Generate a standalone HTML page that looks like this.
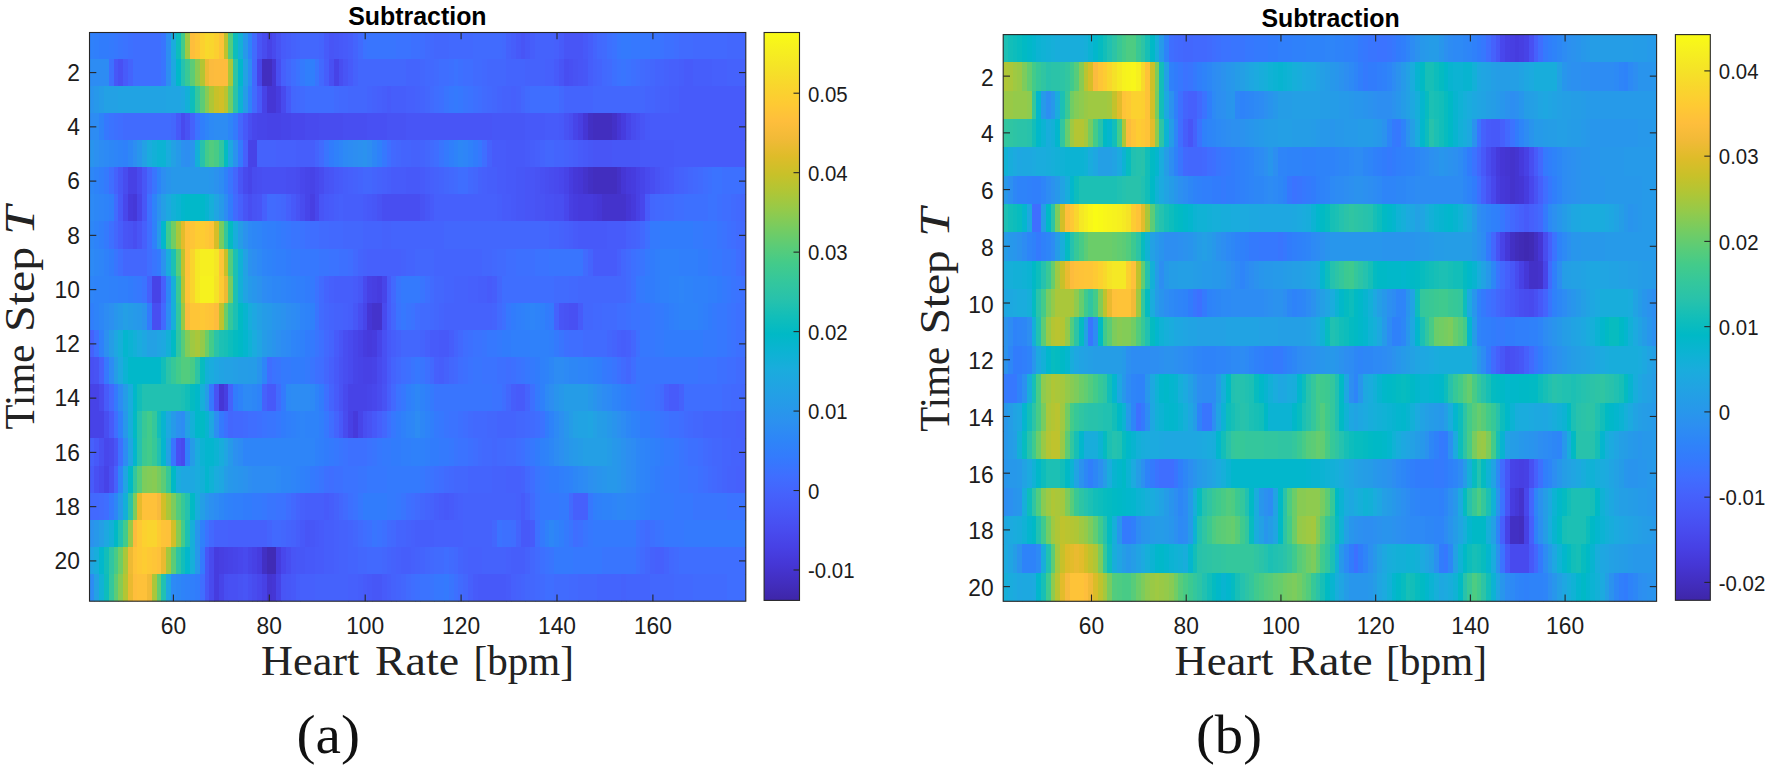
<!DOCTYPE html>
<html><head><meta charset="utf-8"><title>Subtraction</title>
<style>html,body{margin:0;padding:0;background:#fff}svg{display:block}</style></head>
<body>
<svg width="1772" height="772" viewBox="0 0 1772 772">
<rect width="1772" height="772" fill="#fff"/>
<clipPath id="lclip"><rect x="89.50" y="32.50" width="656.30" height="568.70"/></clipPath>
<g clip-path="url(#lclip)">
<g shape-rendering="crispEdges" stroke-width="27.93" fill="none">
<path d="M89.5 45.5H94.8" stroke="#2f81fa"/>
<path d="M94.3 45.5H99.6" stroke="#307ffb"/>
<path d="M99.1 45.5H109.2" stroke="#317cfc"/>
<path d="M108.7 45.5H114.0" stroke="#347afd"/>
<path d="M113.5 45.5H118.7" stroke="#3678fe"/>
<path d="M118.2 45.5H123.5" stroke="#3975fe"/>
<path d="M123.0 45.5H128.3" stroke="#3b73ff"/>
<path d="M127.8 45.5H133.1" stroke="#3d70ff"/>
<path d="M132.6 45.5H161.9" stroke="#3f6eff"/>
<path d="M161.4 45.5H166.6" stroke="#3975fe"/>
<path d="M166.1 45.5H171.4" stroke="#2d8ef1"/>
<path d="M170.9 45.5H176.2" stroke="#1aacdd"/>
<path d="M175.7 45.5H181.0" stroke="#0dbdbc"/>
<path d="M180.5 45.5H185.8" stroke="#43cb8a"/>
<path d="M185.3 45.5H190.6" stroke="#9fc942"/>
<path d="M190.1 45.5H195.4" stroke="#febe3c"/>
<path d="M194.9 45.5H200.2" stroke="#fec537"/>
<path d="M199.7 45.5H205.0" stroke="#fcd12f"/>
<path d="M204.5 45.5H209.8" stroke="#f8d92b"/>
<path d="M209.3 45.5H214.6" stroke="#f9d62d"/>
<path d="M214.1 45.5H219.3" stroke="#fccf30"/>
<path d="M218.8 45.5H224.1" stroke="#fec338"/>
<path d="M223.6 45.5H228.9" stroke="#bfc32d"/>
<path d="M228.4 45.5H233.7" stroke="#52cc7e"/>
<path d="M233.2 45.5H238.5" stroke="#0dbdbc"/>
<path d="M238.0 45.5H243.3" stroke="#13b0d7"/>
<path d="M242.8 45.5H248.1" stroke="#2798ea"/>
<path d="M247.6 45.5H252.9" stroke="#2e83f9"/>
<path d="M252.4 45.5H257.7" stroke="#416bfe"/>
<path d="M257.2 45.5H262.5" stroke="#4855f6"/>
<path d="M262.0 45.5H267.2" stroke="#484cef"/>
<path d="M266.7 45.5H272.0" stroke="#4743e7"/>
<path d="M271.5 45.5H276.8" stroke="#484aee"/>
<path d="M276.3 45.5H281.6" stroke="#4853f4"/>
<path d="M281.1 45.5H286.4" stroke="#475bfa"/>
<path d="M285.9 45.5H291.2" stroke="#465efb"/>
<path d="M290.7 45.5H296.0" stroke="#4562fc"/>
<path d="M295.5 45.5H300.8" stroke="#4464fd"/>
<path d="M300.3 45.5H319.9" stroke="#4367fd"/>
<path d="M319.4 45.5H324.7" stroke="#4464fd"/>
<path d="M324.2 45.5H329.5" stroke="#475bfa"/>
<path d="M329.0 45.5H334.3" stroke="#4855f6"/>
<path d="M333.8 45.5H339.1" stroke="#4757f7"/>
<path d="M338.6 45.5H343.9" stroke="#4759f9"/>
<path d="M343.4 45.5H348.7" stroke="#475bfa"/>
<path d="M348.2 45.5H353.5" stroke="#465efb"/>
<path d="M353.0 45.5H358.3" stroke="#4464fd"/>
<path d="M357.8 45.5H363.1" stroke="#416bfe"/>
<path d="M362.6 45.5H367.8" stroke="#3b73ff"/>
<path d="M367.3 45.5H396.6" stroke="#3975fe"/>
<path d="M396.1 45.5H411.0" stroke="#3b73ff"/>
<path d="M410.5 45.5H420.5" stroke="#3d70ff"/>
<path d="M420.0 45.5H425.3" stroke="#3f6eff"/>
<path d="M424.8 45.5H430.1" stroke="#416bfe"/>
<path d="M429.6 45.5H434.9" stroke="#4269fe"/>
<path d="M434.4 45.5H449.3" stroke="#4367fd"/>
<path d="M448.8 45.5H473.2" stroke="#4269fe"/>
<path d="M472.7 45.5H502.0" stroke="#416bfe"/>
<path d="M501.5 45.5H506.8" stroke="#4269fe"/>
<path d="M506.3 45.5H511.6" stroke="#4562fc"/>
<path d="M511.1 45.5H516.4" stroke="#465efb"/>
<path d="M515.9 45.5H521.1" stroke="#4759f9"/>
<path d="M520.6 45.5H525.9" stroke="#4855f6"/>
<path d="M525.4 45.5H530.7" stroke="#4759f9"/>
<path d="M530.2 45.5H535.5" stroke="#465efb"/>
<path d="M535.0 45.5H554.7" stroke="#4562fc"/>
<path d="M554.2 45.5H559.5" stroke="#4660fc"/>
<path d="M559.0 45.5H564.3" stroke="#475bfa"/>
<path d="M563.8 45.5H583.4" stroke="#4855f6"/>
<path d="M582.9 45.5H588.2" stroke="#4759f9"/>
<path d="M587.7 45.5H593.0" stroke="#465efb"/>
<path d="M592.5 45.5H597.8" stroke="#4464fd"/>
<path d="M597.3 45.5H602.6" stroke="#4269fe"/>
<path d="M602.1 45.5H607.4" stroke="#416bfe"/>
<path d="M606.9 45.5H612.2" stroke="#3d70ff"/>
<path d="M611.7 45.5H617.0" stroke="#3b73ff"/>
<path d="M616.5 45.5H621.7" stroke="#3678fe"/>
<path d="M621.2 45.5H631.3" stroke="#347afd"/>
<path d="M630.8 45.5H650.5" stroke="#3678fe"/>
<path d="M650.0 45.5H660.1" stroke="#3975fe"/>
<path d="M659.6 45.5H664.9" stroke="#3b73ff"/>
<path d="M664.4 45.5H674.4" stroke="#3d70ff"/>
<path d="M673.9 45.5H679.2" stroke="#3f6eff"/>
<path d="M678.7 45.5H693.6" stroke="#416bfe"/>
<path d="M693.1 45.5H727.1" stroke="#4269fe"/>
<path d="M726.6 45.5H746.3" stroke="#4367fd"/>
<path d="M89.5 72.6H109.2" stroke="#2d8cf3"/>
<path d="M108.7 72.6H114.0" stroke="#3d70ff"/>
<path d="M113.5 72.6H118.7" stroke="#4757f7"/>
<path d="M118.2 72.6H123.5" stroke="#4850f3"/>
<path d="M123.0 72.6H128.3" stroke="#475bfa"/>
<path d="M127.8 72.6H133.1" stroke="#4464fd"/>
<path d="M132.6 72.6H161.9" stroke="#3f6eff"/>
<path d="M161.4 72.6H166.6" stroke="#3975fe"/>
<path d="M166.1 72.6H171.4" stroke="#2d8ef1"/>
<path d="M170.9 72.6H176.2" stroke="#1da8e0"/>
<path d="M175.7 72.6H181.0" stroke="#01b8c9"/>
<path d="M180.5 72.6H185.8" stroke="#25c2ae"/>
<path d="M185.3 72.6H190.6" stroke="#39c895"/>
<path d="M190.1 72.6H195.4" stroke="#5ccc76"/>
<path d="M194.9 72.6H200.2" stroke="#88cb53"/>
<path d="M199.7 72.6H205.0" stroke="#b4c533"/>
<path d="M204.5 72.6H209.8" stroke="#eeba34"/>
<path d="M209.3 72.6H214.6" stroke="#fbbb3e"/>
<path d="M214.1 72.6H228.9" stroke="#fdbc3d"/>
<path d="M228.4 72.6H233.7" stroke="#aac73a"/>
<path d="M233.2 72.6H238.5" stroke="#2dc4a5"/>
<path d="M238.0 72.6H243.3" stroke="#02b7cc"/>
<path d="M242.8 72.6H248.1" stroke="#23a1e4"/>
<path d="M247.6 72.6H252.9" stroke="#2d8cf3"/>
<path d="M252.4 72.6H257.7" stroke="#4269fe"/>
<path d="M257.2 72.6H262.5" stroke="#4745e9"/>
<path d="M262.0 72.6H272.0" stroke="#422ebf"/>
<path d="M271.5 72.6H276.8" stroke="#4536d5"/>
<path d="M276.3 72.6H281.6" stroke="#484ef1"/>
<path d="M281.1 72.6H286.4" stroke="#4660fc"/>
<path d="M285.9 72.6H291.2" stroke="#4367fd"/>
<path d="M290.7 72.6H296.0" stroke="#3f6eff"/>
<path d="M295.5 72.6H300.8" stroke="#3b73ff"/>
<path d="M300.3 72.6H305.6" stroke="#347afd"/>
<path d="M305.1 72.6H315.2" stroke="#307ffb"/>
<path d="M314.7 72.6H319.9" stroke="#3975fe"/>
<path d="M319.4 72.6H324.7" stroke="#4269fe"/>
<path d="M324.2 72.6H329.5" stroke="#465efb"/>
<path d="M329.0 72.6H334.3" stroke="#4850f3"/>
<path d="M333.8 72.6H339.1" stroke="#4743e7"/>
<path d="M338.6 72.6H343.9" stroke="#484ef1"/>
<path d="M343.4 72.6H348.7" stroke="#4855f6"/>
<path d="M348.2 72.6H353.5" stroke="#475bfa"/>
<path d="M353.0 72.6H358.3" stroke="#4562fc"/>
<path d="M357.8 72.6H406.2" stroke="#4367fd"/>
<path d="M405.7 72.6H420.5" stroke="#4464fd"/>
<path d="M420.0 72.6H425.3" stroke="#4367fd"/>
<path d="M424.8 72.6H434.9" stroke="#4269fe"/>
<path d="M434.4 72.6H439.7" stroke="#416bfe"/>
<path d="M439.2 72.6H449.3" stroke="#3f6eff"/>
<path d="M448.8 72.6H454.1" stroke="#3d70ff"/>
<path d="M453.6 72.6H458.9" stroke="#3b73ff"/>
<path d="M458.4 72.6H463.7" stroke="#3d70ff"/>
<path d="M463.2 72.6H473.2" stroke="#3f6eff"/>
<path d="M472.7 72.6H482.8" stroke="#416bfe"/>
<path d="M482.3 72.6H487.6" stroke="#4269fe"/>
<path d="M487.1 72.6H506.8" stroke="#4367fd"/>
<path d="M506.3 72.6H525.9" stroke="#4464fd"/>
<path d="M525.4 72.6H545.1" stroke="#4562fc"/>
<path d="M544.6 72.6H554.7" stroke="#4660fc"/>
<path d="M554.2 72.6H559.5" stroke="#475bfa"/>
<path d="M559.0 72.6H564.3" stroke="#4855f6"/>
<path d="M563.8 72.6H569.1" stroke="#484ef1"/>
<path d="M568.6 72.6H573.8" stroke="#4850f3"/>
<path d="M573.3 72.6H578.6" stroke="#4853f4"/>
<path d="M578.1 72.6H583.4" stroke="#4855f6"/>
<path d="M582.9 72.6H588.2" stroke="#4757f7"/>
<path d="M587.7 72.6H593.0" stroke="#465efb"/>
<path d="M592.5 72.6H597.8" stroke="#4562fc"/>
<path d="M597.3 72.6H602.6" stroke="#4464fd"/>
<path d="M602.1 72.6H607.4" stroke="#4269fe"/>
<path d="M606.9 72.6H612.2" stroke="#416bfe"/>
<path d="M611.7 72.6H617.0" stroke="#3d70ff"/>
<path d="M616.5 72.6H621.7" stroke="#3b73ff"/>
<path d="M621.2 72.6H626.5" stroke="#3975fe"/>
<path d="M626.0 72.6H631.3" stroke="#3b73ff"/>
<path d="M630.8 72.6H636.1" stroke="#3d70ff"/>
<path d="M635.6 72.6H640.9" stroke="#3f6eff"/>
<path d="M640.4 72.6H645.7" stroke="#416bfe"/>
<path d="M645.2 72.6H650.5" stroke="#4269fe"/>
<path d="M650.0 72.6H655.3" stroke="#4367fd"/>
<path d="M654.8 72.6H664.9" stroke="#4464fd"/>
<path d="M664.4 72.6H669.7" stroke="#4562fc"/>
<path d="M669.2 72.6H679.2" stroke="#4660fc"/>
<path d="M678.7 72.6H684.0" stroke="#465efb"/>
<path d="M683.5 72.6H693.6" stroke="#475bfa"/>
<path d="M693.1 72.6H712.8" stroke="#465efb"/>
<path d="M712.3 72.6H727.1" stroke="#4660fc"/>
<path d="M726.6 72.6H746.3" stroke="#4562fc"/>
<path d="M89.5 99.7H94.8" stroke="#2994ed"/>
<path d="M94.3 99.7H99.6" stroke="#2798ea"/>
<path d="M99.1 99.7H104.4" stroke="#259ce7"/>
<path d="M103.9 99.7H118.7" stroke="#23a1e4"/>
<path d="M118.2 99.7H166.6" stroke="#21a3e3"/>
<path d="M166.1 99.7H181.0" stroke="#20a5e2"/>
<path d="M180.5 99.7H185.8" stroke="#1da8e0"/>
<path d="M185.3 99.7H190.6" stroke="#13b0d7"/>
<path d="M190.1 99.7H195.4" stroke="#0dbdbc"/>
<path d="M194.9 99.7H200.2" stroke="#34c79c"/>
<path d="M199.7 99.7H205.0" stroke="#5ccc76"/>
<path d="M204.5 99.7H209.8" stroke="#88cb53"/>
<path d="M209.3 99.7H214.6" stroke="#afc636"/>
<path d="M214.1 99.7H219.3" stroke="#c8c129"/>
<path d="M218.8 99.7H224.1" stroke="#d2bf27"/>
<path d="M223.6 99.7H228.9" stroke="#bac430"/>
<path d="M228.4 99.7H233.7" stroke="#71cd64"/>
<path d="M233.2 99.7H238.5" stroke="#2bc3a8"/>
<path d="M238.0 99.7H243.3" stroke="#0cb3d3"/>
<path d="M242.8 99.7H248.1" stroke="#259ce7"/>
<path d="M247.6 99.7H252.9" stroke="#2e83f9"/>
<path d="M252.4 99.7H257.7" stroke="#416bfe"/>
<path d="M257.2 99.7H262.5" stroke="#4759f9"/>
<path d="M262.0 99.7H267.2" stroke="#4743e7"/>
<path d="M266.7 99.7H276.8" stroke="#4536d5"/>
<path d="M276.3 99.7H281.6" stroke="#463cdf"/>
<path d="M281.1 99.7H286.4" stroke="#484aee"/>
<path d="M285.9 99.7H291.2" stroke="#4759f9"/>
<path d="M290.7 99.7H296.0" stroke="#4367fd"/>
<path d="M295.5 99.7H300.8" stroke="#4269fe"/>
<path d="M300.3 99.7H305.6" stroke="#416bfe"/>
<path d="M305.1 99.7H334.3" stroke="#3f6eff"/>
<path d="M333.8 99.7H339.1" stroke="#416bfe"/>
<path d="M338.6 99.7H348.7" stroke="#4269fe"/>
<path d="M348.2 99.7H367.8" stroke="#4367fd"/>
<path d="M367.3 99.7H372.6" stroke="#4464fd"/>
<path d="M372.1 99.7H377.4" stroke="#4562fc"/>
<path d="M376.9 99.7H382.2" stroke="#4660fc"/>
<path d="M381.7 99.7H387.0" stroke="#465efb"/>
<path d="M386.5 99.7H391.8" stroke="#475bfa"/>
<path d="M391.3 99.7H406.2" stroke="#465efb"/>
<path d="M405.7 99.7H415.8" stroke="#4660fc"/>
<path d="M415.3 99.7H420.5" stroke="#4562fc"/>
<path d="M420.0 99.7H425.3" stroke="#4464fd"/>
<path d="M424.8 99.7H430.1" stroke="#4367fd"/>
<path d="M429.6 99.7H434.9" stroke="#416bfe"/>
<path d="M434.4 99.7H439.7" stroke="#3f6eff"/>
<path d="M439.2 99.7H444.5" stroke="#3d70ff"/>
<path d="M444.0 99.7H449.3" stroke="#3975fe"/>
<path d="M448.8 99.7H454.1" stroke="#3678fe"/>
<path d="M453.6 99.7H458.9" stroke="#347afd"/>
<path d="M458.4 99.7H463.7" stroke="#3678fe"/>
<path d="M463.2 99.7H468.5" stroke="#3975fe"/>
<path d="M468.0 99.7H473.2" stroke="#3b73ff"/>
<path d="M472.7 99.7H478.0" stroke="#3d70ff"/>
<path d="M477.5 99.7H482.8" stroke="#3f6eff"/>
<path d="M482.3 99.7H487.6" stroke="#416bfe"/>
<path d="M487.1 99.7H492.4" stroke="#4269fe"/>
<path d="M491.9 99.7H497.2" stroke="#4367fd"/>
<path d="M496.7 99.7H502.0" stroke="#4464fd"/>
<path d="M501.5 99.7H511.6" stroke="#4562fc"/>
<path d="M511.1 99.7H516.4" stroke="#4660fc"/>
<path d="M515.9 99.7H521.1" stroke="#4562fc"/>
<path d="M520.6 99.7H525.9" stroke="#4367fd"/>
<path d="M525.4 99.7H530.7" stroke="#416bfe"/>
<path d="M530.2 99.7H559.5" stroke="#3f6eff"/>
<path d="M559.0 99.7H564.3" stroke="#4269fe"/>
<path d="M563.8 99.7H593.0" stroke="#4464fd"/>
<path d="M592.5 99.7H645.7" stroke="#4367fd"/>
<path d="M645.2 99.7H655.3" stroke="#4464fd"/>
<path d="M654.8 99.7H660.1" stroke="#4562fc"/>
<path d="M659.6 99.7H669.7" stroke="#4660fc"/>
<path d="M669.2 99.7H679.2" stroke="#465efb"/>
<path d="M678.7 99.7H746.3" stroke="#475bfa"/>
<path d="M89.5 126.8H99.6" stroke="#2d8cf3"/>
<path d="M99.1 126.8H104.4" stroke="#2e83f9"/>
<path d="M103.9 126.8H109.2" stroke="#3678fe"/>
<path d="M108.7 126.8H114.0" stroke="#3b73ff"/>
<path d="M113.5 126.8H118.7" stroke="#3d70ff"/>
<path d="M118.2 126.8H123.5" stroke="#3f6eff"/>
<path d="M123.0 126.8H171.4" stroke="#416bfe"/>
<path d="M170.9 126.8H176.2" stroke="#4367fd"/>
<path d="M175.7 126.8H181.0" stroke="#4759f9"/>
<path d="M180.5 126.8H185.8" stroke="#484aee"/>
<path d="M185.3 126.8H190.6" stroke="#4853f4"/>
<path d="M190.1 126.8H195.4" stroke="#4562fc"/>
<path d="M194.9 126.8H200.2" stroke="#3b73ff"/>
<path d="M199.7 126.8H205.0" stroke="#307ffb"/>
<path d="M204.5 126.8H209.8" stroke="#2e85f8"/>
<path d="M209.3 126.8H214.6" stroke="#2d8af5"/>
<path d="M214.1 126.8H228.9" stroke="#2d8cf3"/>
<path d="M228.4 126.8H233.7" stroke="#2e85f8"/>
<path d="M233.2 126.8H238.5" stroke="#347afd"/>
<path d="M238.0 126.8H243.3" stroke="#4367fd"/>
<path d="M242.8 126.8H248.1" stroke="#4759f9"/>
<path d="M247.6 126.8H252.9" stroke="#484ef1"/>
<path d="M252.4 126.8H257.7" stroke="#4847ec"/>
<path d="M257.2 126.8H267.2" stroke="#4745e9"/>
<path d="M266.7 126.8H281.6" stroke="#4743e7"/>
<path d="M281.1 126.8H291.2" stroke="#4745e9"/>
<path d="M290.7 126.8H305.6" stroke="#4847ec"/>
<path d="M305.1 126.8H319.9" stroke="#484aee"/>
<path d="M319.4 126.8H343.9" stroke="#484cef"/>
<path d="M343.4 126.8H367.8" stroke="#484ef1"/>
<path d="M367.3 126.8H387.0" stroke="#4850f3"/>
<path d="M386.5 126.8H406.2" stroke="#4853f4"/>
<path d="M405.7 126.8H492.4" stroke="#4855f6"/>
<path d="M491.9 126.8H525.9" stroke="#4757f7"/>
<path d="M525.4 126.8H545.1" stroke="#4759f9"/>
<path d="M544.6 126.8H559.5" stroke="#475bfa"/>
<path d="M559.0 126.8H564.3" stroke="#4759f9"/>
<path d="M563.8 126.8H569.1" stroke="#4853f4"/>
<path d="M568.6 126.8H573.8" stroke="#484ef1"/>
<path d="M573.3 126.8H578.6" stroke="#4745e9"/>
<path d="M578.1 126.8H583.4" stroke="#473fe2"/>
<path d="M582.9 126.8H588.2" stroke="#4536d5"/>
<path d="M587.7 126.8H593.0" stroke="#4230c4"/>
<path d="M592.5 126.8H612.2" stroke="#422ebf"/>
<path d="M611.7 126.8H617.0" stroke="#4331c8"/>
<path d="M616.5 126.8H621.7" stroke="#4536d5"/>
<path d="M621.2 126.8H626.5" stroke="#463cdf"/>
<path d="M626.0 126.8H631.3" stroke="#4745e9"/>
<path d="M630.8 126.8H636.1" stroke="#484cef"/>
<path d="M635.6 126.8H640.9" stroke="#4850f3"/>
<path d="M640.4 126.8H645.7" stroke="#4855f6"/>
<path d="M645.2 126.8H650.5" stroke="#4759f9"/>
<path d="M650.0 126.8H746.3" stroke="#475bfa"/>
<path d="M89.5 154.0H94.8" stroke="#2994ed"/>
<path d="M94.3 154.0H99.6" stroke="#2c90f0"/>
<path d="M99.1 154.0H104.4" stroke="#2d8cf3"/>
<path d="M103.9 154.0H109.2" stroke="#2d8af5"/>
<path d="M108.7 154.0H114.0" stroke="#2d87f6"/>
<path d="M113.5 154.0H118.7" stroke="#2e85f8"/>
<path d="M118.2 154.0H123.5" stroke="#2e83f9"/>
<path d="M123.0 154.0H128.3" stroke="#2f81fa"/>
<path d="M127.8 154.0H133.1" stroke="#2d87f6"/>
<path d="M132.6 154.0H137.9" stroke="#2d8ef1"/>
<path d="M137.4 154.0H142.7" stroke="#2896ec"/>
<path d="M142.2 154.0H147.5" stroke="#23a1e4"/>
<path d="M147.0 154.0H152.3" stroke="#1aacdd"/>
<path d="M151.8 154.0H157.1" stroke="#13b0d7"/>
<path d="M156.6 154.0H166.6" stroke="#0cb3d3"/>
<path d="M166.1 154.0H171.4" stroke="#1aacdd"/>
<path d="M170.9 154.0H176.2" stroke="#23a1e4"/>
<path d="M175.7 154.0H181.0" stroke="#269ae9"/>
<path d="M180.5 154.0H185.8" stroke="#2c90f0"/>
<path d="M185.3 154.0H190.6" stroke="#2d8ef1"/>
<path d="M190.1 154.0H195.4" stroke="#2994ed"/>
<path d="M194.9 154.0H200.2" stroke="#13b0d7"/>
<path d="M199.7 154.0H205.0" stroke="#28c2ab"/>
<path d="M204.5 154.0H209.8" stroke="#43cb8a"/>
<path d="M209.3 154.0H214.6" stroke="#52cc7e"/>
<path d="M214.1 154.0H219.3" stroke="#48cb86"/>
<path d="M218.8 154.0H224.1" stroke="#32c69f"/>
<path d="M223.6 154.0H228.9" stroke="#04bbc1"/>
<path d="M228.4 154.0H233.7" stroke="#1da8e0"/>
<path d="M233.2 154.0H238.5" stroke="#2b92ee"/>
<path d="M238.0 154.0H243.3" stroke="#347afd"/>
<path d="M242.8 154.0H248.1" stroke="#4660fc"/>
<path d="M247.6 154.0H257.7" stroke="#4743e7"/>
<path d="M257.2 154.0H276.8" stroke="#4562fc"/>
<path d="M276.3 154.0H296.0" stroke="#4660fc"/>
<path d="M295.5 154.0H315.2" stroke="#465efb"/>
<path d="M314.7 154.0H319.9" stroke="#4464fd"/>
<path d="M319.4 154.0H324.7" stroke="#416bfe"/>
<path d="M324.2 154.0H329.5" stroke="#3975fe"/>
<path d="M329.0 154.0H334.3" stroke="#317cfc"/>
<path d="M333.8 154.0H339.1" stroke="#2f81fa"/>
<path d="M338.6 154.0H343.9" stroke="#2e85f8"/>
<path d="M343.4 154.0H348.7" stroke="#2d8af5"/>
<path d="M348.2 154.0H353.5" stroke="#2d8cf3"/>
<path d="M353.0 154.0H358.3" stroke="#2d8ef1"/>
<path d="M357.8 154.0H363.1" stroke="#2c90f0"/>
<path d="M362.6 154.0H367.8" stroke="#2b92ee"/>
<path d="M367.3 154.0H372.6" stroke="#2d8ef1"/>
<path d="M372.1 154.0H377.4" stroke="#2d87f6"/>
<path d="M376.9 154.0H382.2" stroke="#2f81fa"/>
<path d="M381.7 154.0H387.0" stroke="#3678fe"/>
<path d="M386.5 154.0H391.8" stroke="#3d70ff"/>
<path d="M391.3 154.0H396.6" stroke="#4269fe"/>
<path d="M396.1 154.0H401.4" stroke="#4367fd"/>
<path d="M400.9 154.0H411.0" stroke="#4464fd"/>
<path d="M410.5 154.0H420.5" stroke="#4562fc"/>
<path d="M420.0 154.0H425.3" stroke="#4464fd"/>
<path d="M424.8 154.0H430.1" stroke="#4367fd"/>
<path d="M429.6 154.0H434.9" stroke="#416bfe"/>
<path d="M434.4 154.0H439.7" stroke="#3f6eff"/>
<path d="M439.2 154.0H444.5" stroke="#3975fe"/>
<path d="M444.0 154.0H449.3" stroke="#347afd"/>
<path d="M448.8 154.0H454.1" stroke="#307ffb"/>
<path d="M453.6 154.0H458.9" stroke="#2e83f9"/>
<path d="M458.4 154.0H463.7" stroke="#2d87f6"/>
<path d="M463.2 154.0H468.5" stroke="#2e85f8"/>
<path d="M468.0 154.0H473.2" stroke="#2f81fa"/>
<path d="M472.7 154.0H478.0" stroke="#317cfc"/>
<path d="M477.5 154.0H482.8" stroke="#3678fe"/>
<path d="M482.3 154.0H487.6" stroke="#3f6eff"/>
<path d="M487.1 154.0H492.4" stroke="#4562fc"/>
<path d="M491.9 154.0H506.8" stroke="#475bfa"/>
<path d="M506.3 154.0H525.9" stroke="#4759f9"/>
<path d="M525.4 154.0H530.7" stroke="#475bfa"/>
<path d="M530.2 154.0H535.5" stroke="#465efb"/>
<path d="M535.0 154.0H540.3" stroke="#4660fc"/>
<path d="M539.8 154.0H545.1" stroke="#4464fd"/>
<path d="M544.6 154.0H554.7" stroke="#4367fd"/>
<path d="M554.2 154.0H564.3" stroke="#4464fd"/>
<path d="M563.8 154.0H569.1" stroke="#4562fc"/>
<path d="M568.6 154.0H573.8" stroke="#4660fc"/>
<path d="M573.3 154.0H578.6" stroke="#465efb"/>
<path d="M578.1 154.0H583.4" stroke="#475bfa"/>
<path d="M582.9 154.0H588.2" stroke="#4759f9"/>
<path d="M587.7 154.0H593.0" stroke="#4757f7"/>
<path d="M592.5 154.0H612.2" stroke="#4855f6"/>
<path d="M611.7 154.0H640.9" stroke="#4757f7"/>
<path d="M640.4 154.0H674.4" stroke="#4759f9"/>
<path d="M673.9 154.0H746.3" stroke="#475bfa"/>
<path d="M89.5 181.1H94.8" stroke="#2d87f6"/>
<path d="M94.3 181.1H99.6" stroke="#2e83f9"/>
<path d="M99.1 181.1H104.4" stroke="#307ffb"/>
<path d="M103.9 181.1H109.2" stroke="#347afd"/>
<path d="M108.7 181.1H114.0" stroke="#3f6eff"/>
<path d="M113.5 181.1H118.7" stroke="#4562fc"/>
<path d="M118.2 181.1H123.5" stroke="#4757f7"/>
<path d="M123.0 181.1H128.3" stroke="#484cef"/>
<path d="M127.8 181.1H137.9" stroke="#4741e5"/>
<path d="M137.4 181.1H142.7" stroke="#484aee"/>
<path d="M142.2 181.1H147.5" stroke="#4757f7"/>
<path d="M147.0 181.1H152.3" stroke="#4367fd"/>
<path d="M151.8 181.1H157.1" stroke="#3975fe"/>
<path d="M156.6 181.1H161.9" stroke="#2e83f9"/>
<path d="M161.4 181.1H166.6" stroke="#2d8ef1"/>
<path d="M166.1 181.1H171.4" stroke="#2994ed"/>
<path d="M170.9 181.1H209.8" stroke="#2798ea"/>
<path d="M209.3 181.1H214.6" stroke="#2896ec"/>
<path d="M214.1 181.1H219.3" stroke="#2b92ee"/>
<path d="M218.8 181.1H224.1" stroke="#2d8cf3"/>
<path d="M223.6 181.1H228.9" stroke="#2f81fa"/>
<path d="M228.4 181.1H233.7" stroke="#3975fe"/>
<path d="M233.2 181.1H238.5" stroke="#4367fd"/>
<path d="M238.0 181.1H243.3" stroke="#4855f6"/>
<path d="M242.8 181.1H248.1" stroke="#484aee"/>
<path d="M247.6 181.1H252.9" stroke="#4745e9"/>
<path d="M252.4 181.1H257.7" stroke="#484cef"/>
<path d="M257.2 181.1H262.5" stroke="#484ef1"/>
<path d="M262.0 181.1H286.4" stroke="#4850f3"/>
<path d="M285.9 181.1H296.0" stroke="#484ef1"/>
<path d="M295.5 181.1H300.8" stroke="#484cef"/>
<path d="M300.3 181.1H305.6" stroke="#4847ec"/>
<path d="M305.1 181.1H310.4" stroke="#4745e9"/>
<path d="M309.9 181.1H315.2" stroke="#4743e7"/>
<path d="M314.7 181.1H319.9" stroke="#4847ec"/>
<path d="M319.4 181.1H324.7" stroke="#484cef"/>
<path d="M324.2 181.1H329.5" stroke="#4853f4"/>
<path d="M329.0 181.1H334.3" stroke="#4855f6"/>
<path d="M333.8 181.1H339.1" stroke="#4759f9"/>
<path d="M338.6 181.1H343.9" stroke="#475bfa"/>
<path d="M343.4 181.1H348.7" stroke="#465efb"/>
<path d="M348.2 181.1H353.5" stroke="#4660fc"/>
<path d="M353.0 181.1H358.3" stroke="#4562fc"/>
<path d="M357.8 181.1H363.1" stroke="#4464fd"/>
<path d="M362.6 181.1H372.6" stroke="#4367fd"/>
<path d="M372.1 181.1H377.4" stroke="#4464fd"/>
<path d="M376.9 181.1H382.2" stroke="#4562fc"/>
<path d="M381.7 181.1H387.0" stroke="#4660fc"/>
<path d="M386.5 181.1H391.8" stroke="#465efb"/>
<path d="M391.3 181.1H406.2" stroke="#475bfa"/>
<path d="M405.7 181.1H420.5" stroke="#4759f9"/>
<path d="M420.0 181.1H425.3" stroke="#475bfa"/>
<path d="M424.8 181.1H430.1" stroke="#465efb"/>
<path d="M429.6 181.1H434.9" stroke="#4660fc"/>
<path d="M434.4 181.1H439.7" stroke="#4562fc"/>
<path d="M439.2 181.1H444.5" stroke="#4464fd"/>
<path d="M444.0 181.1H449.3" stroke="#4367fd"/>
<path d="M448.8 181.1H454.1" stroke="#4269fe"/>
<path d="M453.6 181.1H458.9" stroke="#416bfe"/>
<path d="M458.4 181.1H468.5" stroke="#3f6eff"/>
<path d="M468.0 181.1H473.2" stroke="#4269fe"/>
<path d="M472.7 181.1H478.0" stroke="#4367fd"/>
<path d="M477.5 181.1H482.8" stroke="#4562fc"/>
<path d="M482.3 181.1H487.6" stroke="#4660fc"/>
<path d="M487.1 181.1H497.2" stroke="#465efb"/>
<path d="M496.7 181.1H506.8" stroke="#475bfa"/>
<path d="M506.3 181.1H516.4" stroke="#4759f9"/>
<path d="M515.9 181.1H525.9" stroke="#4757f7"/>
<path d="M525.4 181.1H535.5" stroke="#4855f6"/>
<path d="M535.0 181.1H540.3" stroke="#4853f4"/>
<path d="M539.8 181.1H545.1" stroke="#4850f3"/>
<path d="M544.6 181.1H549.9" stroke="#484ef1"/>
<path d="M549.4 181.1H554.7" stroke="#484cef"/>
<path d="M554.2 181.1H559.5" stroke="#484aee"/>
<path d="M559.0 181.1H564.3" stroke="#4847ec"/>
<path d="M563.8 181.1H569.1" stroke="#4743e7"/>
<path d="M568.6 181.1H573.8" stroke="#463cdf"/>
<path d="M573.3 181.1H578.6" stroke="#4538d8"/>
<path d="M578.1 181.1H583.4" stroke="#4536d5"/>
<path d="M582.9 181.1H588.2" stroke="#4433cc"/>
<path d="M587.7 181.1H593.0" stroke="#4230c4"/>
<path d="M592.5 181.1H617.0" stroke="#422ebf"/>
<path d="M616.5 181.1H621.7" stroke="#4331c8"/>
<path d="M621.2 181.1H626.5" stroke="#4536d5"/>
<path d="M626.0 181.1H631.3" stroke="#463adc"/>
<path d="M630.8 181.1H636.1" stroke="#463cdf"/>
<path d="M635.6 181.1H640.9" stroke="#4741e5"/>
<path d="M640.4 181.1H645.7" stroke="#4745e9"/>
<path d="M645.2 181.1H650.5" stroke="#484aee"/>
<path d="M650.0 181.1H655.3" stroke="#484ef1"/>
<path d="M654.8 181.1H660.1" stroke="#4853f4"/>
<path d="M659.6 181.1H664.9" stroke="#4757f7"/>
<path d="M664.4 181.1H669.7" stroke="#4759f9"/>
<path d="M669.2 181.1H674.4" stroke="#475bfa"/>
<path d="M673.9 181.1H679.2" stroke="#4660fc"/>
<path d="M678.7 181.1H684.0" stroke="#4562fc"/>
<path d="M683.5 181.1H688.8" stroke="#4464fd"/>
<path d="M688.3 181.1H693.6" stroke="#4367fd"/>
<path d="M693.1 181.1H698.4" stroke="#4269fe"/>
<path d="M697.9 181.1H703.2" stroke="#416bfe"/>
<path d="M702.7 181.1H708.0" stroke="#3f6eff"/>
<path d="M707.5 181.1H712.8" stroke="#3d70ff"/>
<path d="M712.3 181.1H722.3" stroke="#3b73ff"/>
<path d="M721.8 181.1H741.5" stroke="#3d70ff"/>
<path d="M741.0 181.1H746.3" stroke="#3f6eff"/>
<path d="M89.5 208.2H94.8" stroke="#2d8af5"/>
<path d="M94.3 208.2H99.6" stroke="#2d87f6"/>
<path d="M99.1 208.2H104.4" stroke="#2e85f8"/>
<path d="M103.9 208.2H109.2" stroke="#2e83f9"/>
<path d="M108.7 208.2H114.0" stroke="#307ffb"/>
<path d="M113.5 208.2H118.7" stroke="#416bfe"/>
<path d="M118.2 208.2H123.5" stroke="#4759f9"/>
<path d="M123.0 208.2H128.3" stroke="#4847ec"/>
<path d="M127.8 208.2H133.1" stroke="#463adc"/>
<path d="M132.6 208.2H137.9" stroke="#4538d8"/>
<path d="M137.4 208.2H142.7" stroke="#4745e9"/>
<path d="M142.2 208.2H147.5" stroke="#4757f7"/>
<path d="M147.0 208.2H152.3" stroke="#3d70ff"/>
<path d="M151.8 208.2H157.1" stroke="#2e83f9"/>
<path d="M156.6 208.2H161.9" stroke="#2b92ee"/>
<path d="M161.4 208.2H166.6" stroke="#249fe5"/>
<path d="M166.1 208.2H171.4" stroke="#1da8e0"/>
<path d="M170.9 208.2H176.2" stroke="#13b0d7"/>
<path d="M175.7 208.2H181.0" stroke="#0cb3d3"/>
<path d="M180.5 208.2H185.8" stroke="#02b7cc"/>
<path d="M185.3 208.2H205.0" stroke="#01b8c9"/>
<path d="M204.5 208.2H209.8" stroke="#08b4d0"/>
<path d="M209.3 208.2H214.6" stroke="#16afd9"/>
<path d="M214.1 208.2H219.3" stroke="#20a5e2"/>
<path d="M218.8 208.2H224.1" stroke="#269ae9"/>
<path d="M223.6 208.2H228.9" stroke="#2d8cf3"/>
<path d="M228.4 208.2H233.7" stroke="#317cfc"/>
<path d="M233.2 208.2H238.5" stroke="#416bfe"/>
<path d="M238.0 208.2H243.3" stroke="#4660fc"/>
<path d="M242.8 208.2H248.1" stroke="#4855f6"/>
<path d="M247.6 208.2H252.9" stroke="#484ef1"/>
<path d="M252.4 208.2H257.7" stroke="#4853f4"/>
<path d="M257.2 208.2H262.5" stroke="#4855f6"/>
<path d="M262.0 208.2H267.2" stroke="#4660fc"/>
<path d="M266.7 208.2H276.8" stroke="#416bfe"/>
<path d="M276.3 208.2H281.6" stroke="#4269fe"/>
<path d="M281.1 208.2H286.4" stroke="#4367fd"/>
<path d="M285.9 208.2H291.2" stroke="#4660fc"/>
<path d="M290.7 208.2H296.0" stroke="#4759f9"/>
<path d="M295.5 208.2H300.8" stroke="#4853f4"/>
<path d="M300.3 208.2H305.6" stroke="#484cef"/>
<path d="M305.1 208.2H310.4" stroke="#4745e9"/>
<path d="M309.9 208.2H315.2" stroke="#473fe2"/>
<path d="M314.7 208.2H319.9" stroke="#4847ec"/>
<path d="M319.4 208.2H324.7" stroke="#4855f6"/>
<path d="M324.2 208.2H329.5" stroke="#4759f9"/>
<path d="M329.0 208.2H334.3" stroke="#475bfa"/>
<path d="M333.8 208.2H339.1" stroke="#465efb"/>
<path d="M338.6 208.2H343.9" stroke="#4660fc"/>
<path d="M343.4 208.2H363.1" stroke="#465efb"/>
<path d="M362.6 208.2H367.8" stroke="#475bfa"/>
<path d="M367.3 208.2H372.6" stroke="#4759f9"/>
<path d="M372.1 208.2H377.4" stroke="#4757f7"/>
<path d="M376.9 208.2H382.2" stroke="#4853f4"/>
<path d="M381.7 208.2H420.5" stroke="#484ef1"/>
<path d="M420.0 208.2H425.3" stroke="#4853f4"/>
<path d="M424.8 208.2H430.1" stroke="#4757f7"/>
<path d="M429.6 208.2H434.9" stroke="#475bfa"/>
<path d="M434.4 208.2H497.2" stroke="#4660fc"/>
<path d="M496.7 208.2H502.0" stroke="#465efb"/>
<path d="M501.5 208.2H511.6" stroke="#475bfa"/>
<path d="M511.1 208.2H516.4" stroke="#4759f9"/>
<path d="M515.9 208.2H525.9" stroke="#4757f7"/>
<path d="M525.4 208.2H535.5" stroke="#4855f6"/>
<path d="M535.0 208.2H545.1" stroke="#4853f4"/>
<path d="M544.6 208.2H554.7" stroke="#4850f3"/>
<path d="M554.2 208.2H564.3" stroke="#484ef1"/>
<path d="M563.8 208.2H569.1" stroke="#4847ec"/>
<path d="M568.6 208.2H573.8" stroke="#473fe2"/>
<path d="M573.3 208.2H578.6" stroke="#463cdf"/>
<path d="M578.1 208.2H593.0" stroke="#463adc"/>
<path d="M592.5 208.2H597.8" stroke="#4538d8"/>
<path d="M597.3 208.2H602.6" stroke="#4536d5"/>
<path d="M602.1 208.2H626.5" stroke="#4433cc"/>
<path d="M626.0 208.2H631.3" stroke="#4536d5"/>
<path d="M630.8 208.2H636.1" stroke="#463adc"/>
<path d="M635.6 208.2H640.9" stroke="#4741e5"/>
<path d="M640.4 208.2H645.7" stroke="#4847ec"/>
<path d="M645.2 208.2H650.5" stroke="#475bfa"/>
<path d="M650.0 208.2H655.3" stroke="#4367fd"/>
<path d="M654.8 208.2H664.9" stroke="#4269fe"/>
<path d="M664.4 208.2H674.4" stroke="#416bfe"/>
<path d="M673.9 208.2H684.0" stroke="#3f6eff"/>
<path d="M683.5 208.2H708.0" stroke="#3d70ff"/>
<path d="M707.5 208.2H717.6" stroke="#3b73ff"/>
<path d="M717.1 208.2H722.3" stroke="#3d70ff"/>
<path d="M721.8 208.2H731.9" stroke="#3f6eff"/>
<path d="M731.4 208.2H736.7" stroke="#416bfe"/>
<path d="M736.2 208.2H741.5" stroke="#4269fe"/>
<path d="M741.0 208.2H746.3" stroke="#4367fd"/>
<path d="M89.5 235.4H94.8" stroke="#2d87f6"/>
<path d="M94.3 235.4H99.6" stroke="#2e83f9"/>
<path d="M99.1 235.4H104.4" stroke="#307ffb"/>
<path d="M103.9 235.4H109.2" stroke="#347afd"/>
<path d="M108.7 235.4H114.0" stroke="#3d70ff"/>
<path d="M113.5 235.4H118.7" stroke="#4367fd"/>
<path d="M118.2 235.4H123.5" stroke="#465efb"/>
<path d="M123.0 235.4H128.3" stroke="#4855f6"/>
<path d="M127.8 235.4H133.1" stroke="#4853f4"/>
<path d="M132.6 235.4H137.9" stroke="#484ef1"/>
<path d="M137.4 235.4H142.7" stroke="#4855f6"/>
<path d="M142.2 235.4H147.5" stroke="#4660fc"/>
<path d="M147.0 235.4H152.3" stroke="#3f6eff"/>
<path d="M151.8 235.4H157.1" stroke="#2f81fa"/>
<path d="M156.6 235.4H161.9" stroke="#269ae9"/>
<path d="M161.4 235.4H166.6" stroke="#02b7cc"/>
<path d="M166.1 235.4H171.4" stroke="#3fca8e"/>
<path d="M170.9 235.4H176.2" stroke="#71cd64"/>
<path d="M175.7 235.4H181.0" stroke="#aac73a"/>
<path d="M180.5 235.4H185.8" stroke="#e3bc2b"/>
<path d="M185.3 235.4H190.6" stroke="#fec13a"/>
<path d="M190.1 235.4H195.4" stroke="#fec537"/>
<path d="M194.9 235.4H205.0" stroke="#fdcc32"/>
<path d="M204.5 235.4H209.8" stroke="#fec835"/>
<path d="M209.3 235.4H214.6" stroke="#fec338"/>
<path d="M214.1 235.4H219.3" stroke="#d6be27"/>
<path d="M218.8 235.4H224.1" stroke="#77cc60"/>
<path d="M223.6 235.4H228.9" stroke="#34c79c"/>
<path d="M228.4 235.4H233.7" stroke="#04bbc1"/>
<path d="M233.2 235.4H238.5" stroke="#18addb"/>
<path d="M238.0 235.4H243.3" stroke="#259de6"/>
<path d="M242.8 235.4H248.1" stroke="#2b92ee"/>
<path d="M247.6 235.4H252.9" stroke="#2d8af5"/>
<path d="M252.4 235.4H257.7" stroke="#2d87f6"/>
<path d="M257.2 235.4H262.5" stroke="#2e85f8"/>
<path d="M262.0 235.4H267.2" stroke="#2f81fa"/>
<path d="M266.7 235.4H276.8" stroke="#307ffb"/>
<path d="M276.3 235.4H281.6" stroke="#317cfc"/>
<path d="M281.1 235.4H286.4" stroke="#347afd"/>
<path d="M285.9 235.4H291.2" stroke="#3678fe"/>
<path d="M290.7 235.4H300.8" stroke="#3975fe"/>
<path d="M300.3 235.4H305.6" stroke="#3b73ff"/>
<path d="M305.1 235.4H310.4" stroke="#3d70ff"/>
<path d="M309.9 235.4H319.9" stroke="#3f6eff"/>
<path d="M319.4 235.4H329.5" stroke="#416bfe"/>
<path d="M329.0 235.4H343.9" stroke="#4269fe"/>
<path d="M343.4 235.4H363.1" stroke="#4367fd"/>
<path d="M362.6 235.4H382.2" stroke="#4464fd"/>
<path d="M381.7 235.4H391.8" stroke="#4562fc"/>
<path d="M391.3 235.4H444.5" stroke="#4464fd"/>
<path d="M444.0 235.4H549.9" stroke="#4367fd"/>
<path d="M549.4 235.4H559.5" stroke="#4464fd"/>
<path d="M559.0 235.4H564.3" stroke="#4562fc"/>
<path d="M563.8 235.4H569.1" stroke="#4660fc"/>
<path d="M568.6 235.4H573.8" stroke="#465efb"/>
<path d="M573.3 235.4H578.6" stroke="#475bfa"/>
<path d="M578.1 235.4H607.4" stroke="#4759f9"/>
<path d="M606.9 235.4H626.5" stroke="#475bfa"/>
<path d="M626.0 235.4H631.3" stroke="#4660fc"/>
<path d="M630.8 235.4H636.1" stroke="#4562fc"/>
<path d="M635.6 235.4H640.9" stroke="#4464fd"/>
<path d="M640.4 235.4H645.7" stroke="#4269fe"/>
<path d="M645.2 235.4H650.5" stroke="#3d70ff"/>
<path d="M650.0 235.4H660.1" stroke="#347afd"/>
<path d="M659.6 235.4H693.6" stroke="#317cfc"/>
<path d="M693.1 235.4H703.2" stroke="#347afd"/>
<path d="M702.7 235.4H717.6" stroke="#3678fe"/>
<path d="M717.1 235.4H722.3" stroke="#3975fe"/>
<path d="M721.8 235.4H727.1" stroke="#3b73ff"/>
<path d="M726.6 235.4H731.9" stroke="#3d70ff"/>
<path d="M731.4 235.4H736.7" stroke="#3f6eff"/>
<path d="M736.2 235.4H741.5" stroke="#416bfe"/>
<path d="M741.0 235.4H746.3" stroke="#4269fe"/>
<path d="M89.5 262.5H94.8" stroke="#2d8af5"/>
<path d="M94.3 262.5H99.6" stroke="#2d87f6"/>
<path d="M99.1 262.5H104.4" stroke="#2e85f8"/>
<path d="M103.9 262.5H109.2" stroke="#2f81fa"/>
<path d="M108.7 262.5H114.0" stroke="#317cfc"/>
<path d="M113.5 262.5H118.7" stroke="#3975fe"/>
<path d="M118.2 262.5H123.5" stroke="#3f6eff"/>
<path d="M123.0 262.5H147.5" stroke="#4367fd"/>
<path d="M147.0 262.5H152.3" stroke="#3f6eff"/>
<path d="M151.8 262.5H157.1" stroke="#3975fe"/>
<path d="M156.6 262.5H161.9" stroke="#347afd"/>
<path d="M161.4 262.5H166.6" stroke="#2b92ee"/>
<path d="M166.1 262.5H171.4" stroke="#1aacdd"/>
<path d="M170.9 262.5H176.2" stroke="#1cc0b4"/>
<path d="M175.7 262.5H181.0" stroke="#57cc7a"/>
<path d="M180.5 262.5H185.8" stroke="#bfc32d"/>
<path d="M185.3 262.5H190.6" stroke="#fec13a"/>
<path d="M190.1 262.5H195.4" stroke="#fad42e"/>
<path d="M194.9 262.5H200.2" stroke="#f5e825"/>
<path d="M199.7 262.5H214.6" stroke="#f6ef20"/>
<path d="M214.1 262.5H219.3" stroke="#f5e626"/>
<path d="M218.8 262.5H224.1" stroke="#fec537"/>
<path d="M223.6 262.5H228.9" stroke="#c8c129"/>
<path d="M228.4 262.5H233.7" stroke="#52cc7e"/>
<path d="M233.2 262.5H238.5" stroke="#1cc0b4"/>
<path d="M238.0 262.5H243.3" stroke="#10b2d5"/>
<path d="M242.8 262.5H248.1" stroke="#23a1e4"/>
<path d="M247.6 262.5H252.9" stroke="#2b92ee"/>
<path d="M252.4 262.5H257.7" stroke="#2d8ef1"/>
<path d="M257.2 262.5H262.5" stroke="#2d8af5"/>
<path d="M262.0 262.5H267.2" stroke="#2e85f8"/>
<path d="M266.7 262.5H272.0" stroke="#2e83f9"/>
<path d="M271.5 262.5H276.8" stroke="#2f81fa"/>
<path d="M276.3 262.5H286.4" stroke="#307ffb"/>
<path d="M285.9 262.5H291.2" stroke="#317cfc"/>
<path d="M290.7 262.5H300.8" stroke="#347afd"/>
<path d="M300.3 262.5H319.9" stroke="#3678fe"/>
<path d="M319.4 262.5H329.5" stroke="#3975fe"/>
<path d="M329.0 262.5H339.1" stroke="#3b73ff"/>
<path d="M338.6 262.5H348.7" stroke="#3d70ff"/>
<path d="M348.2 262.5H353.5" stroke="#3f6eff"/>
<path d="M353.0 262.5H358.3" stroke="#4269fe"/>
<path d="M357.8 262.5H363.1" stroke="#4464fd"/>
<path d="M362.6 262.5H367.8" stroke="#4562fc"/>
<path d="M367.3 262.5H401.4" stroke="#4660fc"/>
<path d="M400.9 262.5H406.2" stroke="#4562fc"/>
<path d="M405.7 262.5H415.8" stroke="#4464fd"/>
<path d="M415.3 262.5H434.9" stroke="#4367fd"/>
<path d="M434.4 262.5H482.8" stroke="#4464fd"/>
<path d="M482.3 262.5H492.4" stroke="#4367fd"/>
<path d="M491.9 262.5H497.2" stroke="#4269fe"/>
<path d="M496.7 262.5H506.8" stroke="#416bfe"/>
<path d="M506.3 262.5H516.4" stroke="#3f6eff"/>
<path d="M515.9 262.5H535.5" stroke="#3d70ff"/>
<path d="M535.0 262.5H549.9" stroke="#3b73ff"/>
<path d="M549.4 262.5H583.4" stroke="#3975fe"/>
<path d="M582.9 262.5H588.2" stroke="#416bfe"/>
<path d="M587.7 262.5H593.0" stroke="#4464fd"/>
<path d="M592.5 262.5H617.0" stroke="#475bfa"/>
<path d="M616.5 262.5H621.7" stroke="#4660fc"/>
<path d="M621.2 262.5H626.5" stroke="#4367fd"/>
<path d="M626.0 262.5H631.3" stroke="#416bfe"/>
<path d="M630.8 262.5H636.1" stroke="#3d70ff"/>
<path d="M635.6 262.5H640.9" stroke="#3b73ff"/>
<path d="M640.4 262.5H645.7" stroke="#3975fe"/>
<path d="M645.2 262.5H650.5" stroke="#347afd"/>
<path d="M650.0 262.5H655.3" stroke="#317cfc"/>
<path d="M654.8 262.5H660.1" stroke="#307ffb"/>
<path d="M659.6 262.5H679.2" stroke="#2f81fa"/>
<path d="M678.7 262.5H698.4" stroke="#307ffb"/>
<path d="M697.9 262.5H708.0" stroke="#317cfc"/>
<path d="M707.5 262.5H712.8" stroke="#347afd"/>
<path d="M712.3 262.5H722.3" stroke="#3678fe"/>
<path d="M721.8 262.5H731.9" stroke="#3975fe"/>
<path d="M731.4 262.5H736.7" stroke="#3b73ff"/>
<path d="M736.2 262.5H741.5" stroke="#3f6eff"/>
<path d="M741.0 262.5H746.3" stroke="#4269fe"/>
<path d="M89.5 289.6H94.8" stroke="#2e85f8"/>
<path d="M94.3 289.6H109.2" stroke="#2e83f9"/>
<path d="M108.7 289.6H118.7" stroke="#2f81fa"/>
<path d="M118.2 289.6H128.3" stroke="#307ffb"/>
<path d="M127.8 289.6H133.1" stroke="#317cfc"/>
<path d="M132.6 289.6H137.9" stroke="#347afd"/>
<path d="M137.4 289.6H142.7" stroke="#3678fe"/>
<path d="M142.2 289.6H147.5" stroke="#3b73ff"/>
<path d="M147.0 289.6H152.3" stroke="#4660fc"/>
<path d="M151.8 289.6H161.9" stroke="#4743e7"/>
<path d="M161.4 289.6H166.6" stroke="#4660fc"/>
<path d="M166.1 289.6H171.4" stroke="#2d87f6"/>
<path d="M170.9 289.6H176.2" stroke="#16afd9"/>
<path d="M175.7 289.6H181.0" stroke="#39c895"/>
<path d="M180.5 289.6H185.8" stroke="#b4c533"/>
<path d="M185.3 289.6H190.6" stroke="#fec338"/>
<path d="M190.1 289.6H195.4" stroke="#fad42e"/>
<path d="M194.9 289.6H200.2" stroke="#f5e825"/>
<path d="M199.7 289.6H214.6" stroke="#f6f21e"/>
<path d="M214.1 289.6H219.3" stroke="#f5e327"/>
<path d="M218.8 289.6H224.1" stroke="#feca33"/>
<path d="M223.6 289.6H228.9" stroke="#eeba34"/>
<path d="M228.4 289.6H233.7" stroke="#77cc60"/>
<path d="M233.2 289.6H238.5" stroke="#1cc0b4"/>
<path d="M238.0 289.6H243.3" stroke="#13b0d7"/>
<path d="M242.8 289.6H248.1" stroke="#21a3e3"/>
<path d="M247.6 289.6H252.9" stroke="#269ae9"/>
<path d="M252.4 289.6H257.7" stroke="#2896ec"/>
<path d="M257.2 289.6H262.5" stroke="#2b92ee"/>
<path d="M262.0 289.6H267.2" stroke="#2d8cf3"/>
<path d="M266.7 289.6H272.0" stroke="#2d8af5"/>
<path d="M271.5 289.6H281.6" stroke="#2d87f6"/>
<path d="M281.1 289.6H286.4" stroke="#2e85f8"/>
<path d="M285.9 289.6H291.2" stroke="#2e83f9"/>
<path d="M290.7 289.6H296.0" stroke="#2f81fa"/>
<path d="M295.5 289.6H305.6" stroke="#307ffb"/>
<path d="M305.1 289.6H310.4" stroke="#317cfc"/>
<path d="M309.9 289.6H315.2" stroke="#347afd"/>
<path d="M314.7 289.6H319.9" stroke="#3b73ff"/>
<path d="M319.4 289.6H324.7" stroke="#416bfe"/>
<path d="M324.2 289.6H329.5" stroke="#4464fd"/>
<path d="M329.0 289.6H334.3" stroke="#4660fc"/>
<path d="M333.8 289.6H353.5" stroke="#465efb"/>
<path d="M353.0 289.6H358.3" stroke="#475bfa"/>
<path d="M357.8 289.6H363.1" stroke="#4757f7"/>
<path d="M362.6 289.6H367.8" stroke="#484aee"/>
<path d="M367.3 289.6H372.6" stroke="#4741e5"/>
<path d="M372.1 289.6H377.4" stroke="#473fe2"/>
<path d="M376.9 289.6H382.2" stroke="#463cdf"/>
<path d="M381.7 289.6H387.0" stroke="#4745e9"/>
<path d="M386.5 289.6H391.8" stroke="#475bfa"/>
<path d="M391.3 289.6H396.6" stroke="#4269fe"/>
<path d="M396.1 289.6H401.4" stroke="#3975fe"/>
<path d="M400.9 289.6H420.5" stroke="#347afd"/>
<path d="M420.0 289.6H425.3" stroke="#3975fe"/>
<path d="M424.8 289.6H430.1" stroke="#3d70ff"/>
<path d="M429.6 289.6H434.9" stroke="#416bfe"/>
<path d="M434.4 289.6H444.5" stroke="#4367fd"/>
<path d="M444.0 289.6H454.1" stroke="#4464fd"/>
<path d="M453.6 289.6H468.5" stroke="#4562fc"/>
<path d="M468.0 289.6H478.0" stroke="#4660fc"/>
<path d="M477.5 289.6H487.6" stroke="#465efb"/>
<path d="M487.1 289.6H492.4" stroke="#475bfa"/>
<path d="M491.9 289.6H497.2" stroke="#465efb"/>
<path d="M496.7 289.6H502.0" stroke="#4367fd"/>
<path d="M501.5 289.6H554.7" stroke="#3f6eff"/>
<path d="M554.2 289.6H569.1" stroke="#416bfe"/>
<path d="M568.6 289.6H578.6" stroke="#4269fe"/>
<path d="M578.1 289.6H626.5" stroke="#4367fd"/>
<path d="M626.0 289.6H631.3" stroke="#416bfe"/>
<path d="M630.8 289.6H636.1" stroke="#3d70ff"/>
<path d="M635.6 289.6H640.9" stroke="#3678fe"/>
<path d="M640.4 289.6H645.7" stroke="#347afd"/>
<path d="M645.2 289.6H655.3" stroke="#317cfc"/>
<path d="M654.8 289.6H660.1" stroke="#307ffb"/>
<path d="M659.6 289.6H669.7" stroke="#2f81fa"/>
<path d="M669.2 289.6H679.2" stroke="#2e83f9"/>
<path d="M678.7 289.6H684.0" stroke="#2e85f8"/>
<path d="M683.5 289.6H693.6" stroke="#2e83f9"/>
<path d="M693.1 289.6H708.0" stroke="#2f81fa"/>
<path d="M707.5 289.6H717.6" stroke="#307ffb"/>
<path d="M717.1 289.6H722.3" stroke="#317cfc"/>
<path d="M721.8 289.6H727.1" stroke="#347afd"/>
<path d="M726.6 289.6H731.9" stroke="#3678fe"/>
<path d="M731.4 289.6H736.7" stroke="#3975fe"/>
<path d="M736.2 289.6H741.5" stroke="#3b73ff"/>
<path d="M741.0 289.6H746.3" stroke="#3d70ff"/>
<path d="M89.5 316.8H94.8" stroke="#307ffb"/>
<path d="M94.3 316.8H99.6" stroke="#2e83f9"/>
<path d="M99.1 316.8H104.4" stroke="#2d87f6"/>
<path d="M103.9 316.8H109.2" stroke="#2d8cf3"/>
<path d="M108.7 316.8H114.0" stroke="#2c90f0"/>
<path d="M113.5 316.8H118.7" stroke="#2896ec"/>
<path d="M118.2 316.8H123.5" stroke="#269ae9"/>
<path d="M123.0 316.8H128.3" stroke="#249fe5"/>
<path d="M127.8 316.8H133.1" stroke="#259ce7"/>
<path d="M132.6 316.8H137.9" stroke="#269ae9"/>
<path d="M137.4 316.8H142.7" stroke="#2798ea"/>
<path d="M142.2 316.8H147.5" stroke="#2b92ee"/>
<path d="M147.0 316.8H152.3" stroke="#347afd"/>
<path d="M151.8 316.8H161.9" stroke="#484ef1"/>
<path d="M161.4 316.8H166.6" stroke="#4269fe"/>
<path d="M166.1 316.8H171.4" stroke="#2d8cf3"/>
<path d="M170.9 316.8H176.2" stroke="#16afd9"/>
<path d="M175.7 316.8H181.0" stroke="#32c69f"/>
<path d="M180.5 316.8H185.8" stroke="#99c946"/>
<path d="M185.3 316.8H190.6" stroke="#fbbb3e"/>
<path d="M190.1 316.8H200.2" stroke="#fec537"/>
<path d="M199.7 316.8H205.0" stroke="#fec835"/>
<path d="M204.5 316.8H209.8" stroke="#fec537"/>
<path d="M209.3 316.8H214.6" stroke="#fec338"/>
<path d="M214.1 316.8H219.3" stroke="#fdbc3d"/>
<path d="M218.8 316.8H224.1" stroke="#bfc32d"/>
<path d="M223.6 316.8H228.9" stroke="#6bcd69"/>
<path d="M228.4 316.8H233.7" stroke="#34c79c"/>
<path d="M233.2 316.8H238.5" stroke="#1cc0b4"/>
<path d="M238.0 316.8H243.3" stroke="#01bac4"/>
<path d="M242.8 316.8H248.1" stroke="#08b4d0"/>
<path d="M247.6 316.8H252.9" stroke="#18addb"/>
<path d="M252.4 316.8H257.7" stroke="#1ea7e1"/>
<path d="M257.2 316.8H262.5" stroke="#23a1e4"/>
<path d="M262.0 316.8H267.2" stroke="#259ce7"/>
<path d="M266.7 316.8H272.0" stroke="#269ae9"/>
<path d="M271.5 316.8H276.8" stroke="#2896ec"/>
<path d="M276.3 316.8H281.6" stroke="#2994ed"/>
<path d="M281.1 316.8H286.4" stroke="#2b92ee"/>
<path d="M285.9 316.8H291.2" stroke="#2d8ef1"/>
<path d="M290.7 316.8H296.0" stroke="#2d8cf3"/>
<path d="M295.5 316.8H300.8" stroke="#2d8af5"/>
<path d="M300.3 316.8H305.6" stroke="#2e85f8"/>
<path d="M305.1 316.8H310.4" stroke="#2e83f9"/>
<path d="M309.9 316.8H315.2" stroke="#2f81fa"/>
<path d="M314.7 316.8H319.9" stroke="#3975fe"/>
<path d="M319.4 316.8H324.7" stroke="#416bfe"/>
<path d="M324.2 316.8H329.5" stroke="#4367fd"/>
<path d="M329.0 316.8H334.3" stroke="#4464fd"/>
<path d="M333.8 316.8H343.9" stroke="#4562fc"/>
<path d="M343.4 316.8H348.7" stroke="#4660fc"/>
<path d="M348.2 316.8H353.5" stroke="#465efb"/>
<path d="M353.0 316.8H358.3" stroke="#4757f7"/>
<path d="M357.8 316.8H363.1" stroke="#484ef1"/>
<path d="M362.6 316.8H367.8" stroke="#4745e9"/>
<path d="M367.3 316.8H372.6" stroke="#4536d5"/>
<path d="M372.1 316.8H382.2" stroke="#4433cc"/>
<path d="M381.7 316.8H387.0" stroke="#484aee"/>
<path d="M386.5 316.8H391.8" stroke="#475bfa"/>
<path d="M391.3 316.8H396.6" stroke="#4367fd"/>
<path d="M396.1 316.8H401.4" stroke="#3b73ff"/>
<path d="M400.9 316.8H406.2" stroke="#3678fe"/>
<path d="M405.7 316.8H411.0" stroke="#3975fe"/>
<path d="M410.5 316.8H415.8" stroke="#3b73ff"/>
<path d="M415.3 316.8H420.5" stroke="#3f6eff"/>
<path d="M420.0 316.8H430.1" stroke="#416bfe"/>
<path d="M429.6 316.8H434.9" stroke="#4269fe"/>
<path d="M434.4 316.8H439.7" stroke="#4367fd"/>
<path d="M439.2 316.8H444.5" stroke="#4464fd"/>
<path d="M444.0 316.8H492.4" stroke="#4562fc"/>
<path d="M491.9 316.8H497.2" stroke="#4464fd"/>
<path d="M496.7 316.8H502.0" stroke="#416bfe"/>
<path d="M501.5 316.8H506.8" stroke="#3d70ff"/>
<path d="M506.3 316.8H511.6" stroke="#3678fe"/>
<path d="M511.1 316.8H516.4" stroke="#317cfc"/>
<path d="M515.9 316.8H521.1" stroke="#307ffb"/>
<path d="M520.6 316.8H525.9" stroke="#2f81fa"/>
<path d="M525.4 316.8H530.7" stroke="#2e83f9"/>
<path d="M530.2 316.8H535.5" stroke="#2e85f8"/>
<path d="M535.0 316.8H540.3" stroke="#2e83f9"/>
<path d="M539.8 316.8H545.1" stroke="#2f81fa"/>
<path d="M544.6 316.8H549.9" stroke="#317cfc"/>
<path d="M549.4 316.8H554.7" stroke="#347afd"/>
<path d="M554.2 316.8H559.5" stroke="#4562fc"/>
<path d="M559.0 316.8H564.3" stroke="#4855f6"/>
<path d="M563.8 316.8H569.1" stroke="#4853f4"/>
<path d="M568.6 316.8H578.6" stroke="#4850f3"/>
<path d="M578.1 316.8H583.4" stroke="#475bfa"/>
<path d="M582.9 316.8H593.0" stroke="#4367fd"/>
<path d="M592.5 316.8H602.6" stroke="#4269fe"/>
<path d="M602.1 316.8H617.0" stroke="#416bfe"/>
<path d="M616.5 316.8H626.5" stroke="#3f6eff"/>
<path d="M626.0 316.8H631.3" stroke="#3d70ff"/>
<path d="M630.8 316.8H640.9" stroke="#3b73ff"/>
<path d="M640.4 316.8H650.5" stroke="#3975fe"/>
<path d="M650.0 316.8H655.3" stroke="#3678fe"/>
<path d="M654.8 316.8H664.9" stroke="#347afd"/>
<path d="M664.4 316.8H669.7" stroke="#317cfc"/>
<path d="M669.2 316.8H674.4" stroke="#307ffb"/>
<path d="M673.9 316.8H679.2" stroke="#2f81fa"/>
<path d="M678.7 316.8H698.4" stroke="#2e83f9"/>
<path d="M697.9 316.8H703.2" stroke="#2f81fa"/>
<path d="M702.7 316.8H708.0" stroke="#307ffb"/>
<path d="M707.5 316.8H712.8" stroke="#317cfc"/>
<path d="M712.3 316.8H717.6" stroke="#347afd"/>
<path d="M717.1 316.8H727.1" stroke="#3678fe"/>
<path d="M726.6 316.8H731.9" stroke="#3975fe"/>
<path d="M731.4 316.8H736.7" stroke="#3b73ff"/>
<path d="M736.2 316.8H746.3" stroke="#3d70ff"/>
<path d="M89.5 343.9H94.8" stroke="#4562fc"/>
<path d="M94.3 343.9H99.6" stroke="#3d70ff"/>
<path d="M99.1 343.9H104.4" stroke="#2f81fa"/>
<path d="M103.9 343.9H109.2" stroke="#2c90f0"/>
<path d="M108.7 343.9H114.0" stroke="#259de6"/>
<path d="M113.5 343.9H118.7" stroke="#1ea7e1"/>
<path d="M118.2 343.9H123.5" stroke="#16afd9"/>
<path d="M123.0 343.9H128.3" stroke="#04b6ce"/>
<path d="M127.8 343.9H133.1" stroke="#0cb3d3"/>
<path d="M132.6 343.9H137.9" stroke="#13b0d7"/>
<path d="M137.4 343.9H142.7" stroke="#1aacdd"/>
<path d="M142.2 343.9H147.5" stroke="#1ea7e1"/>
<path d="M147.0 343.9H157.1" stroke="#23a1e4"/>
<path d="M156.6 343.9H161.9" stroke="#20a5e2"/>
<path d="M161.4 343.9H166.6" stroke="#1da8e0"/>
<path d="M166.1 343.9H171.4" stroke="#13b0d7"/>
<path d="M170.9 343.9H176.2" stroke="#01bac4"/>
<path d="M175.7 343.9H181.0" stroke="#30c5a2"/>
<path d="M180.5 343.9H185.8" stroke="#57cc7a"/>
<path d="M185.3 343.9H190.6" stroke="#83cc57"/>
<path d="M190.1 343.9H195.4" stroke="#9fc942"/>
<path d="M194.9 343.9H200.2" stroke="#aac73a"/>
<path d="M199.7 343.9H205.0" stroke="#94ca4a"/>
<path d="M204.5 343.9H209.8" stroke="#6bcd69"/>
<path d="M209.3 343.9H214.6" stroke="#43cb8a"/>
<path d="M214.1 343.9H219.3" stroke="#2bc3a8"/>
<path d="M218.8 343.9H224.1" stroke="#1cc0b4"/>
<path d="M223.6 343.9H228.9" stroke="#17bfb6"/>
<path d="M228.4 343.9H233.7" stroke="#0dbdbc"/>
<path d="M233.2 343.9H238.5" stroke="#04bbc1"/>
<path d="M238.0 343.9H243.3" stroke="#00b9c6"/>
<path d="M242.8 343.9H248.1" stroke="#04b6ce"/>
<path d="M247.6 343.9H252.9" stroke="#10b2d5"/>
<path d="M252.4 343.9H257.7" stroke="#1aacdd"/>
<path d="M257.2 343.9H262.5" stroke="#20a5e2"/>
<path d="M262.0 343.9H267.2" stroke="#259ce7"/>
<path d="M266.7 343.9H272.0" stroke="#2798ea"/>
<path d="M271.5 343.9H276.8" stroke="#2994ed"/>
<path d="M276.3 343.9H281.6" stroke="#2c90f0"/>
<path d="M281.1 343.9H286.4" stroke="#2d8cf3"/>
<path d="M285.9 343.9H291.2" stroke="#2d8af5"/>
<path d="M290.7 343.9H296.0" stroke="#2e85f8"/>
<path d="M295.5 343.9H300.8" stroke="#2e83f9"/>
<path d="M300.3 343.9H305.6" stroke="#2f81fa"/>
<path d="M305.1 343.9H310.4" stroke="#317cfc"/>
<path d="M309.9 343.9H315.2" stroke="#347afd"/>
<path d="M314.7 343.9H319.9" stroke="#3975fe"/>
<path d="M319.4 343.9H324.7" stroke="#3d70ff"/>
<path d="M324.2 343.9H329.5" stroke="#4269fe"/>
<path d="M329.0 343.9H334.3" stroke="#4464fd"/>
<path d="M333.8 343.9H339.1" stroke="#475bfa"/>
<path d="M338.6 343.9H343.9" stroke="#4855f6"/>
<path d="M343.4 343.9H348.7" stroke="#484ef1"/>
<path d="M348.2 343.9H353.5" stroke="#484aee"/>
<path d="M353.0 343.9H358.3" stroke="#4745e9"/>
<path d="M357.8 343.9H363.1" stroke="#4741e5"/>
<path d="M362.6 343.9H367.8" stroke="#463cdf"/>
<path d="M367.3 343.9H372.6" stroke="#463adc"/>
<path d="M372.1 343.9H377.4" stroke="#463cdf"/>
<path d="M376.9 343.9H382.2" stroke="#4745e9"/>
<path d="M381.7 343.9H387.0" stroke="#4850f3"/>
<path d="M386.5 343.9H391.8" stroke="#4759f9"/>
<path d="M391.3 343.9H396.6" stroke="#465efb"/>
<path d="M396.1 343.9H401.4" stroke="#4562fc"/>
<path d="M400.9 343.9H420.5" stroke="#4367fd"/>
<path d="M420.0 343.9H425.3" stroke="#4464fd"/>
<path d="M424.8 343.9H430.1" stroke="#4660fc"/>
<path d="M429.6 343.9H439.7" stroke="#475bfa"/>
<path d="M439.2 343.9H449.3" stroke="#4759f9"/>
<path d="M448.8 343.9H454.1" stroke="#465efb"/>
<path d="M453.6 343.9H458.9" stroke="#4464fd"/>
<path d="M458.4 343.9H463.7" stroke="#4269fe"/>
<path d="M463.2 343.9H468.5" stroke="#3f6eff"/>
<path d="M468.0 343.9H473.2" stroke="#3d70ff"/>
<path d="M472.7 343.9H482.8" stroke="#3b73ff"/>
<path d="M482.3 343.9H487.6" stroke="#3975fe"/>
<path d="M487.1 343.9H497.2" stroke="#3678fe"/>
<path d="M496.7 343.9H502.0" stroke="#347afd"/>
<path d="M501.5 343.9H511.6" stroke="#317cfc"/>
<path d="M511.1 343.9H530.7" stroke="#307ffb"/>
<path d="M530.2 343.9H549.9" stroke="#2f81fa"/>
<path d="M549.4 343.9H554.7" stroke="#307ffb"/>
<path d="M554.2 343.9H559.5" stroke="#347afd"/>
<path d="M559.0 343.9H564.3" stroke="#3975fe"/>
<path d="M563.8 343.9H569.1" stroke="#3d70ff"/>
<path d="M568.6 343.9H583.4" stroke="#3f6eff"/>
<path d="M582.9 343.9H607.4" stroke="#416bfe"/>
<path d="M606.9 343.9H612.2" stroke="#4367fd"/>
<path d="M611.7 343.9H617.0" stroke="#4464fd"/>
<path d="M616.5 343.9H621.7" stroke="#4660fc"/>
<path d="M621.2 343.9H626.5" stroke="#465efb"/>
<path d="M626.0 343.9H631.3" stroke="#4660fc"/>
<path d="M630.8 343.9H636.1" stroke="#4367fd"/>
<path d="M635.6 343.9H640.9" stroke="#3d70ff"/>
<path d="M640.4 343.9H655.3" stroke="#3678fe"/>
<path d="M654.8 343.9H664.9" stroke="#347afd"/>
<path d="M664.4 343.9H703.2" stroke="#317cfc"/>
<path d="M702.7 343.9H717.6" stroke="#347afd"/>
<path d="M717.1 343.9H727.1" stroke="#3678fe"/>
<path d="M726.6 343.9H731.9" stroke="#3975fe"/>
<path d="M731.4 343.9H736.7" stroke="#3b73ff"/>
<path d="M736.2 343.9H746.3" stroke="#3d70ff"/>
<path d="M89.5 371.0H94.8" stroke="#4850f3"/>
<path d="M94.3 371.0H99.6" stroke="#4853f4"/>
<path d="M99.1 371.0H104.4" stroke="#4660fc"/>
<path d="M103.9 371.0H109.2" stroke="#3678fe"/>
<path d="M108.7 371.0H114.0" stroke="#2d8cf3"/>
<path d="M113.5 371.0H118.7" stroke="#259de6"/>
<path d="M118.2 371.0H123.5" stroke="#1caadf"/>
<path d="M123.0 371.0H128.3" stroke="#0cb3d3"/>
<path d="M127.8 371.0H161.9" stroke="#01b8c9"/>
<path d="M161.4 371.0H166.6" stroke="#12beb9"/>
<path d="M166.1 371.0H171.4" stroke="#2bc3a8"/>
<path d="M170.9 371.0H176.2" stroke="#36c898"/>
<path d="M175.7 371.0H181.0" stroke="#43cb8a"/>
<path d="M180.5 371.0H190.6" stroke="#52cc7e"/>
<path d="M190.1 371.0H195.4" stroke="#48cb86"/>
<path d="M194.9 371.0H200.2" stroke="#2dc4a5"/>
<path d="M199.7 371.0H205.0" stroke="#07bcbf"/>
<path d="M204.5 371.0H209.8" stroke="#13b0d7"/>
<path d="M209.3 371.0H214.6" stroke="#1aacdd"/>
<path d="M214.1 371.0H219.3" stroke="#1ea7e1"/>
<path d="M218.8 371.0H224.1" stroke="#21a3e3"/>
<path d="M223.6 371.0H233.7" stroke="#23a1e4"/>
<path d="M233.2 371.0H238.5" stroke="#249fe5"/>
<path d="M238.0 371.0H248.1" stroke="#259de6"/>
<path d="M247.6 371.0H257.7" stroke="#259ce7"/>
<path d="M257.2 371.0H262.5" stroke="#2994ed"/>
<path d="M262.0 371.0H267.2" stroke="#2e85f8"/>
<path d="M266.7 371.0H272.0" stroke="#3f6eff"/>
<path d="M271.5 371.0H276.8" stroke="#3b73ff"/>
<path d="M276.3 371.0H281.6" stroke="#3975fe"/>
<path d="M281.1 371.0H291.2" stroke="#347afd"/>
<path d="M290.7 371.0H305.6" stroke="#317cfc"/>
<path d="M305.1 371.0H310.4" stroke="#347afd"/>
<path d="M309.9 371.0H315.2" stroke="#3975fe"/>
<path d="M314.7 371.0H319.9" stroke="#3d70ff"/>
<path d="M319.4 371.0H324.7" stroke="#3f6eff"/>
<path d="M324.2 371.0H329.5" stroke="#4367fd"/>
<path d="M329.0 371.0H334.3" stroke="#4660fc"/>
<path d="M333.8 371.0H339.1" stroke="#4759f9"/>
<path d="M338.6 371.0H343.9" stroke="#4853f4"/>
<path d="M343.4 371.0H348.7" stroke="#484ef1"/>
<path d="M348.2 371.0H353.5" stroke="#484aee"/>
<path d="M353.0 371.0H358.3" stroke="#4745e9"/>
<path d="M357.8 371.0H363.1" stroke="#4743e7"/>
<path d="M362.6 371.0H372.6" stroke="#4741e5"/>
<path d="M372.1 371.0H377.4" stroke="#4743e7"/>
<path d="M376.9 371.0H382.2" stroke="#484aee"/>
<path d="M381.7 371.0H387.0" stroke="#4850f3"/>
<path d="M386.5 371.0H391.8" stroke="#475bfa"/>
<path d="M391.3 371.0H396.6" stroke="#4464fd"/>
<path d="M396.1 371.0H401.4" stroke="#4269fe"/>
<path d="M400.9 371.0H406.2" stroke="#3f6eff"/>
<path d="M405.7 371.0H411.0" stroke="#3d70ff"/>
<path d="M410.5 371.0H415.8" stroke="#3975fe"/>
<path d="M415.3 371.0H420.5" stroke="#3678fe"/>
<path d="M420.0 371.0H425.3" stroke="#3975fe"/>
<path d="M424.8 371.0H430.1" stroke="#3d70ff"/>
<path d="M429.6 371.0H434.9" stroke="#4269fe"/>
<path d="M434.4 371.0H439.7" stroke="#4660fc"/>
<path d="M439.2 371.0H444.5" stroke="#465efb"/>
<path d="M444.0 371.0H449.3" stroke="#4562fc"/>
<path d="M448.8 371.0H454.1" stroke="#4367fd"/>
<path d="M453.6 371.0H458.9" stroke="#4269fe"/>
<path d="M458.4 371.0H463.7" stroke="#3f6eff"/>
<path d="M463.2 371.0H468.5" stroke="#3d70ff"/>
<path d="M468.0 371.0H473.2" stroke="#3b73ff"/>
<path d="M472.7 371.0H482.8" stroke="#3975fe"/>
<path d="M482.3 371.0H497.2" stroke="#3b73ff"/>
<path d="M496.7 371.0H506.8" stroke="#3d70ff"/>
<path d="M506.3 371.0H511.6" stroke="#3f6eff"/>
<path d="M511.1 371.0H516.4" stroke="#3d70ff"/>
<path d="M515.9 371.0H521.1" stroke="#3b73ff"/>
<path d="M520.6 371.0H525.9" stroke="#3975fe"/>
<path d="M525.4 371.0H530.7" stroke="#3678fe"/>
<path d="M530.2 371.0H535.5" stroke="#347afd"/>
<path d="M535.0 371.0H540.3" stroke="#317cfc"/>
<path d="M539.8 371.0H545.1" stroke="#2f81fa"/>
<path d="M544.6 371.0H549.9" stroke="#2e83f9"/>
<path d="M549.4 371.0H554.7" stroke="#2d87f6"/>
<path d="M554.2 371.0H564.3" stroke="#2d8cf3"/>
<path d="M563.8 371.0H569.1" stroke="#2d8af5"/>
<path d="M568.6 371.0H578.6" stroke="#2d87f6"/>
<path d="M578.1 371.0H588.2" stroke="#2e85f8"/>
<path d="M587.7 371.0H593.0" stroke="#2e83f9"/>
<path d="M592.5 371.0H597.8" stroke="#2f81fa"/>
<path d="M597.3 371.0H602.6" stroke="#307ffb"/>
<path d="M602.1 371.0H607.4" stroke="#347afd"/>
<path d="M606.9 371.0H612.2" stroke="#3678fe"/>
<path d="M611.7 371.0H617.0" stroke="#3975fe"/>
<path d="M616.5 371.0H621.7" stroke="#3d70ff"/>
<path d="M621.2 371.0H626.5" stroke="#416bfe"/>
<path d="M626.0 371.0H631.3" stroke="#4367fd"/>
<path d="M630.8 371.0H636.1" stroke="#3f6eff"/>
<path d="M635.6 371.0H698.4" stroke="#3975fe"/>
<path d="M697.9 371.0H717.6" stroke="#3b73ff"/>
<path d="M717.1 371.0H727.1" stroke="#3d70ff"/>
<path d="M726.6 371.0H736.7" stroke="#3f6eff"/>
<path d="M736.2 371.0H746.3" stroke="#416bfe"/>
<path d="M89.5 398.1H99.6" stroke="#4743e7"/>
<path d="M99.1 398.1H104.4" stroke="#484aee"/>
<path d="M103.9 398.1H109.2" stroke="#475bfa"/>
<path d="M108.7 398.1H114.0" stroke="#4269fe"/>
<path d="M113.5 398.1H118.7" stroke="#347afd"/>
<path d="M118.2 398.1H123.5" stroke="#2d8cf3"/>
<path d="M123.0 398.1H128.3" stroke="#259ce7"/>
<path d="M127.8 398.1H133.1" stroke="#1aacdd"/>
<path d="M132.6 398.1H137.9" stroke="#01b8c9"/>
<path d="M137.4 398.1H142.7" stroke="#12beb9"/>
<path d="M142.2 398.1H181.0" stroke="#21c1b1"/>
<path d="M180.5 398.1H185.8" stroke="#1cc0b4"/>
<path d="M185.3 398.1H190.6" stroke="#12beb9"/>
<path d="M190.1 398.1H195.4" stroke="#04bbc1"/>
<path d="M194.9 398.1H200.2" stroke="#01b8c9"/>
<path d="M199.7 398.1H205.0" stroke="#16afd9"/>
<path d="M204.5 398.1H209.8" stroke="#259de6"/>
<path d="M209.3 398.1H214.6" stroke="#3678fe"/>
<path d="M214.1 398.1H219.3" stroke="#4853f4"/>
<path d="M218.8 398.1H224.1" stroke="#4536d5"/>
<path d="M223.6 398.1H228.9" stroke="#473fe2"/>
<path d="M228.4 398.1H233.7" stroke="#4562fc"/>
<path d="M233.2 398.1H238.5" stroke="#317cfc"/>
<path d="M238.0 398.1H243.3" stroke="#2e83f9"/>
<path d="M242.8 398.1H252.9" stroke="#2d8af5"/>
<path d="M252.4 398.1H257.7" stroke="#2d87f6"/>
<path d="M257.2 398.1H262.5" stroke="#2e83f9"/>
<path d="M262.0 398.1H267.2" stroke="#4562fc"/>
<path d="M266.7 398.1H276.8" stroke="#4759f9"/>
<path d="M276.3 398.1H281.6" stroke="#416bfe"/>
<path d="M281.1 398.1H286.4" stroke="#347afd"/>
<path d="M285.9 398.1H291.2" stroke="#2d8af5"/>
<path d="M290.7 398.1H310.4" stroke="#2d8cf3"/>
<path d="M309.9 398.1H315.2" stroke="#2d8af5"/>
<path d="M314.7 398.1H319.9" stroke="#2e83f9"/>
<path d="M319.4 398.1H324.7" stroke="#317cfc"/>
<path d="M324.2 398.1H329.5" stroke="#3d70ff"/>
<path d="M329.0 398.1H334.3" stroke="#4464fd"/>
<path d="M333.8 398.1H339.1" stroke="#475bfa"/>
<path d="M338.6 398.1H343.9" stroke="#4853f4"/>
<path d="M343.4 398.1H348.7" stroke="#484aee"/>
<path d="M348.2 398.1H367.8" stroke="#4743e7"/>
<path d="M367.3 398.1H372.6" stroke="#4745e9"/>
<path d="M372.1 398.1H377.4" stroke="#4847ec"/>
<path d="M376.9 398.1H382.2" stroke="#484cef"/>
<path d="M381.7 398.1H387.0" stroke="#4853f4"/>
<path d="M386.5 398.1H391.8" stroke="#465efb"/>
<path d="M391.3 398.1H396.6" stroke="#4269fe"/>
<path d="M396.1 398.1H401.4" stroke="#3b73ff"/>
<path d="M400.9 398.1H406.2" stroke="#3678fe"/>
<path d="M405.7 398.1H411.0" stroke="#307ffb"/>
<path d="M410.5 398.1H415.8" stroke="#2e83f9"/>
<path d="M415.3 398.1H420.5" stroke="#2d87f6"/>
<path d="M420.0 398.1H425.3" stroke="#2e83f9"/>
<path d="M424.8 398.1H430.1" stroke="#307ffb"/>
<path d="M429.6 398.1H434.9" stroke="#347afd"/>
<path d="M434.4 398.1H492.4" stroke="#3975fe"/>
<path d="M491.9 398.1H502.0" stroke="#3b73ff"/>
<path d="M501.5 398.1H506.8" stroke="#3f6eff"/>
<path d="M506.3 398.1H511.6" stroke="#4367fd"/>
<path d="M511.1 398.1H516.4" stroke="#465efb"/>
<path d="M515.9 398.1H525.9" stroke="#475bfa"/>
<path d="M525.4 398.1H530.7" stroke="#4464fd"/>
<path d="M530.2 398.1H535.5" stroke="#3d70ff"/>
<path d="M535.0 398.1H540.3" stroke="#347afd"/>
<path d="M539.8 398.1H545.1" stroke="#2f81fa"/>
<path d="M544.6 398.1H549.9" stroke="#2d8af5"/>
<path d="M549.4 398.1H554.7" stroke="#2d8ef1"/>
<path d="M554.2 398.1H559.5" stroke="#2994ed"/>
<path d="M559.0 398.1H564.3" stroke="#2798ea"/>
<path d="M563.8 398.1H588.2" stroke="#259ce7"/>
<path d="M587.7 398.1H593.0" stroke="#2798ea"/>
<path d="M592.5 398.1H597.8" stroke="#2994ed"/>
<path d="M597.3 398.1H602.6" stroke="#2c90f0"/>
<path d="M602.1 398.1H607.4" stroke="#2d8cf3"/>
<path d="M606.9 398.1H612.2" stroke="#2d8af5"/>
<path d="M611.7 398.1H617.0" stroke="#2e85f8"/>
<path d="M616.5 398.1H621.7" stroke="#2e83f9"/>
<path d="M621.2 398.1H626.5" stroke="#307ffb"/>
<path d="M626.0 398.1H631.3" stroke="#317cfc"/>
<path d="M630.8 398.1H636.1" stroke="#347afd"/>
<path d="M635.6 398.1H640.9" stroke="#3678fe"/>
<path d="M640.4 398.1H645.7" stroke="#3975fe"/>
<path d="M645.2 398.1H655.3" stroke="#3b73ff"/>
<path d="M654.8 398.1H660.1" stroke="#3d70ff"/>
<path d="M659.6 398.1H664.9" stroke="#416bfe"/>
<path d="M664.4 398.1H669.7" stroke="#4660fc"/>
<path d="M669.2 398.1H679.2" stroke="#475bfa"/>
<path d="M678.7 398.1H684.0" stroke="#4562fc"/>
<path d="M683.5 398.1H722.3" stroke="#3f6eff"/>
<path d="M721.8 398.1H731.9" stroke="#416bfe"/>
<path d="M731.4 398.1H741.5" stroke="#4269fe"/>
<path d="M741.0 398.1H746.3" stroke="#4367fd"/>
<path d="M89.5 425.3H104.4" stroke="#4743e7"/>
<path d="M103.9 425.3H109.2" stroke="#484ef1"/>
<path d="M108.7 425.3H114.0" stroke="#475bfa"/>
<path d="M113.5 425.3H118.7" stroke="#3f6eff"/>
<path d="M118.2 425.3H123.5" stroke="#2f81fa"/>
<path d="M123.0 425.3H128.3" stroke="#2798ea"/>
<path d="M127.8 425.3H133.1" stroke="#18addb"/>
<path d="M132.6 425.3H137.9" stroke="#01bac4"/>
<path d="M137.4 425.3H142.7" stroke="#25c2ae"/>
<path d="M142.2 425.3H147.5" stroke="#39c895"/>
<path d="M147.0 425.3H152.3" stroke="#43cb8a"/>
<path d="M151.8 425.3H157.1" stroke="#34c79c"/>
<path d="M156.6 425.3H161.9" stroke="#12beb9"/>
<path d="M161.4 425.3H166.6" stroke="#08b4d0"/>
<path d="M166.1 425.3H171.4" stroke="#1da8e0"/>
<path d="M170.9 425.3H176.2" stroke="#269ae9"/>
<path d="M175.7 425.3H181.0" stroke="#2c90f0"/>
<path d="M180.5 425.3H185.8" stroke="#2d8cf3"/>
<path d="M185.3 425.3H190.6" stroke="#23a1e4"/>
<path d="M190.1 425.3H195.4" stroke="#13b0d7"/>
<path d="M194.9 425.3H200.2" stroke="#01b8c9"/>
<path d="M199.7 425.3H205.0" stroke="#01bac4"/>
<path d="M204.5 425.3H209.8" stroke="#08b4d0"/>
<path d="M209.3 425.3H214.6" stroke="#1ea7e1"/>
<path d="M214.1 425.3H219.3" stroke="#2d8ef1"/>
<path d="M218.8 425.3H224.1" stroke="#347afd"/>
<path d="M223.6 425.3H228.9" stroke="#3d70ff"/>
<path d="M228.4 425.3H233.7" stroke="#4367fd"/>
<path d="M233.2 425.3H243.3" stroke="#4269fe"/>
<path d="M242.8 425.3H248.1" stroke="#416bfe"/>
<path d="M247.6 425.3H257.7" stroke="#3f6eff"/>
<path d="M257.2 425.3H262.5" stroke="#3d70ff"/>
<path d="M262.0 425.3H267.2" stroke="#3b73ff"/>
<path d="M266.7 425.3H276.8" stroke="#3975fe"/>
<path d="M276.3 425.3H281.6" stroke="#3678fe"/>
<path d="M281.1 425.3H286.4" stroke="#317cfc"/>
<path d="M285.9 425.3H291.2" stroke="#307ffb"/>
<path d="M290.7 425.3H296.0" stroke="#2f81fa"/>
<path d="M295.5 425.3H300.8" stroke="#2e83f9"/>
<path d="M300.3 425.3H305.6" stroke="#2e85f8"/>
<path d="M305.1 425.3H319.9" stroke="#2e83f9"/>
<path d="M319.4 425.3H324.7" stroke="#307ffb"/>
<path d="M324.2 425.3H329.5" stroke="#3678fe"/>
<path d="M329.0 425.3H334.3" stroke="#3f6eff"/>
<path d="M333.8 425.3H339.1" stroke="#4464fd"/>
<path d="M338.6 425.3H343.9" stroke="#4759f9"/>
<path d="M343.4 425.3H348.7" stroke="#484cef"/>
<path d="M348.2 425.3H353.5" stroke="#4741e5"/>
<path d="M353.0 425.3H358.3" stroke="#463adc"/>
<path d="M357.8 425.3H363.1" stroke="#4745e9"/>
<path d="M362.6 425.3H367.8" stroke="#484ef1"/>
<path d="M367.3 425.3H372.6" stroke="#4853f4"/>
<path d="M372.1 425.3H377.4" stroke="#4759f9"/>
<path d="M376.9 425.3H382.2" stroke="#4660fc"/>
<path d="M381.7 425.3H387.0" stroke="#4367fd"/>
<path d="M386.5 425.3H391.8" stroke="#3d70ff"/>
<path d="M391.3 425.3H396.6" stroke="#3678fe"/>
<path d="M396.1 425.3H401.4" stroke="#317cfc"/>
<path d="M400.9 425.3H406.2" stroke="#2f81fa"/>
<path d="M405.7 425.3H411.0" stroke="#2e85f8"/>
<path d="M410.5 425.3H415.8" stroke="#2d87f6"/>
<path d="M415.3 425.3H420.5" stroke="#2d8cf3"/>
<path d="M420.0 425.3H425.3" stroke="#2d87f6"/>
<path d="M424.8 425.3H430.1" stroke="#2e83f9"/>
<path d="M429.6 425.3H434.9" stroke="#307ffb"/>
<path d="M434.4 425.3H439.7" stroke="#347afd"/>
<path d="M439.2 425.3H444.5" stroke="#3678fe"/>
<path d="M444.0 425.3H449.3" stroke="#3975fe"/>
<path d="M448.8 425.3H458.9" stroke="#3b73ff"/>
<path d="M458.4 425.3H463.7" stroke="#3d70ff"/>
<path d="M463.2 425.3H468.5" stroke="#3f6eff"/>
<path d="M468.0 425.3H473.2" stroke="#416bfe"/>
<path d="M472.7 425.3H487.6" stroke="#4269fe"/>
<path d="M487.1 425.3H497.2" stroke="#4367fd"/>
<path d="M496.7 425.3H516.4" stroke="#4464fd"/>
<path d="M515.9 425.3H525.9" stroke="#4367fd"/>
<path d="M525.4 425.3H530.7" stroke="#4269fe"/>
<path d="M530.2 425.3H535.5" stroke="#416bfe"/>
<path d="M535.0 425.3H540.3" stroke="#3f6eff"/>
<path d="M539.8 425.3H545.1" stroke="#3b73ff"/>
<path d="M544.6 425.3H549.9" stroke="#317cfc"/>
<path d="M549.4 425.3H554.7" stroke="#2e83f9"/>
<path d="M554.2 425.3H559.5" stroke="#2d8af5"/>
<path d="M559.0 425.3H564.3" stroke="#2c90f0"/>
<path d="M563.8 425.3H569.1" stroke="#2896ec"/>
<path d="M568.6 425.3H573.8" stroke="#259ce7"/>
<path d="M573.3 425.3H578.6" stroke="#23a1e4"/>
<path d="M578.1 425.3H588.2" stroke="#21a3e3"/>
<path d="M587.7 425.3H593.0" stroke="#20a5e2"/>
<path d="M592.5 425.3H597.8" stroke="#23a1e4"/>
<path d="M597.3 425.3H602.6" stroke="#259de6"/>
<path d="M602.1 425.3H607.4" stroke="#259ce7"/>
<path d="M606.9 425.3H612.2" stroke="#2798ea"/>
<path d="M611.7 425.3H617.0" stroke="#2994ed"/>
<path d="M616.5 425.3H621.7" stroke="#2c90f0"/>
<path d="M621.2 425.3H626.5" stroke="#2d8cf3"/>
<path d="M626.0 425.3H631.3" stroke="#2d87f6"/>
<path d="M630.8 425.3H636.1" stroke="#2e83f9"/>
<path d="M635.6 425.3H640.9" stroke="#2f81fa"/>
<path d="M640.4 425.3H650.5" stroke="#317cfc"/>
<path d="M650.0 425.3H655.3" stroke="#347afd"/>
<path d="M654.8 425.3H660.1" stroke="#3678fe"/>
<path d="M659.6 425.3H664.9" stroke="#3975fe"/>
<path d="M664.4 425.3H669.7" stroke="#3b73ff"/>
<path d="M669.2 425.3H679.2" stroke="#3d70ff"/>
<path d="M678.7 425.3H684.0" stroke="#3f6eff"/>
<path d="M683.5 425.3H688.8" stroke="#416bfe"/>
<path d="M688.3 425.3H693.6" stroke="#4269fe"/>
<path d="M693.1 425.3H703.2" stroke="#4367fd"/>
<path d="M702.7 425.3H722.3" stroke="#4464fd"/>
<path d="M721.8 425.3H736.7" stroke="#4562fc"/>
<path d="M736.2 425.3H746.3" stroke="#4660fc"/>
<path d="M89.5 452.4H94.8" stroke="#4660fc"/>
<path d="M94.3 452.4H99.6" stroke="#4759f9"/>
<path d="M99.1 452.4H104.4" stroke="#4850f3"/>
<path d="M103.9 452.4H109.2" stroke="#4847ec"/>
<path d="M108.7 452.4H114.0" stroke="#484aee"/>
<path d="M113.5 452.4H118.7" stroke="#4855f6"/>
<path d="M118.2 452.4H123.5" stroke="#3d70ff"/>
<path d="M123.0 452.4H128.3" stroke="#2d8cf3"/>
<path d="M127.8 452.4H133.1" stroke="#20a5e2"/>
<path d="M132.6 452.4H137.9" stroke="#02b7cc"/>
<path d="M137.4 452.4H142.7" stroke="#25c2ae"/>
<path d="M142.2 452.4H147.5" stroke="#3cc991"/>
<path d="M147.0 452.4H152.3" stroke="#43cb8a"/>
<path d="M151.8 452.4H157.1" stroke="#36c898"/>
<path d="M156.6 452.4H161.9" stroke="#21c1b1"/>
<path d="M161.4 452.4H166.6" stroke="#04b6ce"/>
<path d="M166.1 452.4H171.4" stroke="#23a1e4"/>
<path d="M170.9 452.4H176.2" stroke="#3975fe"/>
<path d="M175.7 452.4H181.0" stroke="#4850f3"/>
<path d="M180.5 452.4H185.8" stroke="#484aee"/>
<path d="M185.3 452.4H190.6" stroke="#2f81fa"/>
<path d="M190.1 452.4H195.4" stroke="#259ce7"/>
<path d="M194.9 452.4H200.2" stroke="#1aacdd"/>
<path d="M199.7 452.4H205.0" stroke="#0cb3d3"/>
<path d="M204.5 452.4H214.6" stroke="#04b6ce"/>
<path d="M214.1 452.4H219.3" stroke="#0cb3d3"/>
<path d="M218.8 452.4H224.1" stroke="#18addb"/>
<path d="M223.6 452.4H228.9" stroke="#20a5e2"/>
<path d="M228.4 452.4H233.7" stroke="#269ae9"/>
<path d="M233.2 452.4H238.5" stroke="#2c90f0"/>
<path d="M238.0 452.4H243.3" stroke="#2d8cf3"/>
<path d="M242.8 452.4H315.2" stroke="#2e85f8"/>
<path d="M314.7 452.4H319.9" stroke="#2f81fa"/>
<path d="M319.4 452.4H324.7" stroke="#307ffb"/>
<path d="M324.2 452.4H329.5" stroke="#317cfc"/>
<path d="M329.0 452.4H334.3" stroke="#347afd"/>
<path d="M333.8 452.4H339.1" stroke="#3678fe"/>
<path d="M338.6 452.4H343.9" stroke="#3975fe"/>
<path d="M343.4 452.4H348.7" stroke="#3b73ff"/>
<path d="M348.2 452.4H367.8" stroke="#3d70ff"/>
<path d="M367.3 452.4H372.6" stroke="#3b73ff"/>
<path d="M372.1 452.4H377.4" stroke="#3975fe"/>
<path d="M376.9 452.4H382.2" stroke="#3678fe"/>
<path d="M381.7 452.4H391.8" stroke="#347afd"/>
<path d="M391.3 452.4H401.4" stroke="#317cfc"/>
<path d="M400.9 452.4H411.0" stroke="#307ffb"/>
<path d="M410.5 452.4H425.3" stroke="#2f81fa"/>
<path d="M424.8 452.4H430.1" stroke="#307ffb"/>
<path d="M429.6 452.4H439.7" stroke="#317cfc"/>
<path d="M439.2 452.4H449.3" stroke="#347afd"/>
<path d="M448.8 452.4H454.1" stroke="#3678fe"/>
<path d="M453.6 452.4H458.9" stroke="#3975fe"/>
<path d="M458.4 452.4H468.5" stroke="#3b73ff"/>
<path d="M468.0 452.4H473.2" stroke="#3d70ff"/>
<path d="M472.7 452.4H478.0" stroke="#3f6eff"/>
<path d="M477.5 452.4H482.8" stroke="#416bfe"/>
<path d="M482.3 452.4H492.4" stroke="#4269fe"/>
<path d="M491.9 452.4H497.2" stroke="#4367fd"/>
<path d="M496.7 452.4H506.8" stroke="#4269fe"/>
<path d="M506.3 452.4H516.4" stroke="#416bfe"/>
<path d="M515.9 452.4H521.1" stroke="#3f6eff"/>
<path d="M520.6 452.4H525.9" stroke="#3d70ff"/>
<path d="M525.4 452.4H530.7" stroke="#3975fe"/>
<path d="M530.2 452.4H535.5" stroke="#3678fe"/>
<path d="M535.0 452.4H540.3" stroke="#317cfc"/>
<path d="M539.8 452.4H545.1" stroke="#2f81fa"/>
<path d="M544.6 452.4H549.9" stroke="#2e83f9"/>
<path d="M549.4 452.4H554.7" stroke="#2d87f6"/>
<path d="M554.2 452.4H559.5" stroke="#2d8cf3"/>
<path d="M559.0 452.4H564.3" stroke="#2c90f0"/>
<path d="M563.8 452.4H569.1" stroke="#2994ed"/>
<path d="M568.6 452.4H573.8" stroke="#2798ea"/>
<path d="M573.3 452.4H578.6" stroke="#269ae9"/>
<path d="M578.1 452.4H583.4" stroke="#259ce7"/>
<path d="M582.9 452.4H607.4" stroke="#249fe5"/>
<path d="M606.9 452.4H612.2" stroke="#259ce7"/>
<path d="M611.7 452.4H617.0" stroke="#2798ea"/>
<path d="M616.5 452.4H621.7" stroke="#2896ec"/>
<path d="M621.2 452.4H626.5" stroke="#2b92ee"/>
<path d="M626.0 452.4H631.3" stroke="#2d8ef1"/>
<path d="M630.8 452.4H636.1" stroke="#2d8cf3"/>
<path d="M635.6 452.4H640.9" stroke="#2d87f6"/>
<path d="M640.4 452.4H645.7" stroke="#2e85f8"/>
<path d="M645.2 452.4H650.5" stroke="#2e83f9"/>
<path d="M650.0 452.4H655.3" stroke="#2f81fa"/>
<path d="M654.8 452.4H660.1" stroke="#307ffb"/>
<path d="M659.6 452.4H664.9" stroke="#317cfc"/>
<path d="M664.4 452.4H674.4" stroke="#347afd"/>
<path d="M673.9 452.4H679.2" stroke="#3678fe"/>
<path d="M678.7 452.4H684.0" stroke="#3975fe"/>
<path d="M683.5 452.4H688.8" stroke="#3b73ff"/>
<path d="M688.3 452.4H698.4" stroke="#3d70ff"/>
<path d="M697.9 452.4H703.2" stroke="#3f6eff"/>
<path d="M702.7 452.4H708.0" stroke="#416bfe"/>
<path d="M707.5 452.4H712.8" stroke="#4269fe"/>
<path d="M712.3 452.4H722.3" stroke="#4367fd"/>
<path d="M721.8 452.4H731.9" stroke="#4464fd"/>
<path d="M731.4 452.4H741.5" stroke="#4562fc"/>
<path d="M741.0 452.4H746.3" stroke="#4660fc"/>
<path d="M89.5 479.5H94.8" stroke="#475bfa"/>
<path d="M94.3 479.5H99.6" stroke="#4850f3"/>
<path d="M99.1 479.5H104.4" stroke="#484aee"/>
<path d="M103.9 479.5H109.2" stroke="#4743e7"/>
<path d="M108.7 479.5H114.0" stroke="#484ef1"/>
<path d="M113.5 479.5H118.7" stroke="#4562fc"/>
<path d="M118.2 479.5H123.5" stroke="#2e85f8"/>
<path d="M123.0 479.5H128.3" stroke="#20a5e2"/>
<path d="M127.8 479.5H133.1" stroke="#00b9c6"/>
<path d="M132.6 479.5H137.9" stroke="#32c69f"/>
<path d="M137.4 479.5H142.7" stroke="#57cc7a"/>
<path d="M142.2 479.5H147.5" stroke="#7dcc5c"/>
<path d="M147.0 479.5H152.3" stroke="#83cc57"/>
<path d="M151.8 479.5H157.1" stroke="#88cb53"/>
<path d="M156.6 479.5H161.9" stroke="#77cc60"/>
<path d="M161.4 479.5H166.6" stroke="#5ccc76"/>
<path d="M166.1 479.5H171.4" stroke="#36c898"/>
<path d="M170.9 479.5H176.2" stroke="#00b9c6"/>
<path d="M175.7 479.5H181.0" stroke="#1aacdd"/>
<path d="M180.5 479.5H190.6" stroke="#1ea7e1"/>
<path d="M190.1 479.5H195.4" stroke="#1da8e0"/>
<path d="M194.9 479.5H200.2" stroke="#1aacdd"/>
<path d="M199.7 479.5H205.0" stroke="#13b0d7"/>
<path d="M204.5 479.5H209.8" stroke="#04b6ce"/>
<path d="M209.3 479.5H214.6" stroke="#10b2d5"/>
<path d="M214.1 479.5H219.3" stroke="#1aacdd"/>
<path d="M218.8 479.5H224.1" stroke="#1ea7e1"/>
<path d="M223.6 479.5H228.9" stroke="#259de6"/>
<path d="M228.4 479.5H233.7" stroke="#2798ea"/>
<path d="M233.2 479.5H238.5" stroke="#2896ec"/>
<path d="M238.0 479.5H243.3" stroke="#2994ed"/>
<path d="M242.8 479.5H248.1" stroke="#2b92ee"/>
<path d="M247.6 479.5H252.9" stroke="#2d8ef1"/>
<path d="M252.4 479.5H276.8" stroke="#2d8cf3"/>
<path d="M276.3 479.5H281.6" stroke="#2d8af5"/>
<path d="M281.1 479.5H291.2" stroke="#2d87f6"/>
<path d="M290.7 479.5H296.0" stroke="#2e85f8"/>
<path d="M295.5 479.5H300.8" stroke="#2e83f9"/>
<path d="M300.3 479.5H305.6" stroke="#2f81fa"/>
<path d="M305.1 479.5H310.4" stroke="#307ffb"/>
<path d="M309.9 479.5H315.2" stroke="#347afd"/>
<path d="M314.7 479.5H319.9" stroke="#3678fe"/>
<path d="M319.4 479.5H324.7" stroke="#3975fe"/>
<path d="M324.2 479.5H329.5" stroke="#3d70ff"/>
<path d="M329.0 479.5H334.3" stroke="#3f6eff"/>
<path d="M333.8 479.5H343.9" stroke="#3d70ff"/>
<path d="M343.4 479.5H358.3" stroke="#3b73ff"/>
<path d="M357.8 479.5H367.8" stroke="#3975fe"/>
<path d="M367.3 479.5H387.0" stroke="#3678fe"/>
<path d="M386.5 479.5H420.5" stroke="#347afd"/>
<path d="M420.0 479.5H425.3" stroke="#3678fe"/>
<path d="M424.8 479.5H430.1" stroke="#3975fe"/>
<path d="M429.6 479.5H434.9" stroke="#3b73ff"/>
<path d="M434.4 479.5H439.7" stroke="#3d70ff"/>
<path d="M439.2 479.5H444.5" stroke="#3f6eff"/>
<path d="M444.0 479.5H449.3" stroke="#416bfe"/>
<path d="M448.8 479.5H454.1" stroke="#4269fe"/>
<path d="M453.6 479.5H468.5" stroke="#4367fd"/>
<path d="M468.0 479.5H492.4" stroke="#4464fd"/>
<path d="M491.9 479.5H506.8" stroke="#4562fc"/>
<path d="M506.3 479.5H521.1" stroke="#4660fc"/>
<path d="M520.6 479.5H525.9" stroke="#4562fc"/>
<path d="M525.4 479.5H530.7" stroke="#4269fe"/>
<path d="M530.2 479.5H535.5" stroke="#3f6eff"/>
<path d="M535.0 479.5H540.3" stroke="#3975fe"/>
<path d="M539.8 479.5H545.1" stroke="#3678fe"/>
<path d="M544.6 479.5H549.9" stroke="#347afd"/>
<path d="M549.4 479.5H559.5" stroke="#317cfc"/>
<path d="M559.0 479.5H564.3" stroke="#307ffb"/>
<path d="M563.8 479.5H569.1" stroke="#2f81fa"/>
<path d="M568.6 479.5H573.8" stroke="#2e83f9"/>
<path d="M573.3 479.5H578.6" stroke="#2d87f6"/>
<path d="M578.1 479.5H583.4" stroke="#2d8af5"/>
<path d="M582.9 479.5H588.2" stroke="#2d8cf3"/>
<path d="M587.7 479.5H593.0" stroke="#2c90f0"/>
<path d="M592.5 479.5H597.8" stroke="#2b92ee"/>
<path d="M597.3 479.5H602.6" stroke="#2994ed"/>
<path d="M602.1 479.5H607.4" stroke="#2896ec"/>
<path d="M606.9 479.5H617.0" stroke="#2798ea"/>
<path d="M616.5 479.5H621.7" stroke="#2896ec"/>
<path d="M621.2 479.5H626.5" stroke="#2b92ee"/>
<path d="M626.0 479.5H631.3" stroke="#2d8ef1"/>
<path d="M630.8 479.5H636.1" stroke="#2d8cf3"/>
<path d="M635.6 479.5H640.9" stroke="#2d87f6"/>
<path d="M640.4 479.5H645.7" stroke="#2e85f8"/>
<path d="M645.2 479.5H650.5" stroke="#2e83f9"/>
<path d="M650.0 479.5H655.3" stroke="#307ffb"/>
<path d="M654.8 479.5H660.1" stroke="#317cfc"/>
<path d="M659.6 479.5H664.9" stroke="#347afd"/>
<path d="M664.4 479.5H679.2" stroke="#3678fe"/>
<path d="M678.7 479.5H688.8" stroke="#3975fe"/>
<path d="M688.3 479.5H698.4" stroke="#3b73ff"/>
<path d="M697.9 479.5H703.2" stroke="#3d70ff"/>
<path d="M702.7 479.5H708.0" stroke="#3f6eff"/>
<path d="M707.5 479.5H712.8" stroke="#416bfe"/>
<path d="M712.3 479.5H717.6" stroke="#4269fe"/>
<path d="M717.1 479.5H722.3" stroke="#4367fd"/>
<path d="M721.8 479.5H727.1" stroke="#4464fd"/>
<path d="M726.6 479.5H736.7" stroke="#4562fc"/>
<path d="M736.2 479.5H746.3" stroke="#4660fc"/>
<path d="M89.5 506.6H99.6" stroke="#4269fe"/>
<path d="M99.1 506.6H104.4" stroke="#416bfe"/>
<path d="M103.9 506.6H109.2" stroke="#3f6eff"/>
<path d="M108.7 506.6H114.0" stroke="#347afd"/>
<path d="M113.5 506.6H118.7" stroke="#2d87f6"/>
<path d="M118.2 506.6H123.5" stroke="#269ae9"/>
<path d="M123.0 506.6H128.3" stroke="#13b0d7"/>
<path d="M127.8 506.6H133.1" stroke="#2bc3a8"/>
<path d="M132.6 506.6H137.9" stroke="#7dcc5c"/>
<path d="M137.4 506.6H142.7" stroke="#e6bb2d"/>
<path d="M142.2 506.6H157.1" stroke="#fec13a"/>
<path d="M156.6 506.6H161.9" stroke="#f8ba3d"/>
<path d="M161.4 506.6H166.6" stroke="#d2bf27"/>
<path d="M166.1 506.6H171.4" stroke="#aac73a"/>
<path d="M170.9 506.6H176.2" stroke="#7dcc5c"/>
<path d="M175.7 506.6H181.0" stroke="#52cc7e"/>
<path d="M180.5 506.6H185.8" stroke="#36c898"/>
<path d="M185.3 506.6H190.6" stroke="#25c2ae"/>
<path d="M190.1 506.6H195.4" stroke="#01bac4"/>
<path d="M194.9 506.6H200.2" stroke="#18addb"/>
<path d="M199.7 506.6H205.0" stroke="#249fe5"/>
<path d="M204.5 506.6H209.8" stroke="#2896ec"/>
<path d="M209.3 506.6H214.6" stroke="#2c90f0"/>
<path d="M214.1 506.6H219.3" stroke="#2d8cf3"/>
<path d="M218.8 506.6H224.1" stroke="#2d87f6"/>
<path d="M223.6 506.6H228.9" stroke="#2e83f9"/>
<path d="M228.4 506.6H233.7" stroke="#2f81fa"/>
<path d="M233.2 506.6H243.3" stroke="#307ffb"/>
<path d="M242.8 506.6H252.9" stroke="#317cfc"/>
<path d="M252.4 506.6H262.5" stroke="#347afd"/>
<path d="M262.0 506.6H267.2" stroke="#3678fe"/>
<path d="M266.7 506.6H276.8" stroke="#3975fe"/>
<path d="M276.3 506.6H286.4" stroke="#3b73ff"/>
<path d="M285.9 506.6H291.2" stroke="#3f6eff"/>
<path d="M290.7 506.6H296.0" stroke="#4269fe"/>
<path d="M295.5 506.6H300.8" stroke="#4464fd"/>
<path d="M300.3 506.6H305.6" stroke="#4660fc"/>
<path d="M305.1 506.6H324.7" stroke="#465efb"/>
<path d="M324.2 506.6H329.5" stroke="#475bfa"/>
<path d="M329.0 506.6H334.3" stroke="#465efb"/>
<path d="M333.8 506.6H339.1" stroke="#4562fc"/>
<path d="M338.6 506.6H343.9" stroke="#4367fd"/>
<path d="M343.4 506.6H348.7" stroke="#416bfe"/>
<path d="M348.2 506.6H353.5" stroke="#3d70ff"/>
<path d="M353.0 506.6H358.3" stroke="#3b73ff"/>
<path d="M357.8 506.6H363.1" stroke="#3678fe"/>
<path d="M362.6 506.6H387.0" stroke="#317cfc"/>
<path d="M386.5 506.6H396.6" stroke="#347afd"/>
<path d="M396.1 506.6H401.4" stroke="#3678fe"/>
<path d="M400.9 506.6H406.2" stroke="#3975fe"/>
<path d="M405.7 506.6H411.0" stroke="#3d70ff"/>
<path d="M410.5 506.6H415.8" stroke="#3f6eff"/>
<path d="M415.3 506.6H420.5" stroke="#416bfe"/>
<path d="M420.0 506.6H425.3" stroke="#4367fd"/>
<path d="M424.8 506.6H430.1" stroke="#4464fd"/>
<path d="M429.6 506.6H434.9" stroke="#4562fc"/>
<path d="M434.4 506.6H439.7" stroke="#465efb"/>
<path d="M439.2 506.6H444.5" stroke="#475bfa"/>
<path d="M444.0 506.6H449.3" stroke="#4759f9"/>
<path d="M448.8 506.6H454.1" stroke="#475bfa"/>
<path d="M453.6 506.6H458.9" stroke="#465efb"/>
<path d="M458.4 506.6H463.7" stroke="#4660fc"/>
<path d="M463.2 506.6H516.4" stroke="#4562fc"/>
<path d="M515.9 506.6H521.1" stroke="#4660fc"/>
<path d="M520.6 506.6H525.9" stroke="#475bfa"/>
<path d="M525.4 506.6H530.7" stroke="#4562fc"/>
<path d="M530.2 506.6H535.5" stroke="#416bfe"/>
<path d="M535.0 506.6H540.3" stroke="#3b73ff"/>
<path d="M539.8 506.6H559.5" stroke="#3678fe"/>
<path d="M559.0 506.6H569.1" stroke="#347afd"/>
<path d="M568.6 506.6H573.8" stroke="#416bfe"/>
<path d="M573.3 506.6H588.2" stroke="#4660fc"/>
<path d="M587.7 506.6H593.0" stroke="#3678fe"/>
<path d="M592.5 506.6H597.8" stroke="#307ffb"/>
<path d="M597.3 506.6H602.6" stroke="#2f81fa"/>
<path d="M602.1 506.6H612.2" stroke="#2e83f9"/>
<path d="M611.7 506.6H617.0" stroke="#2e85f8"/>
<path d="M616.5 506.6H626.5" stroke="#2d87f6"/>
<path d="M626.0 506.6H636.1" stroke="#2e85f8"/>
<path d="M635.6 506.6H640.9" stroke="#2e83f9"/>
<path d="M640.4 506.6H645.7" stroke="#2f81fa"/>
<path d="M645.2 506.6H650.5" stroke="#307ffb"/>
<path d="M650.0 506.6H660.1" stroke="#317cfc"/>
<path d="M659.6 506.6H674.4" stroke="#347afd"/>
<path d="M673.9 506.6H693.6" stroke="#3678fe"/>
<path d="M693.1 506.6H727.1" stroke="#3975fe"/>
<path d="M726.6 506.6H746.3" stroke="#3b73ff"/>
<path d="M89.5 533.8H94.8" stroke="#2b92ee"/>
<path d="M94.3 533.8H99.6" stroke="#2798ea"/>
<path d="M99.1 533.8H104.4" stroke="#249fe5"/>
<path d="M103.9 533.8H109.2" stroke="#1da8e0"/>
<path d="M108.7 533.8H114.0" stroke="#13b0d7"/>
<path d="M113.5 533.8H118.7" stroke="#00b9c6"/>
<path d="M118.2 533.8H123.5" stroke="#21c1b1"/>
<path d="M123.0 533.8H128.3" stroke="#43cb8a"/>
<path d="M127.8 533.8H133.1" stroke="#99c946"/>
<path d="M132.6 533.8H137.9" stroke="#fbbb3e"/>
<path d="M137.4 533.8H142.7" stroke="#fec835"/>
<path d="M142.2 533.8H147.5" stroke="#fcd12f"/>
<path d="M147.0 533.8H157.1" stroke="#fad42e"/>
<path d="M156.6 533.8H161.9" stroke="#feca33"/>
<path d="M161.4 533.8H166.6" stroke="#fec338"/>
<path d="M166.1 533.8H171.4" stroke="#fec13a"/>
<path d="M170.9 533.8H176.2" stroke="#d2bf27"/>
<path d="M175.7 533.8H181.0" stroke="#88cb53"/>
<path d="M180.5 533.8H185.8" stroke="#43cb8a"/>
<path d="M185.3 533.8H190.6" stroke="#1cc0b4"/>
<path d="M190.1 533.8H195.4" stroke="#16afd9"/>
<path d="M194.9 533.8H200.2" stroke="#2896ec"/>
<path d="M199.7 533.8H205.0" stroke="#2f81fa"/>
<path d="M204.5 533.8H209.8" stroke="#3b73ff"/>
<path d="M209.3 533.8H214.6" stroke="#4269fe"/>
<path d="M214.1 533.8H228.9" stroke="#4562fc"/>
<path d="M228.4 533.8H267.2" stroke="#4660fc"/>
<path d="M266.7 533.8H272.0" stroke="#4464fd"/>
<path d="M271.5 533.8H281.6" stroke="#4269fe"/>
<path d="M281.1 533.8H286.4" stroke="#4367fd"/>
<path d="M285.9 533.8H291.2" stroke="#4464fd"/>
<path d="M290.7 533.8H296.0" stroke="#4562fc"/>
<path d="M295.5 533.8H300.8" stroke="#465efb"/>
<path d="M300.3 533.8H305.6" stroke="#4759f9"/>
<path d="M305.1 533.8H310.4" stroke="#4855f6"/>
<path d="M309.9 533.8H315.2" stroke="#4757f7"/>
<path d="M314.7 533.8H319.9" stroke="#4759f9"/>
<path d="M319.4 533.8H324.7" stroke="#475bfa"/>
<path d="M324.2 533.8H334.3" stroke="#465efb"/>
<path d="M333.8 533.8H339.1" stroke="#4660fc"/>
<path d="M338.6 533.8H348.7" stroke="#4562fc"/>
<path d="M348.2 533.8H353.5" stroke="#4464fd"/>
<path d="M353.0 533.8H358.3" stroke="#4367fd"/>
<path d="M357.8 533.8H363.1" stroke="#416bfe"/>
<path d="M362.6 533.8H367.8" stroke="#3f6eff"/>
<path d="M367.3 533.8H372.6" stroke="#3d70ff"/>
<path d="M372.1 533.8H377.4" stroke="#3975fe"/>
<path d="M376.9 533.8H382.2" stroke="#3b73ff"/>
<path d="M381.7 533.8H387.0" stroke="#3d70ff"/>
<path d="M386.5 533.8H391.8" stroke="#416bfe"/>
<path d="M391.3 533.8H396.6" stroke="#4269fe"/>
<path d="M396.1 533.8H406.2" stroke="#4464fd"/>
<path d="M405.7 533.8H411.0" stroke="#4562fc"/>
<path d="M410.5 533.8H415.8" stroke="#4660fc"/>
<path d="M415.3 533.8H434.9" stroke="#465efb"/>
<path d="M434.4 533.8H463.7" stroke="#4660fc"/>
<path d="M463.2 533.8H492.4" stroke="#4562fc"/>
<path d="M491.9 533.8H497.2" stroke="#4367fd"/>
<path d="M496.7 533.8H502.0" stroke="#3b73ff"/>
<path d="M501.5 533.8H511.6" stroke="#3d70ff"/>
<path d="M511.1 533.8H516.4" stroke="#3f6eff"/>
<path d="M515.9 533.8H521.1" stroke="#4464fd"/>
<path d="M520.6 533.8H530.7" stroke="#4759f9"/>
<path d="M530.2 533.8H535.5" stroke="#475bfa"/>
<path d="M535.0 533.8H540.3" stroke="#3d70ff"/>
<path d="M539.8 533.8H545.1" stroke="#347afd"/>
<path d="M544.6 533.8H549.9" stroke="#2f81fa"/>
<path d="M549.4 533.8H554.7" stroke="#2d87f6"/>
<path d="M554.2 533.8H559.5" stroke="#2e83f9"/>
<path d="M559.0 533.8H564.3" stroke="#307ffb"/>
<path d="M563.8 533.8H569.1" stroke="#347afd"/>
<path d="M568.6 533.8H573.8" stroke="#3975fe"/>
<path d="M573.3 533.8H578.6" stroke="#3f6eff"/>
<path d="M578.1 533.8H583.4" stroke="#3d70ff"/>
<path d="M582.9 533.8H588.2" stroke="#3975fe"/>
<path d="M587.7 533.8H593.0" stroke="#3678fe"/>
<path d="M592.5 533.8H636.1" stroke="#347afd"/>
<path d="M635.6 533.8H640.9" stroke="#3b73ff"/>
<path d="M640.4 533.8H645.7" stroke="#3f6eff"/>
<path d="M645.2 533.8H650.5" stroke="#416bfe"/>
<path d="M650.0 533.8H655.3" stroke="#3d70ff"/>
<path d="M654.8 533.8H660.1" stroke="#3b73ff"/>
<path d="M659.6 533.8H664.9" stroke="#3975fe"/>
<path d="M664.4 533.8H684.0" stroke="#3678fe"/>
<path d="M683.5 533.8H746.3" stroke="#347afd"/>
<path d="M89.5 560.9H94.8" stroke="#20a5e2"/>
<path d="M94.3 560.9H99.6" stroke="#18addb"/>
<path d="M99.1 560.9H104.4" stroke="#02b7cc"/>
<path d="M103.9 560.9H109.2" stroke="#12beb9"/>
<path d="M108.7 560.9H114.0" stroke="#30c5a2"/>
<path d="M113.5 560.9H118.7" stroke="#48cb86"/>
<path d="M118.2 560.9H123.5" stroke="#71cd64"/>
<path d="M123.0 560.9H128.3" stroke="#aac73a"/>
<path d="M127.8 560.9H133.1" stroke="#eeba34"/>
<path d="M132.6 560.9H137.9" stroke="#fec338"/>
<path d="M137.4 560.9H142.7" stroke="#fec835"/>
<path d="M142.2 560.9H147.5" stroke="#fdcc32"/>
<path d="M147.0 560.9H152.3" stroke="#fec835"/>
<path d="M151.8 560.9H157.1" stroke="#fec537"/>
<path d="M156.6 560.9H161.9" stroke="#fec13a"/>
<path d="M161.4 560.9H166.6" stroke="#eaba30"/>
<path d="M166.1 560.9H171.4" stroke="#a4c83e"/>
<path d="M170.9 560.9H176.2" stroke="#5ccc76"/>
<path d="M175.7 560.9H181.0" stroke="#2dc4a5"/>
<path d="M180.5 560.9H185.8" stroke="#12beb9"/>
<path d="M185.3 560.9H190.6" stroke="#02b7cc"/>
<path d="M190.1 560.9H195.4" stroke="#16afd9"/>
<path d="M194.9 560.9H200.2" stroke="#2798ea"/>
<path d="M199.7 560.9H205.0" stroke="#347afd"/>
<path d="M204.5 560.9H209.8" stroke="#4757f7"/>
<path d="M209.3 560.9H214.6" stroke="#484aee"/>
<path d="M214.1 560.9H219.3" stroke="#463cdf"/>
<path d="M218.8 560.9H224.1" stroke="#473fe2"/>
<path d="M223.6 560.9H228.9" stroke="#4741e5"/>
<path d="M228.4 560.9H233.7" stroke="#4743e7"/>
<path d="M233.2 560.9H238.5" stroke="#4745e9"/>
<path d="M238.0 560.9H243.3" stroke="#4847ec"/>
<path d="M242.8 560.9H248.1" stroke="#484aee"/>
<path d="M247.6 560.9H252.9" stroke="#4745e9"/>
<path d="M252.4 560.9H257.7" stroke="#4741e5"/>
<path d="M257.2 560.9H262.5" stroke="#463cdf"/>
<path d="M262.0 560.9H267.2" stroke="#4230c4"/>
<path d="M266.7 560.9H276.8" stroke="#402bb6"/>
<path d="M276.3 560.9H281.6" stroke="#463cdf"/>
<path d="M281.1 560.9H286.4" stroke="#4847ec"/>
<path d="M285.9 560.9H291.2" stroke="#484ef1"/>
<path d="M290.7 560.9H296.0" stroke="#4855f6"/>
<path d="M295.5 560.9H305.6" stroke="#4757f7"/>
<path d="M305.1 560.9H315.2" stroke="#4759f9"/>
<path d="M314.7 560.9H324.7" stroke="#475bfa"/>
<path d="M324.2 560.9H334.3" stroke="#465efb"/>
<path d="M333.8 560.9H339.1" stroke="#4660fc"/>
<path d="M338.6 560.9H348.7" stroke="#4562fc"/>
<path d="M348.2 560.9H358.3" stroke="#4464fd"/>
<path d="M357.8 560.9H367.8" stroke="#4367fd"/>
<path d="M367.3 560.9H382.2" stroke="#4269fe"/>
<path d="M381.7 560.9H387.0" stroke="#4367fd"/>
<path d="M386.5 560.9H391.8" stroke="#4464fd"/>
<path d="M391.3 560.9H396.6" stroke="#4562fc"/>
<path d="M396.1 560.9H401.4" stroke="#4660fc"/>
<path d="M400.9 560.9H411.0" stroke="#465efb"/>
<path d="M410.5 560.9H415.8" stroke="#4660fc"/>
<path d="M415.3 560.9H420.5" stroke="#4562fc"/>
<path d="M420.0 560.9H425.3" stroke="#4464fd"/>
<path d="M424.8 560.9H430.1" stroke="#4367fd"/>
<path d="M429.6 560.9H434.9" stroke="#4269fe"/>
<path d="M434.4 560.9H444.5" stroke="#416bfe"/>
<path d="M444.0 560.9H449.3" stroke="#3f6eff"/>
<path d="M448.8 560.9H454.1" stroke="#416bfe"/>
<path d="M453.6 560.9H458.9" stroke="#4269fe"/>
<path d="M458.4 560.9H463.7" stroke="#4464fd"/>
<path d="M463.2 560.9H468.5" stroke="#4562fc"/>
<path d="M468.0 560.9H482.8" stroke="#4660fc"/>
<path d="M482.3 560.9H506.8" stroke="#4562fc"/>
<path d="M506.3 560.9H511.6" stroke="#4660fc"/>
<path d="M511.1 560.9H525.9" stroke="#465efb"/>
<path d="M525.4 560.9H530.7" stroke="#4562fc"/>
<path d="M530.2 560.9H535.5" stroke="#4367fd"/>
<path d="M535.0 560.9H540.3" stroke="#416bfe"/>
<path d="M539.8 560.9H545.1" stroke="#3d70ff"/>
<path d="M544.6 560.9H549.9" stroke="#3b73ff"/>
<path d="M549.4 560.9H554.7" stroke="#3975fe"/>
<path d="M554.2 560.9H573.8" stroke="#347afd"/>
<path d="M573.3 560.9H602.6" stroke="#3678fe"/>
<path d="M602.1 560.9H636.1" stroke="#3975fe"/>
<path d="M635.6 560.9H640.9" stroke="#3d70ff"/>
<path d="M640.4 560.9H645.7" stroke="#416bfe"/>
<path d="M645.2 560.9H650.5" stroke="#4367fd"/>
<path d="M650.0 560.9H655.3" stroke="#4562fc"/>
<path d="M654.8 560.9H664.9" stroke="#4660fc"/>
<path d="M664.4 560.9H669.7" stroke="#4464fd"/>
<path d="M669.2 560.9H674.4" stroke="#4269fe"/>
<path d="M673.9 560.9H679.2" stroke="#416bfe"/>
<path d="M678.7 560.9H746.3" stroke="#3f6eff"/>
<path d="M89.5 588.0H94.8" stroke="#2d8cf3"/>
<path d="M94.3 588.0H99.6" stroke="#23a1e4"/>
<path d="M99.1 588.0H104.4" stroke="#10b2d5"/>
<path d="M103.9 588.0H109.2" stroke="#0dbdbc"/>
<path d="M108.7 588.0H114.0" stroke="#34c79c"/>
<path d="M113.5 588.0H118.7" stroke="#5ccc76"/>
<path d="M118.2 588.0H123.5" stroke="#88cb53"/>
<path d="M123.0 588.0H128.3" stroke="#b4c533"/>
<path d="M127.8 588.0H133.1" stroke="#eaba30"/>
<path d="M132.6 588.0H137.9" stroke="#febe3c"/>
<path d="M137.4 588.0H147.5" stroke="#fec13a"/>
<path d="M147.0 588.0H152.3" stroke="#f1ba37"/>
<path d="M151.8 588.0H157.1" stroke="#aac73a"/>
<path d="M156.6 588.0H161.9" stroke="#61cd72"/>
<path d="M161.4 588.0H166.6" stroke="#21c1b1"/>
<path d="M166.1 588.0H171.4" stroke="#1ea7e1"/>
<path d="M170.9 588.0H176.2" stroke="#2d8af5"/>
<path d="M175.7 588.0H181.0" stroke="#2d87f6"/>
<path d="M180.5 588.0H185.8" stroke="#2e83f9"/>
<path d="M185.3 588.0H190.6" stroke="#2f81fa"/>
<path d="M190.1 588.0H195.4" stroke="#307ffb"/>
<path d="M194.9 588.0H200.2" stroke="#317cfc"/>
<path d="M199.7 588.0H205.0" stroke="#3f6eff"/>
<path d="M204.5 588.0H209.8" stroke="#4757f7"/>
<path d="M209.3 588.0H214.6" stroke="#484aee"/>
<path d="M214.1 588.0H219.3" stroke="#463cdf"/>
<path d="M218.8 588.0H224.1" stroke="#4745e9"/>
<path d="M223.6 588.0H228.9" stroke="#484ef1"/>
<path d="M228.4 588.0H238.5" stroke="#4850f3"/>
<path d="M238.0 588.0H243.3" stroke="#4853f4"/>
<path d="M242.8 588.0H248.1" stroke="#4855f6"/>
<path d="M247.6 588.0H252.9" stroke="#4850f3"/>
<path d="M252.4 588.0H257.7" stroke="#484cef"/>
<path d="M257.2 588.0H262.5" stroke="#4847ec"/>
<path d="M262.0 588.0H267.2" stroke="#4741e5"/>
<path d="M266.7 588.0H272.0" stroke="#4435d1"/>
<path d="M271.5 588.0H276.8" stroke="#4536d5"/>
<path d="M276.3 588.0H281.6" stroke="#4743e7"/>
<path d="M281.1 588.0H286.4" stroke="#4855f6"/>
<path d="M285.9 588.0H291.2" stroke="#4757f7"/>
<path d="M290.7 588.0H296.0" stroke="#4759f9"/>
<path d="M295.5 588.0H300.8" stroke="#465efb"/>
<path d="M300.3 588.0H315.2" stroke="#4660fc"/>
<path d="M314.7 588.0H348.7" stroke="#4562fc"/>
<path d="M348.2 588.0H358.3" stroke="#4660fc"/>
<path d="M357.8 588.0H363.1" stroke="#465efb"/>
<path d="M362.6 588.0H367.8" stroke="#475bfa"/>
<path d="M367.3 588.0H372.6" stroke="#4759f9"/>
<path d="M372.1 588.0H382.2" stroke="#4757f7"/>
<path d="M381.7 588.0H387.0" stroke="#475bfa"/>
<path d="M386.5 588.0H391.8" stroke="#465efb"/>
<path d="M391.3 588.0H396.6" stroke="#4562fc"/>
<path d="M396.1 588.0H401.4" stroke="#4464fd"/>
<path d="M400.9 588.0H406.2" stroke="#4367fd"/>
<path d="M405.7 588.0H411.0" stroke="#416bfe"/>
<path d="M410.5 588.0H415.8" stroke="#3f6eff"/>
<path d="M415.3 588.0H420.5" stroke="#3d70ff"/>
<path d="M420.0 588.0H430.1" stroke="#3b73ff"/>
<path d="M429.6 588.0H434.9" stroke="#3975fe"/>
<path d="M434.4 588.0H444.5" stroke="#3678fe"/>
<path d="M444.0 588.0H449.3" stroke="#347afd"/>
<path d="M448.8 588.0H454.1" stroke="#3975fe"/>
<path d="M453.6 588.0H458.9" stroke="#3d70ff"/>
<path d="M458.4 588.0H463.7" stroke="#416bfe"/>
<path d="M463.2 588.0H468.5" stroke="#4367fd"/>
<path d="M468.0 588.0H473.2" stroke="#4660fc"/>
<path d="M472.7 588.0H478.0" stroke="#475bfa"/>
<path d="M477.5 588.0H506.8" stroke="#4759f9"/>
<path d="M506.3 588.0H511.6" stroke="#475bfa"/>
<path d="M511.1 588.0H516.4" stroke="#4660fc"/>
<path d="M515.9 588.0H521.1" stroke="#4562fc"/>
<path d="M520.6 588.0H525.9" stroke="#4464fd"/>
<path d="M525.4 588.0H535.5" stroke="#4367fd"/>
<path d="M535.0 588.0H540.3" stroke="#4269fe"/>
<path d="M539.8 588.0H545.1" stroke="#416bfe"/>
<path d="M544.6 588.0H554.7" stroke="#3f6eff"/>
<path d="M554.2 588.0H569.1" stroke="#416bfe"/>
<path d="M568.6 588.0H578.6" stroke="#4269fe"/>
<path d="M578.1 588.0H597.8" stroke="#4367fd"/>
<path d="M597.3 588.0H621.7" stroke="#4464fd"/>
<path d="M621.2 588.0H626.5" stroke="#4562fc"/>
<path d="M626.0 588.0H650.5" stroke="#4464fd"/>
<path d="M650.0 588.0H674.4" stroke="#4367fd"/>
<path d="M673.9 588.0H693.6" stroke="#4269fe"/>
<path d="M693.1 588.0H727.1" stroke="#416bfe"/>
<path d="M726.6 588.0H746.3" stroke="#3f6eff"/>
</g>
</g>
<rect x="89.50" y="32.50" width="656.30" height="568.70" fill="none" stroke="#262626" stroke-width="1.10"/>
<g stroke="#262626" stroke-width="1.10"><line x1="89.50" y1="72.59" x2="96.30" y2="72.59"/><line x1="745.80" y1="72.59" x2="739.00" y2="72.59"/><line x1="89.50" y1="126.85" x2="96.30" y2="126.85"/><line x1="745.80" y1="126.85" x2="739.00" y2="126.85"/><line x1="89.50" y1="181.11" x2="96.30" y2="181.11"/><line x1="745.80" y1="181.11" x2="739.00" y2="181.11"/><line x1="89.50" y1="235.36" x2="96.30" y2="235.36"/><line x1="745.80" y1="235.36" x2="739.00" y2="235.36"/><line x1="89.50" y1="289.62" x2="96.30" y2="289.62"/><line x1="745.80" y1="289.62" x2="739.00" y2="289.62"/><line x1="89.50" y1="343.88" x2="96.30" y2="343.88"/><line x1="745.80" y1="343.88" x2="739.00" y2="343.88"/><line x1="89.50" y1="398.14" x2="96.30" y2="398.14"/><line x1="745.80" y1="398.14" x2="739.00" y2="398.14"/><line x1="89.50" y1="452.39" x2="96.30" y2="452.39"/><line x1="745.80" y1="452.39" x2="739.00" y2="452.39"/><line x1="89.50" y1="506.65" x2="96.30" y2="506.65"/><line x1="745.80" y1="506.65" x2="739.00" y2="506.65"/><line x1="89.50" y1="560.91" x2="96.30" y2="560.91"/><line x1="745.80" y1="560.91" x2="739.00" y2="560.91"/><line x1="173.40" y1="32.50" x2="173.40" y2="39.30"/><line x1="173.40" y1="601.20" x2="173.40" y2="594.40"/><line x1="269.30" y1="32.50" x2="269.30" y2="39.30"/><line x1="269.30" y1="601.20" x2="269.30" y2="594.40"/><line x1="365.20" y1="32.50" x2="365.20" y2="39.30"/><line x1="365.20" y1="601.20" x2="365.20" y2="594.40"/><line x1="461.10" y1="32.50" x2="461.10" y2="39.30"/><line x1="461.10" y1="601.20" x2="461.10" y2="594.40"/><line x1="557.00" y1="32.50" x2="557.00" y2="39.30"/><line x1="557.00" y1="601.20" x2="557.00" y2="594.40"/><line x1="652.90" y1="32.50" x2="652.90" y2="39.30"/><line x1="652.90" y1="601.20" x2="652.90" y2="594.40"/></g>
<g font-family="Liberation Sans, Arial, sans-serif" font-size="22.80" fill="#1c1c1c"><text transform="translate(79.90 80.89) scale(1 1.04)" text-anchor="end">2</text><text transform="translate(79.90 135.15) scale(1 1.04)" text-anchor="end">4</text><text transform="translate(79.90 189.41) scale(1 1.04)" text-anchor="end">6</text><text transform="translate(79.90 243.66) scale(1 1.04)" text-anchor="end">8</text><text transform="translate(79.90 297.92) scale(1 1.04)" text-anchor="end">10</text><text transform="translate(79.90 352.18) scale(1 1.04)" text-anchor="end">12</text><text transform="translate(79.90 406.44) scale(1 1.04)" text-anchor="end">14</text><text transform="translate(79.90 460.69) scale(1 1.04)" text-anchor="end">16</text><text transform="translate(79.90 514.95) scale(1 1.04)" text-anchor="end">18</text><text transform="translate(79.90 569.21) scale(1 1.04)" text-anchor="end">20</text><text transform="translate(173.40 634.30) scale(1 1.04)" text-anchor="middle">60</text><text transform="translate(269.30 634.30) scale(1 1.04)" text-anchor="middle">80</text><text transform="translate(365.20 634.30) scale(1 1.04)" text-anchor="middle">100</text><text transform="translate(461.10 634.30) scale(1 1.04)" text-anchor="middle">120</text><text transform="translate(557.00 634.30) scale(1 1.04)" text-anchor="middle">140</text><text transform="translate(652.90 634.30) scale(1 1.04)" text-anchor="middle">160</text><text transform="translate(808.00 101.50) scale(1 1.04)" font-size="20.40">0.05</text><text transform="translate(808.00 180.97) scale(1 1.04)" font-size="20.40">0.04</text><text transform="translate(808.00 260.43) scale(1 1.04)" font-size="20.40">0.03</text><text transform="translate(808.00 339.90) scale(1 1.04)" font-size="20.40">0.02</text><text transform="translate(808.00 419.37) scale(1 1.04)" font-size="20.40">0.01</text><text transform="translate(808.00 498.83) scale(1 1.04)" font-size="20.40">0</text><text transform="translate(808.00 578.30) scale(1 1.04)" font-size="20.40">-0.01</text></g>
<defs><linearGradient id="lcb" x1="0" y1="0" x2="0" y2="1"><stop offset="0.0000" stop-color="#f9fb15"/><stop offset="0.0312" stop-color="#f6ef20"/><stop offset="0.0625" stop-color="#f5e327"/><stop offset="0.0938" stop-color="#f9d62d"/><stop offset="0.1250" stop-color="#feca33"/><stop offset="0.1562" stop-color="#febe3c"/><stop offset="0.1875" stop-color="#f1ba37"/><stop offset="0.2188" stop-color="#debc29"/><stop offset="0.2500" stop-color="#c8c129"/><stop offset="0.2812" stop-color="#afc636"/><stop offset="0.3125" stop-color="#94ca4a"/><stop offset="0.3438" stop-color="#77cc60"/><stop offset="0.3750" stop-color="#5ccc76"/><stop offset="0.4062" stop-color="#43cb8a"/><stop offset="0.4375" stop-color="#34c79c"/><stop offset="0.4688" stop-color="#28c2ab"/><stop offset="0.5000" stop-color="#12beb9"/><stop offset="0.5312" stop-color="#00b9c6"/><stop offset="0.5625" stop-color="#0cb3d3"/><stop offset="0.5938" stop-color="#1aacdd"/><stop offset="0.6250" stop-color="#21a3e3"/><stop offset="0.6562" stop-color="#269ae9"/><stop offset="0.6875" stop-color="#2c90f0"/><stop offset="0.7188" stop-color="#2e85f8"/><stop offset="0.7500" stop-color="#347afd"/><stop offset="0.7812" stop-color="#3f6eff"/><stop offset="0.8125" stop-color="#4562fc"/><stop offset="0.8438" stop-color="#4757f7"/><stop offset="0.8750" stop-color="#484cef"/><stop offset="0.9062" stop-color="#4741e5"/><stop offset="0.9375" stop-color="#4536d5"/><stop offset="0.9688" stop-color="#422ebf"/><stop offset="1.0000" stop-color="#3e26a8"/></linearGradient></defs><rect x="764.10" y="32.50" width="35.40" height="567.90" fill="url(#lcb)" stroke="#262626" stroke-width="1.10"/>
<g stroke="#262626" stroke-width="1.10"><line x1="799.50" y1="93.20" x2="793.50" y2="93.20"/><line x1="799.50" y1="172.67" x2="793.50" y2="172.67"/><line x1="799.50" y1="252.13" x2="793.50" y2="252.13"/><line x1="799.50" y1="331.60" x2="793.50" y2="331.60"/><line x1="799.50" y1="411.07" x2="793.50" y2="411.07"/><line x1="799.50" y1="490.53" x2="793.50" y2="490.53"/><line x1="799.50" y1="570.00" x2="793.50" y2="570.00"/></g>
<text x="417.40" y="24.70" text-anchor="middle" font-family="Liberation Sans, Arial, sans-serif" font-weight="bold" font-size="24.90" fill="#000">Subtraction</text>
<text y="675.10" font-family="Liberation Serif, Times New Roman, serif" font-size="42.00" fill="#222"><tspan x="261.10" textLength="98.30" lengthAdjust="spacingAndGlyphs">Heart</tspan> <tspan x="375.00" textLength="84.00" lengthAdjust="spacingAndGlyphs">Rate</tspan> <tspan x="473.60" textLength="100.30" lengthAdjust="spacingAndGlyphs">[bpm]</tspan> </text>
<text transform="translate(33.70 0) rotate(-90)" font-family="Liberation Serif, Times New Roman, serif" font-size="42.00" fill="#222"><tspan x="-429.50" y="0" textLength="85.00" lengthAdjust="spacingAndGlyphs">Time</tspan> <tspan x="-332.00" y="0" textLength="85.20" lengthAdjust="spacingAndGlyphs">Step</tspan> <tspan x="-235.00" y="0" textLength="29.00" lengthAdjust="spacingAndGlyphs" font-style="italic">T</tspan> </text>
<text x="296.50" y="752.80" textLength="63.50" lengthAdjust="spacingAndGlyphs" font-family="Liberation Serif, Times New Roman, serif" font-size="54.00" fill="#111">(a)</text>
<clipPath id="rclip"><rect x="1003.20" y="34.60" width="653.40" height="566.70"/></clipPath>
<g clip-path="url(#rclip)">
<g shape-rendering="crispEdges" stroke-width="29.16" fill="none">
<path d="M1003.2 48.4H1008.4" stroke="#1cc0b4"/>
<path d="M1007.9 48.4H1013.2" stroke="#12beb9"/>
<path d="M1012.7 48.4H1017.9" stroke="#0dbdbc"/>
<path d="M1017.4 48.4H1022.6" stroke="#07bcbf"/>
<path d="M1022.1 48.4H1027.4" stroke="#01bac4"/>
<path d="M1026.9 48.4H1032.1" stroke="#01b8c9"/>
<path d="M1031.6 48.4H1036.8" stroke="#04b6ce"/>
<path d="M1036.3 48.4H1041.6" stroke="#0cb3d3"/>
<path d="M1041.1 48.4H1046.3" stroke="#10b2d5"/>
<path d="M1045.8 48.4H1051.0" stroke="#13b0d7"/>
<path d="M1050.5 48.4H1055.8" stroke="#16afd9"/>
<path d="M1055.3 48.4H1084.2" stroke="#18addb"/>
<path d="M1083.7 48.4H1088.9" stroke="#16afd9"/>
<path d="M1088.4 48.4H1093.7" stroke="#0cb3d3"/>
<path d="M1093.2 48.4H1098.4" stroke="#02b7cc"/>
<path d="M1097.9 48.4H1103.1" stroke="#04bbc1"/>
<path d="M1102.6 48.4H1107.9" stroke="#12beb9"/>
<path d="M1107.4 48.4H1112.6" stroke="#21c1b1"/>
<path d="M1112.1 48.4H1117.3" stroke="#2dc4a5"/>
<path d="M1116.8 48.4H1122.1" stroke="#39c895"/>
<path d="M1121.6 48.4H1126.8" stroke="#43cb8a"/>
<path d="M1126.3 48.4H1136.3" stroke="#4dcc82"/>
<path d="M1135.8 48.4H1141.0" stroke="#39c895"/>
<path d="M1140.5 48.4H1145.7" stroke="#2dc4a5"/>
<path d="M1145.2 48.4H1150.5" stroke="#17bfb6"/>
<path d="M1150.0 48.4H1155.2" stroke="#00b9c6"/>
<path d="M1154.7 48.4H1159.9" stroke="#16afd9"/>
<path d="M1159.4 48.4H1164.7" stroke="#269ae9"/>
<path d="M1164.2 48.4H1169.4" stroke="#2e83f9"/>
<path d="M1168.9 48.4H1174.2" stroke="#3f6eff"/>
<path d="M1173.7 48.4H1178.9" stroke="#416bfe"/>
<path d="M1178.4 48.4H1183.6" stroke="#4269fe"/>
<path d="M1183.1 48.4H1193.1" stroke="#4367fd"/>
<path d="M1192.6 48.4H1207.3" stroke="#4269fe"/>
<path d="M1206.8 48.4H1212.0" stroke="#416bfe"/>
<path d="M1211.5 48.4H1216.8" stroke="#3f6eff"/>
<path d="M1216.3 48.4H1221.5" stroke="#3d70ff"/>
<path d="M1221.0 48.4H1231.0" stroke="#3b73ff"/>
<path d="M1230.5 48.4H1245.2" stroke="#3975fe"/>
<path d="M1244.7 48.4H1254.6" stroke="#3678fe"/>
<path d="M1254.1 48.4H1268.8" stroke="#347afd"/>
<path d="M1268.3 48.4H1278.3" stroke="#317cfc"/>
<path d="M1277.8 48.4H1292.5" stroke="#307ffb"/>
<path d="M1292.0 48.4H1306.7" stroke="#2f81fa"/>
<path d="M1306.2 48.4H1325.7" stroke="#2e83f9"/>
<path d="M1325.2 48.4H1335.1" stroke="#2e85f8"/>
<path d="M1334.6 48.4H1344.6" stroke="#2e83f9"/>
<path d="M1344.1 48.4H1354.1" stroke="#2f81fa"/>
<path d="M1353.6 48.4H1358.8" stroke="#307ffb"/>
<path d="M1358.3 48.4H1363.5" stroke="#347afd"/>
<path d="M1363.0 48.4H1368.3" stroke="#3678fe"/>
<path d="M1367.8 48.4H1377.7" stroke="#3975fe"/>
<path d="M1377.2 48.4H1387.2" stroke="#3b73ff"/>
<path d="M1386.7 48.4H1392.0" stroke="#3975fe"/>
<path d="M1391.5 48.4H1396.7" stroke="#3678fe"/>
<path d="M1396.2 48.4H1401.4" stroke="#317cfc"/>
<path d="M1400.9 48.4H1406.2" stroke="#307ffb"/>
<path d="M1405.7 48.4H1410.9" stroke="#2e85f8"/>
<path d="M1410.4 48.4H1415.6" stroke="#2d8cf3"/>
<path d="M1415.1 48.4H1420.4" stroke="#2b92ee"/>
<path d="M1419.9 48.4H1425.1" stroke="#2798ea"/>
<path d="M1424.6 48.4H1429.8" stroke="#269ae9"/>
<path d="M1429.3 48.4H1439.3" stroke="#259ce7"/>
<path d="M1438.8 48.4H1444.0" stroke="#2896ec"/>
<path d="M1443.5 48.4H1448.8" stroke="#2c90f0"/>
<path d="M1448.3 48.4H1453.5" stroke="#2d8cf3"/>
<path d="M1453.0 48.4H1463.0" stroke="#2d8af5"/>
<path d="M1462.5 48.4H1467.7" stroke="#2d87f6"/>
<path d="M1467.2 48.4H1472.4" stroke="#2e85f8"/>
<path d="M1471.9 48.4H1477.2" stroke="#2f81fa"/>
<path d="M1476.7 48.4H1481.9" stroke="#317cfc"/>
<path d="M1481.4 48.4H1486.6" stroke="#3678fe"/>
<path d="M1486.1 48.4H1491.4" stroke="#3f6eff"/>
<path d="M1490.9 48.4H1496.1" stroke="#4562fc"/>
<path d="M1495.6 48.4H1500.9" stroke="#4757f7"/>
<path d="M1500.4 48.4H1505.6" stroke="#4847ec"/>
<path d="M1505.1 48.4H1510.3" stroke="#4741e5"/>
<path d="M1509.8 48.4H1515.1" stroke="#473fe2"/>
<path d="M1514.6 48.4H1519.8" stroke="#463cdf"/>
<path d="M1519.3 48.4H1524.5" stroke="#473fe2"/>
<path d="M1524.0 48.4H1529.3" stroke="#4743e7"/>
<path d="M1528.8 48.4H1534.0" stroke="#4850f3"/>
<path d="M1533.5 48.4H1538.7" stroke="#4660fc"/>
<path d="M1538.2 48.4H1543.5" stroke="#3f6eff"/>
<path d="M1543.0 48.4H1548.2" stroke="#347afd"/>
<path d="M1547.7 48.4H1552.9" stroke="#307ffb"/>
<path d="M1552.4 48.4H1557.7" stroke="#2e83f9"/>
<path d="M1557.2 48.4H1562.4" stroke="#2d87f6"/>
<path d="M1561.9 48.4H1567.1" stroke="#2d8cf3"/>
<path d="M1566.6 48.4H1571.9" stroke="#2c90f0"/>
<path d="M1571.4 48.4H1576.6" stroke="#2b92ee"/>
<path d="M1576.1 48.4H1581.3" stroke="#2994ed"/>
<path d="M1580.8 48.4H1586.1" stroke="#2798ea"/>
<path d="M1585.6 48.4H1590.8" stroke="#269ae9"/>
<path d="M1590.3 48.4H1633.4" stroke="#259de6"/>
<path d="M1632.9 48.4H1647.6" stroke="#259ce7"/>
<path d="M1647.1 48.4H1657.1" stroke="#269ae9"/>
<path d="M1003.2 76.7H1008.4" stroke="#afc636"/>
<path d="M1007.9 76.7H1013.2" stroke="#aac73a"/>
<path d="M1012.7 76.7H1017.9" stroke="#9fc942"/>
<path d="M1017.4 76.7H1022.6" stroke="#99c946"/>
<path d="M1022.1 76.7H1027.4" stroke="#7dcc5c"/>
<path d="M1026.9 76.7H1032.1" stroke="#61cd72"/>
<path d="M1031.6 76.7H1036.8" stroke="#43cb8a"/>
<path d="M1036.3 76.7H1041.6" stroke="#36c898"/>
<path d="M1041.1 76.7H1046.3" stroke="#30c5a2"/>
<path d="M1045.8 76.7H1051.0" stroke="#28c2ab"/>
<path d="M1050.5 76.7H1060.5" stroke="#2bc3a8"/>
<path d="M1060.0 76.7H1065.3" stroke="#2dc4a5"/>
<path d="M1064.8 76.7H1070.0" stroke="#32c69f"/>
<path d="M1069.5 76.7H1074.7" stroke="#3fca8e"/>
<path d="M1074.2 76.7H1079.5" stroke="#57cc7a"/>
<path d="M1079.0 76.7H1084.2" stroke="#88cb53"/>
<path d="M1083.7 76.7H1088.9" stroke="#bac430"/>
<path d="M1088.4 76.7H1093.7" stroke="#d6be27"/>
<path d="M1093.2 76.7H1098.4" stroke="#fbbb3e"/>
<path d="M1097.9 76.7H1103.1" stroke="#fec537"/>
<path d="M1102.6 76.7H1107.9" stroke="#fdcc32"/>
<path d="M1107.4 76.7H1112.6" stroke="#f9d62d"/>
<path d="M1112.1 76.7H1117.3" stroke="#f5e128"/>
<path d="M1116.8 76.7H1122.1" stroke="#f5ea23"/>
<path d="M1121.6 76.7H1126.8" stroke="#f6f21e"/>
<path d="M1126.3 76.7H1131.5" stroke="#f7f41c"/>
<path d="M1131.0 76.7H1136.3" stroke="#f8f61a"/>
<path d="M1135.8 76.7H1141.0" stroke="#f6ef20"/>
<path d="M1140.5 76.7H1145.7" stroke="#f8d92b"/>
<path d="M1145.2 76.7H1150.5" stroke="#fec338"/>
<path d="M1150.0 76.7H1155.2" stroke="#cdc028"/>
<path d="M1154.7 76.7H1159.9" stroke="#7dcc5c"/>
<path d="M1159.4 76.7H1164.7" stroke="#12beb9"/>
<path d="M1164.2 76.7H1169.4" stroke="#23a1e4"/>
<path d="M1168.9 76.7H1174.2" stroke="#2f81fa"/>
<path d="M1173.7 76.7H1178.9" stroke="#317cfc"/>
<path d="M1178.4 76.7H1183.6" stroke="#3678fe"/>
<path d="M1183.1 76.7H1188.4" stroke="#3b73ff"/>
<path d="M1187.9 76.7H1193.1" stroke="#3975fe"/>
<path d="M1192.6 76.7H1197.8" stroke="#347afd"/>
<path d="M1197.3 76.7H1202.6" stroke="#307ffb"/>
<path d="M1202.1 76.7H1207.3" stroke="#2e83f9"/>
<path d="M1206.8 76.7H1212.0" stroke="#2d87f6"/>
<path d="M1211.5 76.7H1216.8" stroke="#2d8cf3"/>
<path d="M1216.3 76.7H1221.5" stroke="#2d8ef1"/>
<path d="M1221.0 76.7H1226.2" stroke="#2b92ee"/>
<path d="M1225.7 76.7H1231.0" stroke="#2896ec"/>
<path d="M1230.5 76.7H1235.7" stroke="#2798ea"/>
<path d="M1235.2 76.7H1240.4" stroke="#259ce7"/>
<path d="M1239.9 76.7H1245.2" stroke="#249fe5"/>
<path d="M1244.7 76.7H1249.9" stroke="#21a3e3"/>
<path d="M1249.4 76.7H1254.6" stroke="#1ea7e1"/>
<path d="M1254.1 76.7H1259.4" stroke="#1caadf"/>
<path d="M1258.9 76.7H1264.1" stroke="#18addb"/>
<path d="M1263.6 76.7H1268.8" stroke="#16afd9"/>
<path d="M1268.3 76.7H1273.6" stroke="#10b2d5"/>
<path d="M1273.1 76.7H1278.3" stroke="#0cb3d3"/>
<path d="M1277.8 76.7H1283.1" stroke="#08b4d0"/>
<path d="M1282.6 76.7H1287.8" stroke="#0cb3d3"/>
<path d="M1287.3 76.7H1292.5" stroke="#10b2d5"/>
<path d="M1292.0 76.7H1297.3" stroke="#16afd9"/>
<path d="M1296.8 76.7H1302.0" stroke="#18addb"/>
<path d="M1301.5 76.7H1306.7" stroke="#1caadf"/>
<path d="M1306.2 76.7H1311.5" stroke="#1da8e0"/>
<path d="M1311.0 76.7H1316.2" stroke="#1ea7e1"/>
<path d="M1315.7 76.7H1320.9" stroke="#21a3e3"/>
<path d="M1320.4 76.7H1325.7" stroke="#249fe5"/>
<path d="M1325.2 76.7H1330.4" stroke="#259ce7"/>
<path d="M1329.9 76.7H1335.1" stroke="#2798ea"/>
<path d="M1334.6 76.7H1339.9" stroke="#2896ec"/>
<path d="M1339.4 76.7H1344.6" stroke="#2b92ee"/>
<path d="M1344.1 76.7H1349.3" stroke="#2d8ef1"/>
<path d="M1348.8 76.7H1354.1" stroke="#2d8af5"/>
<path d="M1353.6 76.7H1358.8" stroke="#2e85f8"/>
<path d="M1358.3 76.7H1363.5" stroke="#307ffb"/>
<path d="M1363.0 76.7H1368.3" stroke="#347afd"/>
<path d="M1367.8 76.7H1377.7" stroke="#317cfc"/>
<path d="M1377.2 76.7H1382.5" stroke="#307ffb"/>
<path d="M1382.0 76.7H1387.2" stroke="#2f81fa"/>
<path d="M1386.7 76.7H1392.0" stroke="#2e85f8"/>
<path d="M1391.5 76.7H1396.7" stroke="#2d8cf3"/>
<path d="M1396.2 76.7H1401.4" stroke="#2b92ee"/>
<path d="M1400.9 76.7H1406.2" stroke="#269ae9"/>
<path d="M1405.7 76.7H1410.9" stroke="#23a1e4"/>
<path d="M1410.4 76.7H1415.6" stroke="#1aacdd"/>
<path d="M1415.1 76.7H1420.4" stroke="#08b4d0"/>
<path d="M1419.9 76.7H1425.1" stroke="#01bac4"/>
<path d="M1424.6 76.7H1434.6" stroke="#17bfb6"/>
<path d="M1434.1 76.7H1439.3" stroke="#0dbdbc"/>
<path d="M1438.8 76.7H1444.0" stroke="#04bbc1"/>
<path d="M1443.5 76.7H1448.8" stroke="#01b8c9"/>
<path d="M1448.3 76.7H1453.5" stroke="#08b4d0"/>
<path d="M1453.0 76.7H1463.0" stroke="#0cb3d3"/>
<path d="M1462.5 76.7H1472.4" stroke="#08b4d0"/>
<path d="M1471.9 76.7H1477.2" stroke="#13b0d7"/>
<path d="M1476.7 76.7H1481.9" stroke="#1da8e0"/>
<path d="M1481.4 76.7H1486.6" stroke="#20a5e2"/>
<path d="M1486.1 76.7H1491.4" stroke="#21a3e3"/>
<path d="M1490.9 76.7H1496.1" stroke="#249fe5"/>
<path d="M1495.6 76.7H1510.3" stroke="#259de6"/>
<path d="M1509.8 76.7H1519.8" stroke="#249fe5"/>
<path d="M1519.3 76.7H1524.5" stroke="#21a3e3"/>
<path d="M1524.0 76.7H1529.3" stroke="#1ea7e1"/>
<path d="M1528.8 76.7H1534.0" stroke="#1caadf"/>
<path d="M1533.5 76.7H1557.7" stroke="#18addb"/>
<path d="M1557.2 76.7H1562.4" stroke="#23a1e4"/>
<path d="M1561.9 76.7H1567.1" stroke="#2896ec"/>
<path d="M1566.6 76.7H1571.9" stroke="#2b92ee"/>
<path d="M1571.4 76.7H1581.3" stroke="#2c90f0"/>
<path d="M1580.8 76.7H1590.8" stroke="#2d8ef1"/>
<path d="M1590.3 76.7H1614.5" stroke="#2d8cf3"/>
<path d="M1614.0 76.7H1619.2" stroke="#2d8af5"/>
<path d="M1618.7 76.7H1624.0" stroke="#2e85f8"/>
<path d="M1623.5 76.7H1628.7" stroke="#2e83f9"/>
<path d="M1628.2 76.7H1633.4" stroke="#2d8af5"/>
<path d="M1632.9 76.7H1638.2" stroke="#2d8ef1"/>
<path d="M1637.7 76.7H1652.4" stroke="#2994ed"/>
<path d="M1651.9 76.7H1657.1" stroke="#2896ec"/>
<path d="M1003.2 105.1H1013.2" stroke="#99c946"/>
<path d="M1012.7 105.1H1027.4" stroke="#94ca4a"/>
<path d="M1026.9 105.1H1032.1" stroke="#8ecb4f"/>
<path d="M1031.6 105.1H1036.8" stroke="#34c79c"/>
<path d="M1036.3 105.1H1041.6" stroke="#02b7cc"/>
<path d="M1041.1 105.1H1046.3" stroke="#269ae9"/>
<path d="M1045.8 105.1H1051.0" stroke="#2d8ef1"/>
<path d="M1050.5 105.1H1055.8" stroke="#2798ea"/>
<path d="M1055.3 105.1H1060.5" stroke="#1aacdd"/>
<path d="M1060.0 105.1H1065.3" stroke="#1cc0b4"/>
<path d="M1064.8 105.1H1070.0" stroke="#39c895"/>
<path d="M1069.5 105.1H1074.7" stroke="#71cd64"/>
<path d="M1074.2 105.1H1079.5" stroke="#83cc57"/>
<path d="M1079.0 105.1H1084.2" stroke="#8ecb4f"/>
<path d="M1083.7 105.1H1088.9" stroke="#99c946"/>
<path d="M1088.4 105.1H1107.9" stroke="#9fc942"/>
<path d="M1107.4 105.1H1112.6" stroke="#a4c83e"/>
<path d="M1112.1 105.1H1117.3" stroke="#c4c22b"/>
<path d="M1116.8 105.1H1122.1" stroke="#e3bc2b"/>
<path d="M1121.6 105.1H1126.8" stroke="#fec338"/>
<path d="M1126.3 105.1H1131.5" stroke="#fec835"/>
<path d="M1131.0 105.1H1141.0" stroke="#fcd12f"/>
<path d="M1140.5 105.1H1145.7" stroke="#fccf30"/>
<path d="M1145.2 105.1H1150.5" stroke="#fec338"/>
<path d="M1150.0 105.1H1155.2" stroke="#d2bf27"/>
<path d="M1154.7 105.1H1159.9" stroke="#77cc60"/>
<path d="M1159.4 105.1H1164.7" stroke="#12beb9"/>
<path d="M1164.2 105.1H1169.4" stroke="#1da8e0"/>
<path d="M1168.9 105.1H1174.2" stroke="#2b92ee"/>
<path d="M1173.7 105.1H1178.9" stroke="#307ffb"/>
<path d="M1178.4 105.1H1183.6" stroke="#3d70ff"/>
<path d="M1183.1 105.1H1188.4" stroke="#4464fd"/>
<path d="M1187.9 105.1H1197.8" stroke="#4660fc"/>
<path d="M1197.3 105.1H1202.6" stroke="#4269fe"/>
<path d="M1202.1 105.1H1207.3" stroke="#3b73ff"/>
<path d="M1206.8 105.1H1212.0" stroke="#307ffb"/>
<path d="M1211.5 105.1H1216.8" stroke="#2d8af5"/>
<path d="M1216.3 105.1H1221.5" stroke="#2d8ef1"/>
<path d="M1221.0 105.1H1226.2" stroke="#2c90f0"/>
<path d="M1225.7 105.1H1231.0" stroke="#2994ed"/>
<path d="M1230.5 105.1H1235.7" stroke="#2896ec"/>
<path d="M1235.2 105.1H1240.4" stroke="#2d87f6"/>
<path d="M1239.9 105.1H1245.2" stroke="#2e83f9"/>
<path d="M1244.7 105.1H1249.9" stroke="#2e85f8"/>
<path d="M1249.4 105.1H1254.6" stroke="#2d87f6"/>
<path d="M1254.1 105.1H1259.4" stroke="#2d8af5"/>
<path d="M1258.9 105.1H1264.1" stroke="#2d8cf3"/>
<path d="M1263.6 105.1H1268.8" stroke="#2c90f0"/>
<path d="M1268.3 105.1H1273.6" stroke="#2994ed"/>
<path d="M1273.1 105.1H1278.3" stroke="#2798ea"/>
<path d="M1277.8 105.1H1292.5" stroke="#259de6"/>
<path d="M1292.0 105.1H1320.9" stroke="#249fe5"/>
<path d="M1320.4 105.1H1330.4" stroke="#259de6"/>
<path d="M1329.9 105.1H1339.9" stroke="#259ce7"/>
<path d="M1339.4 105.1H1349.3" stroke="#269ae9"/>
<path d="M1348.8 105.1H1354.1" stroke="#2798ea"/>
<path d="M1353.6 105.1H1363.5" stroke="#2896ec"/>
<path d="M1363.0 105.1H1368.3" stroke="#2994ed"/>
<path d="M1367.8 105.1H1373.0" stroke="#2b92ee"/>
<path d="M1372.5 105.1H1377.7" stroke="#2c90f0"/>
<path d="M1377.2 105.1H1392.0" stroke="#2d8ef1"/>
<path d="M1391.5 105.1H1396.7" stroke="#2b92ee"/>
<path d="M1396.2 105.1H1401.4" stroke="#2896ec"/>
<path d="M1400.9 105.1H1406.2" stroke="#259ce7"/>
<path d="M1405.7 105.1H1410.9" stroke="#23a1e4"/>
<path d="M1410.4 105.1H1415.6" stroke="#1da8e0"/>
<path d="M1415.1 105.1H1420.4" stroke="#16afd9"/>
<path d="M1419.9 105.1H1425.1" stroke="#04b6ce"/>
<path d="M1424.6 105.1H1429.8" stroke="#07bcbf"/>
<path d="M1429.3 105.1H1434.6" stroke="#1cc0b4"/>
<path d="M1434.1 105.1H1439.3" stroke="#17bfb6"/>
<path d="M1438.8 105.1H1444.0" stroke="#12beb9"/>
<path d="M1443.5 105.1H1448.8" stroke="#07bcbf"/>
<path d="M1448.3 105.1H1453.5" stroke="#00b9c6"/>
<path d="M1453.0 105.1H1458.2" stroke="#08b4d0"/>
<path d="M1457.7 105.1H1463.0" stroke="#10b2d5"/>
<path d="M1462.5 105.1H1467.7" stroke="#16afd9"/>
<path d="M1467.2 105.1H1472.4" stroke="#1aacdd"/>
<path d="M1471.9 105.1H1477.2" stroke="#1da8e0"/>
<path d="M1476.7 105.1H1481.9" stroke="#20a5e2"/>
<path d="M1481.4 105.1H1486.6" stroke="#21a3e3"/>
<path d="M1486.1 105.1H1491.4" stroke="#249fe5"/>
<path d="M1490.9 105.1H1496.1" stroke="#259de6"/>
<path d="M1495.6 105.1H1500.9" stroke="#269ae9"/>
<path d="M1500.4 105.1H1505.6" stroke="#2896ec"/>
<path d="M1505.1 105.1H1510.3" stroke="#2b92ee"/>
<path d="M1509.8 105.1H1515.1" stroke="#2d8ef1"/>
<path d="M1514.6 105.1H1519.8" stroke="#2c90f0"/>
<path d="M1519.3 105.1H1524.5" stroke="#2896ec"/>
<path d="M1524.0 105.1H1529.3" stroke="#259de6"/>
<path d="M1528.8 105.1H1534.0" stroke="#249fe5"/>
<path d="M1533.5 105.1H1538.7" stroke="#23a1e4"/>
<path d="M1538.2 105.1H1543.5" stroke="#20a5e2"/>
<path d="M1543.0 105.1H1548.2" stroke="#1ea7e1"/>
<path d="M1547.7 105.1H1552.9" stroke="#20a5e2"/>
<path d="M1552.4 105.1H1557.7" stroke="#21a3e3"/>
<path d="M1557.2 105.1H1562.4" stroke="#23a1e4"/>
<path d="M1561.9 105.1H1571.9" stroke="#249fe5"/>
<path d="M1571.4 105.1H1581.3" stroke="#259de6"/>
<path d="M1580.8 105.1H1586.1" stroke="#259ce7"/>
<path d="M1585.6 105.1H1657.1" stroke="#269ae9"/>
<path d="M1003.2 133.5H1008.4" stroke="#32c69f"/>
<path d="M1007.9 133.5H1013.2" stroke="#30c5a2"/>
<path d="M1012.7 133.5H1017.9" stroke="#2dc4a5"/>
<path d="M1017.4 133.5H1027.4" stroke="#2bc3a8"/>
<path d="M1026.9 133.5H1032.1" stroke="#28c2ab"/>
<path d="M1031.6 133.5H1036.8" stroke="#12beb9"/>
<path d="M1036.3 133.5H1041.6" stroke="#01b8c9"/>
<path d="M1041.1 133.5H1046.3" stroke="#0cb3d3"/>
<path d="M1045.8 133.5H1051.0" stroke="#18addb"/>
<path d="M1050.5 133.5H1055.8" stroke="#13b0d7"/>
<path d="M1055.3 133.5H1060.5" stroke="#02b7cc"/>
<path d="M1060.0 133.5H1065.3" stroke="#32c69f"/>
<path d="M1064.8 133.5H1070.0" stroke="#66cd6d"/>
<path d="M1069.5 133.5H1074.7" stroke="#9fc942"/>
<path d="M1074.2 133.5H1084.2" stroke="#b4c533"/>
<path d="M1083.7 133.5H1088.9" stroke="#a4c83e"/>
<path d="M1088.4 133.5H1093.7" stroke="#77cc60"/>
<path d="M1093.2 133.5H1098.4" stroke="#43cb8a"/>
<path d="M1097.9 133.5H1103.1" stroke="#28c2ab"/>
<path d="M1102.6 133.5H1107.9" stroke="#00b9c6"/>
<path d="M1107.4 133.5H1112.6" stroke="#04b6ce"/>
<path d="M1112.1 133.5H1117.3" stroke="#12beb9"/>
<path d="M1116.8 133.5H1122.1" stroke="#43cb8a"/>
<path d="M1121.6 133.5H1126.8" stroke="#afc636"/>
<path d="M1126.3 133.5H1131.5" stroke="#fbbb3e"/>
<path d="M1131.0 133.5H1136.3" stroke="#fec537"/>
<path d="M1135.8 133.5H1141.0" stroke="#fdcc32"/>
<path d="M1140.5 133.5H1145.7" stroke="#fec835"/>
<path d="M1145.2 133.5H1150.5" stroke="#fec338"/>
<path d="M1150.0 133.5H1155.2" stroke="#e3bc2b"/>
<path d="M1154.7 133.5H1159.9" stroke="#8ecb4f"/>
<path d="M1159.4 133.5H1164.7" stroke="#2dc4a5"/>
<path d="M1164.2 133.5H1169.4" stroke="#0cb3d3"/>
<path d="M1168.9 133.5H1174.2" stroke="#259ce7"/>
<path d="M1173.7 133.5H1178.9" stroke="#2e85f8"/>
<path d="M1178.4 133.5H1183.6" stroke="#3f6eff"/>
<path d="M1183.1 133.5H1188.4" stroke="#465efb"/>
<path d="M1187.9 133.5H1193.1" stroke="#4855f6"/>
<path d="M1192.6 133.5H1197.8" stroke="#4562fc"/>
<path d="M1197.3 133.5H1202.6" stroke="#3b73ff"/>
<path d="M1202.1 133.5H1207.3" stroke="#2f81fa"/>
<path d="M1206.8 133.5H1212.0" stroke="#2e85f8"/>
<path d="M1211.5 133.5H1216.8" stroke="#2d87f6"/>
<path d="M1216.3 133.5H1221.5" stroke="#2d8af5"/>
<path d="M1221.0 133.5H1226.2" stroke="#2d8cf3"/>
<path d="M1225.7 133.5H1231.0" stroke="#2d8ef1"/>
<path d="M1230.5 133.5H1240.4" stroke="#2c90f0"/>
<path d="M1239.9 133.5H1245.2" stroke="#2b92ee"/>
<path d="M1244.7 133.5H1249.9" stroke="#2994ed"/>
<path d="M1249.4 133.5H1254.6" stroke="#2896ec"/>
<path d="M1254.1 133.5H1259.4" stroke="#2798ea"/>
<path d="M1258.9 133.5H1264.1" stroke="#269ae9"/>
<path d="M1263.6 133.5H1268.8" stroke="#259ce7"/>
<path d="M1268.3 133.5H1278.3" stroke="#259de6"/>
<path d="M1277.8 133.5H1292.5" stroke="#249fe5"/>
<path d="M1292.0 133.5H1311.5" stroke="#259de6"/>
<path d="M1311.0 133.5H1316.2" stroke="#259ce7"/>
<path d="M1315.7 133.5H1320.9" stroke="#269ae9"/>
<path d="M1320.4 133.5H1330.4" stroke="#2798ea"/>
<path d="M1329.9 133.5H1335.1" stroke="#2896ec"/>
<path d="M1334.6 133.5H1344.6" stroke="#2798ea"/>
<path d="M1344.1 133.5H1358.8" stroke="#269ae9"/>
<path d="M1358.3 133.5H1373.0" stroke="#259ce7"/>
<path d="M1372.5 133.5H1377.7" stroke="#269ae9"/>
<path d="M1377.2 133.5H1382.5" stroke="#2798ea"/>
<path d="M1382.0 133.5H1387.2" stroke="#2b92ee"/>
<path d="M1386.7 133.5H1392.0" stroke="#2e85f8"/>
<path d="M1391.5 133.5H1396.7" stroke="#347afd"/>
<path d="M1396.2 133.5H1401.4" stroke="#3678fe"/>
<path d="M1400.9 133.5H1406.2" stroke="#2e83f9"/>
<path d="M1405.7 133.5H1410.9" stroke="#2b92ee"/>
<path d="M1410.4 133.5H1415.6" stroke="#249fe5"/>
<path d="M1415.1 133.5H1420.4" stroke="#1aacdd"/>
<path d="M1419.9 133.5H1425.1" stroke="#02b7cc"/>
<path d="M1424.6 133.5H1429.8" stroke="#0dbdbc"/>
<path d="M1429.3 133.5H1434.6" stroke="#28c2ab"/>
<path d="M1434.1 133.5H1439.3" stroke="#1cc0b4"/>
<path d="M1438.8 133.5H1444.0" stroke="#12beb9"/>
<path d="M1443.5 133.5H1448.8" stroke="#07bcbf"/>
<path d="M1448.3 133.5H1453.5" stroke="#00b9c6"/>
<path d="M1453.0 133.5H1458.2" stroke="#08b4d0"/>
<path d="M1457.7 133.5H1463.0" stroke="#13b0d7"/>
<path d="M1462.5 133.5H1467.7" stroke="#18addb"/>
<path d="M1467.2 133.5H1472.4" stroke="#1da8e0"/>
<path d="M1471.9 133.5H1477.2" stroke="#2b92ee"/>
<path d="M1476.7 133.5H1481.9" stroke="#3975fe"/>
<path d="M1481.4 133.5H1486.6" stroke="#4562fc"/>
<path d="M1486.1 133.5H1491.4" stroke="#475bfa"/>
<path d="M1490.9 133.5H1500.9" stroke="#4759f9"/>
<path d="M1500.4 133.5H1505.6" stroke="#4660fc"/>
<path d="M1505.1 133.5H1510.3" stroke="#4269fe"/>
<path d="M1509.8 133.5H1515.1" stroke="#3b73ff"/>
<path d="M1514.6 133.5H1519.8" stroke="#317cfc"/>
<path d="M1519.3 133.5H1524.5" stroke="#2e85f8"/>
<path d="M1524.0 133.5H1529.3" stroke="#2d8cf3"/>
<path d="M1528.8 133.5H1534.0" stroke="#2994ed"/>
<path d="M1533.5 133.5H1543.5" stroke="#269ae9"/>
<path d="M1543.0 133.5H1548.2" stroke="#259ce7"/>
<path d="M1547.7 133.5H1557.7" stroke="#259de6"/>
<path d="M1557.2 133.5H1567.1" stroke="#249fe5"/>
<path d="M1566.6 133.5H1571.9" stroke="#259de6"/>
<path d="M1571.4 133.5H1581.3" stroke="#259ce7"/>
<path d="M1580.8 133.5H1586.1" stroke="#269ae9"/>
<path d="M1585.6 133.5H1590.8" stroke="#2798ea"/>
<path d="M1590.3 133.5H1638.2" stroke="#2896ec"/>
<path d="M1637.7 133.5H1652.4" stroke="#2798ea"/>
<path d="M1651.9 133.5H1657.1" stroke="#269ae9"/>
<path d="M1003.2 161.8H1008.4" stroke="#10b2d5"/>
<path d="M1007.9 161.8H1013.2" stroke="#18addb"/>
<path d="M1012.7 161.8H1017.9" stroke="#1caadf"/>
<path d="M1017.4 161.8H1022.6" stroke="#1ea7e1"/>
<path d="M1022.1 161.8H1032.1" stroke="#1da8e0"/>
<path d="M1031.6 161.8H1036.8" stroke="#1caadf"/>
<path d="M1036.3 161.8H1046.3" stroke="#1aacdd"/>
<path d="M1045.8 161.8H1051.0" stroke="#18addb"/>
<path d="M1050.5 161.8H1055.8" stroke="#16afd9"/>
<path d="M1055.3 161.8H1060.5" stroke="#13b0d7"/>
<path d="M1060.0 161.8H1065.3" stroke="#10b2d5"/>
<path d="M1064.8 161.8H1084.2" stroke="#0cb3d3"/>
<path d="M1083.7 161.8H1088.9" stroke="#10b2d5"/>
<path d="M1088.4 161.8H1093.7" stroke="#1aacdd"/>
<path d="M1093.2 161.8H1098.4" stroke="#1ea7e1"/>
<path d="M1097.9 161.8H1112.6" stroke="#249fe5"/>
<path d="M1112.1 161.8H1117.3" stroke="#21a3e3"/>
<path d="M1116.8 161.8H1122.1" stroke="#1caadf"/>
<path d="M1121.6 161.8H1126.8" stroke="#0cb3d3"/>
<path d="M1126.3 161.8H1131.5" stroke="#07bcbf"/>
<path d="M1131.0 161.8H1136.3" stroke="#21c1b1"/>
<path d="M1135.8 161.8H1141.0" stroke="#25c2ae"/>
<path d="M1140.5 161.8H1145.7" stroke="#28c2ab"/>
<path d="M1145.2 161.8H1150.5" stroke="#12beb9"/>
<path d="M1150.0 161.8H1155.2" stroke="#01bac4"/>
<path d="M1154.7 161.8H1159.9" stroke="#04b6ce"/>
<path d="M1159.4 161.8H1164.7" stroke="#1aacdd"/>
<path d="M1164.2 161.8H1169.4" stroke="#259de6"/>
<path d="M1168.9 161.8H1174.2" stroke="#2d8ef1"/>
<path d="M1173.7 161.8H1178.9" stroke="#2f81fa"/>
<path d="M1178.4 161.8H1183.6" stroke="#3975fe"/>
<path d="M1183.1 161.8H1188.4" stroke="#4269fe"/>
<path d="M1187.9 161.8H1202.6" stroke="#4367fd"/>
<path d="M1202.1 161.8H1207.3" stroke="#4269fe"/>
<path d="M1206.8 161.8H1212.0" stroke="#3f6eff"/>
<path d="M1211.5 161.8H1216.8" stroke="#3d70ff"/>
<path d="M1216.3 161.8H1221.5" stroke="#3975fe"/>
<path d="M1221.0 161.8H1226.2" stroke="#3678fe"/>
<path d="M1225.7 161.8H1231.0" stroke="#347afd"/>
<path d="M1230.5 161.8H1235.7" stroke="#317cfc"/>
<path d="M1235.2 161.8H1240.4" stroke="#307ffb"/>
<path d="M1239.9 161.8H1245.2" stroke="#2f81fa"/>
<path d="M1244.7 161.8H1249.9" stroke="#2e83f9"/>
<path d="M1249.4 161.8H1254.6" stroke="#2e85f8"/>
<path d="M1254.1 161.8H1259.4" stroke="#2d8af5"/>
<path d="M1258.9 161.8H1264.1" stroke="#2d8cf3"/>
<path d="M1263.6 161.8H1268.8" stroke="#2c90f0"/>
<path d="M1268.3 161.8H1273.6" stroke="#2896ec"/>
<path d="M1273.1 161.8H1278.3" stroke="#2d8ef1"/>
<path d="M1277.8 161.8H1287.8" stroke="#2e85f8"/>
<path d="M1287.3 161.8H1302.0" stroke="#2e83f9"/>
<path d="M1301.5 161.8H1316.2" stroke="#2f81fa"/>
<path d="M1315.7 161.8H1335.1" stroke="#2e83f9"/>
<path d="M1334.6 161.8H1339.9" stroke="#2e85f8"/>
<path d="M1339.4 161.8H1349.3" stroke="#2d87f6"/>
<path d="M1348.8 161.8H1354.1" stroke="#2d8af5"/>
<path d="M1353.6 161.8H1363.5" stroke="#2d8cf3"/>
<path d="M1363.0 161.8H1368.3" stroke="#2d87f6"/>
<path d="M1367.8 161.8H1373.0" stroke="#2e85f8"/>
<path d="M1372.5 161.8H1377.7" stroke="#2f81fa"/>
<path d="M1377.2 161.8H1382.5" stroke="#307ffb"/>
<path d="M1382.0 161.8H1387.2" stroke="#317cfc"/>
<path d="M1386.7 161.8H1392.0" stroke="#347afd"/>
<path d="M1391.5 161.8H1396.7" stroke="#317cfc"/>
<path d="M1396.2 161.8H1401.4" stroke="#307ffb"/>
<path d="M1400.9 161.8H1406.2" stroke="#2f81fa"/>
<path d="M1405.7 161.8H1415.6" stroke="#2e83f9"/>
<path d="M1415.1 161.8H1420.4" stroke="#2d87f6"/>
<path d="M1419.9 161.8H1425.1" stroke="#2d8af5"/>
<path d="M1424.6 161.8H1429.8" stroke="#2d8cf3"/>
<path d="M1429.3 161.8H1434.6" stroke="#2c90f0"/>
<path d="M1434.1 161.8H1439.3" stroke="#2b92ee"/>
<path d="M1438.8 161.8H1444.0" stroke="#2896ec"/>
<path d="M1443.5 161.8H1448.8" stroke="#2994ed"/>
<path d="M1448.3 161.8H1453.5" stroke="#2b92ee"/>
<path d="M1453.0 161.8H1458.2" stroke="#2c90f0"/>
<path d="M1457.7 161.8H1463.0" stroke="#2d8cf3"/>
<path d="M1462.5 161.8H1467.7" stroke="#2e85f8"/>
<path d="M1467.2 161.8H1472.4" stroke="#317cfc"/>
<path d="M1471.9 161.8H1477.2" stroke="#3b73ff"/>
<path d="M1476.7 161.8H1481.9" stroke="#4367fd"/>
<path d="M1481.4 161.8H1486.6" stroke="#4759f9"/>
<path d="M1486.1 161.8H1491.4" stroke="#484cef"/>
<path d="M1490.9 161.8H1496.1" stroke="#4743e7"/>
<path d="M1495.6 161.8H1500.9" stroke="#463adc"/>
<path d="M1500.4 161.8H1505.6" stroke="#4536d5"/>
<path d="M1505.1 161.8H1510.3" stroke="#4435d1"/>
<path d="M1509.8 161.8H1515.1" stroke="#4433cc"/>
<path d="M1514.6 161.8H1519.8" stroke="#4435d1"/>
<path d="M1519.3 161.8H1524.5" stroke="#463adc"/>
<path d="M1524.0 161.8H1529.3" stroke="#4741e5"/>
<path d="M1528.8 161.8H1534.0" stroke="#484ef1"/>
<path d="M1533.5 161.8H1538.7" stroke="#475bfa"/>
<path d="M1538.2 161.8H1543.5" stroke="#4269fe"/>
<path d="M1543.0 161.8H1548.2" stroke="#347afd"/>
<path d="M1547.7 161.8H1552.9" stroke="#307ffb"/>
<path d="M1552.4 161.8H1557.7" stroke="#2e83f9"/>
<path d="M1557.2 161.8H1562.4" stroke="#2d87f6"/>
<path d="M1561.9 161.8H1567.1" stroke="#2d8cf3"/>
<path d="M1566.6 161.8H1571.9" stroke="#2d8ef1"/>
<path d="M1571.4 161.8H1576.6" stroke="#2c90f0"/>
<path d="M1576.1 161.8H1581.3" stroke="#2b92ee"/>
<path d="M1580.8 161.8H1590.8" stroke="#2994ed"/>
<path d="M1590.3 161.8H1600.3" stroke="#2896ec"/>
<path d="M1599.8 161.8H1624.0" stroke="#2798ea"/>
<path d="M1623.5 161.8H1657.1" stroke="#269ae9"/>
<path d="M1003.2 190.2H1008.4" stroke="#2798ea"/>
<path d="M1007.9 190.2H1013.2" stroke="#2c90f0"/>
<path d="M1012.7 190.2H1017.9" stroke="#2d87f6"/>
<path d="M1017.4 190.2H1027.4" stroke="#2e83f9"/>
<path d="M1026.9 190.2H1032.1" stroke="#2f81fa"/>
<path d="M1031.6 190.2H1041.6" stroke="#307ffb"/>
<path d="M1041.1 190.2H1046.3" stroke="#2e85f8"/>
<path d="M1045.8 190.2H1051.0" stroke="#2d8cf3"/>
<path d="M1050.5 190.2H1055.8" stroke="#2b92ee"/>
<path d="M1055.3 190.2H1060.5" stroke="#2798ea"/>
<path d="M1060.0 190.2H1065.3" stroke="#21a3e3"/>
<path d="M1064.8 190.2H1070.0" stroke="#18addb"/>
<path d="M1069.5 190.2H1074.7" stroke="#02b7cc"/>
<path d="M1074.2 190.2H1079.5" stroke="#0dbdbc"/>
<path d="M1079.0 190.2H1117.3" stroke="#1cc0b4"/>
<path d="M1116.8 190.2H1122.1" stroke="#21c1b1"/>
<path d="M1121.6 190.2H1126.8" stroke="#25c2ae"/>
<path d="M1126.3 190.2H1141.0" stroke="#28c2ab"/>
<path d="M1140.5 190.2H1145.7" stroke="#21c1b1"/>
<path d="M1145.2 190.2H1150.5" stroke="#12beb9"/>
<path d="M1150.0 190.2H1155.2" stroke="#00b9c6"/>
<path d="M1154.7 190.2H1159.9" stroke="#10b2d5"/>
<path d="M1159.4 190.2H1164.7" stroke="#1caadf"/>
<path d="M1164.2 190.2H1169.4" stroke="#21a3e3"/>
<path d="M1168.9 190.2H1174.2" stroke="#259ce7"/>
<path d="M1173.7 190.2H1178.9" stroke="#2896ec"/>
<path d="M1178.4 190.2H1183.6" stroke="#2c90f0"/>
<path d="M1183.1 190.2H1188.4" stroke="#2d8cf3"/>
<path d="M1187.9 190.2H1193.1" stroke="#2d87f6"/>
<path d="M1192.6 190.2H1197.8" stroke="#2e83f9"/>
<path d="M1197.3 190.2H1202.6" stroke="#2f81fa"/>
<path d="M1202.1 190.2H1212.0" stroke="#307ffb"/>
<path d="M1211.5 190.2H1221.5" stroke="#317cfc"/>
<path d="M1221.0 190.2H1226.2" stroke="#347afd"/>
<path d="M1225.7 190.2H1235.7" stroke="#317cfc"/>
<path d="M1235.2 190.2H1240.4" stroke="#307ffb"/>
<path d="M1239.9 190.2H1245.2" stroke="#2f81fa"/>
<path d="M1244.7 190.2H1249.9" stroke="#2e83f9"/>
<path d="M1249.4 190.2H1254.6" stroke="#2e85f8"/>
<path d="M1254.1 190.2H1264.1" stroke="#2d87f6"/>
<path d="M1263.6 190.2H1268.8" stroke="#2d8af5"/>
<path d="M1268.3 190.2H1273.6" stroke="#2d8cf3"/>
<path d="M1273.1 190.2H1278.3" stroke="#2d8af5"/>
<path d="M1277.8 190.2H1283.1" stroke="#2d87f6"/>
<path d="M1282.6 190.2H1287.8" stroke="#2e83f9"/>
<path d="M1287.3 190.2H1292.5" stroke="#3678fe"/>
<path d="M1292.0 190.2H1297.3" stroke="#3b73ff"/>
<path d="M1296.8 190.2H1302.0" stroke="#3975fe"/>
<path d="M1301.5 190.2H1306.7" stroke="#3678fe"/>
<path d="M1306.2 190.2H1311.5" stroke="#347afd"/>
<path d="M1311.0 190.2H1316.2" stroke="#317cfc"/>
<path d="M1315.7 190.2H1320.9" stroke="#2f81fa"/>
<path d="M1320.4 190.2H1325.7" stroke="#2e83f9"/>
<path d="M1325.2 190.2H1330.4" stroke="#2e85f8"/>
<path d="M1329.9 190.2H1335.1" stroke="#2d8af5"/>
<path d="M1334.6 190.2H1344.6" stroke="#2d8cf3"/>
<path d="M1344.1 190.2H1349.3" stroke="#2d8ef1"/>
<path d="M1348.8 190.2H1354.1" stroke="#2c90f0"/>
<path d="M1353.6 190.2H1363.5" stroke="#2b92ee"/>
<path d="M1363.0 190.2H1368.3" stroke="#2c90f0"/>
<path d="M1367.8 190.2H1373.0" stroke="#2d8ef1"/>
<path d="M1372.5 190.2H1377.7" stroke="#2d8cf3"/>
<path d="M1377.2 190.2H1382.5" stroke="#2d8af5"/>
<path d="M1382.0 190.2H1396.7" stroke="#2e85f8"/>
<path d="M1396.2 190.2H1406.2" stroke="#2d87f6"/>
<path d="M1405.7 190.2H1415.6" stroke="#2d8af5"/>
<path d="M1415.1 190.2H1463.0" stroke="#2d8cf3"/>
<path d="M1462.5 190.2H1467.7" stroke="#2d87f6"/>
<path d="M1467.2 190.2H1472.4" stroke="#2e83f9"/>
<path d="M1471.9 190.2H1477.2" stroke="#317cfc"/>
<path d="M1476.7 190.2H1481.9" stroke="#3d70ff"/>
<path d="M1481.4 190.2H1486.6" stroke="#4660fc"/>
<path d="M1486.1 190.2H1491.4" stroke="#4853f4"/>
<path d="M1490.9 190.2H1496.1" stroke="#4847ec"/>
<path d="M1495.6 190.2H1500.9" stroke="#463cdf"/>
<path d="M1500.4 190.2H1505.6" stroke="#4538d8"/>
<path d="M1505.1 190.2H1510.3" stroke="#4536d5"/>
<path d="M1509.8 190.2H1515.1" stroke="#4433cc"/>
<path d="M1514.6 190.2H1519.8" stroke="#4435d1"/>
<path d="M1519.3 190.2H1524.5" stroke="#4536d5"/>
<path d="M1524.0 190.2H1529.3" stroke="#463cdf"/>
<path d="M1528.8 190.2H1534.0" stroke="#4847ec"/>
<path d="M1533.5 190.2H1538.7" stroke="#4853f4"/>
<path d="M1538.2 190.2H1543.5" stroke="#4660fc"/>
<path d="M1543.0 190.2H1548.2" stroke="#3f6eff"/>
<path d="M1547.7 190.2H1552.9" stroke="#3678fe"/>
<path d="M1552.4 190.2H1557.7" stroke="#307ffb"/>
<path d="M1557.2 190.2H1562.4" stroke="#2e85f8"/>
<path d="M1561.9 190.2H1567.1" stroke="#2d8cf3"/>
<path d="M1566.6 190.2H1571.9" stroke="#2d8ef1"/>
<path d="M1571.4 190.2H1576.6" stroke="#2c90f0"/>
<path d="M1576.1 190.2H1581.3" stroke="#2b92ee"/>
<path d="M1580.8 190.2H1590.8" stroke="#2994ed"/>
<path d="M1590.3 190.2H1605.0" stroke="#2896ec"/>
<path d="M1604.5 190.2H1642.9" stroke="#2798ea"/>
<path d="M1642.4 190.2H1657.1" stroke="#269ae9"/>
<path d="M1003.2 218.5H1008.4" stroke="#1cc0b4"/>
<path d="M1007.9 218.5H1013.2" stroke="#12beb9"/>
<path d="M1012.7 218.5H1017.9" stroke="#0dbdbc"/>
<path d="M1017.4 218.5H1022.6" stroke="#07bcbf"/>
<path d="M1022.1 218.5H1027.4" stroke="#04b6ce"/>
<path d="M1026.9 218.5H1032.1" stroke="#1da8e0"/>
<path d="M1031.6 218.5H1041.6" stroke="#3f6eff"/>
<path d="M1041.1 218.5H1046.3" stroke="#249fe5"/>
<path d="M1045.8 218.5H1051.0" stroke="#00b9c6"/>
<path d="M1050.5 218.5H1055.8" stroke="#2dc4a5"/>
<path d="M1055.3 218.5H1060.5" stroke="#7dcc5c"/>
<path d="M1060.0 218.5H1065.3" stroke="#d2bf27"/>
<path d="M1064.8 218.5H1070.0" stroke="#febe3c"/>
<path d="M1069.5 218.5H1074.7" stroke="#fec835"/>
<path d="M1074.2 218.5H1079.5" stroke="#f9d62d"/>
<path d="M1079.0 218.5H1084.2" stroke="#f5e825"/>
<path d="M1083.7 218.5H1088.9" stroke="#f6ef20"/>
<path d="M1088.4 218.5H1093.7" stroke="#f8f61a"/>
<path d="M1093.2 218.5H1098.4" stroke="#f9fb15"/>
<path d="M1097.9 218.5H1103.1" stroke="#f8f917"/>
<path d="M1102.6 218.5H1107.9" stroke="#f8f61a"/>
<path d="M1107.4 218.5H1112.6" stroke="#f7f41c"/>
<path d="M1112.1 218.5H1117.3" stroke="#f6f21e"/>
<path d="M1116.8 218.5H1122.1" stroke="#f6ef20"/>
<path d="M1121.6 218.5H1126.8" stroke="#f5ea23"/>
<path d="M1126.3 218.5H1131.5" stroke="#f5e327"/>
<path d="M1131.0 218.5H1136.3" stroke="#fdcc32"/>
<path d="M1135.8 218.5H1141.0" stroke="#fec338"/>
<path d="M1140.5 218.5H1145.7" stroke="#e3bc2b"/>
<path d="M1145.2 218.5H1150.5" stroke="#aac73a"/>
<path d="M1150.0 218.5H1155.2" stroke="#5ccc76"/>
<path d="M1154.7 218.5H1159.9" stroke="#30c5a2"/>
<path d="M1159.4 218.5H1164.7" stroke="#25c2ae"/>
<path d="M1164.2 218.5H1169.4" stroke="#17bfb6"/>
<path d="M1168.9 218.5H1174.2" stroke="#0dbdbc"/>
<path d="M1173.7 218.5H1178.9" stroke="#04bbc1"/>
<path d="M1178.4 218.5H1183.6" stroke="#01bac4"/>
<path d="M1183.1 218.5H1188.4" stroke="#01b8c9"/>
<path d="M1187.9 218.5H1193.1" stroke="#04b6ce"/>
<path d="M1192.6 218.5H1197.8" stroke="#0cb3d3"/>
<path d="M1197.3 218.5H1207.3" stroke="#10b2d5"/>
<path d="M1206.8 218.5H1212.0" stroke="#13b0d7"/>
<path d="M1211.5 218.5H1221.5" stroke="#16afd9"/>
<path d="M1221.0 218.5H1231.0" stroke="#18addb"/>
<path d="M1230.5 218.5H1240.4" stroke="#1aacdd"/>
<path d="M1239.9 218.5H1249.9" stroke="#1caadf"/>
<path d="M1249.4 218.5H1259.4" stroke="#1da8e0"/>
<path d="M1258.9 218.5H1292.5" stroke="#1ea7e1"/>
<path d="M1292.0 218.5H1297.3" stroke="#1da8e0"/>
<path d="M1296.8 218.5H1302.0" stroke="#1caadf"/>
<path d="M1301.5 218.5H1306.7" stroke="#1aacdd"/>
<path d="M1306.2 218.5H1311.5" stroke="#18addb"/>
<path d="M1311.0 218.5H1316.2" stroke="#0cb3d3"/>
<path d="M1315.7 218.5H1320.9" stroke="#02b7cc"/>
<path d="M1320.4 218.5H1325.7" stroke="#01bac4"/>
<path d="M1325.2 218.5H1330.4" stroke="#07bcbf"/>
<path d="M1329.9 218.5H1335.1" stroke="#17bfb6"/>
<path d="M1334.6 218.5H1339.9" stroke="#1cc0b4"/>
<path d="M1339.4 218.5H1344.6" stroke="#25c2ae"/>
<path d="M1344.1 218.5H1349.3" stroke="#2bc3a8"/>
<path d="M1348.8 218.5H1354.1" stroke="#30c5a2"/>
<path d="M1353.6 218.5H1358.8" stroke="#2dc4a5"/>
<path d="M1358.3 218.5H1363.5" stroke="#2bc3a8"/>
<path d="M1363.0 218.5H1368.3" stroke="#28c2ab"/>
<path d="M1367.8 218.5H1373.0" stroke="#25c2ae"/>
<path d="M1372.5 218.5H1377.7" stroke="#17bfb6"/>
<path d="M1377.2 218.5H1382.5" stroke="#0dbdbc"/>
<path d="M1382.0 218.5H1387.2" stroke="#01bac4"/>
<path d="M1386.7 218.5H1392.0" stroke="#01b8c9"/>
<path d="M1391.5 218.5H1396.7" stroke="#04b6ce"/>
<path d="M1396.2 218.5H1401.4" stroke="#10b2d5"/>
<path d="M1400.9 218.5H1406.2" stroke="#16afd9"/>
<path d="M1405.7 218.5H1410.9" stroke="#1caadf"/>
<path d="M1410.4 218.5H1415.6" stroke="#1ea7e1"/>
<path d="M1415.1 218.5H1420.4" stroke="#23a1e4"/>
<path d="M1419.9 218.5H1425.1" stroke="#20a5e2"/>
<path d="M1424.6 218.5H1429.8" stroke="#1aacdd"/>
<path d="M1429.3 218.5H1434.6" stroke="#13b0d7"/>
<path d="M1434.1 218.5H1439.3" stroke="#0cb3d3"/>
<path d="M1438.8 218.5H1444.0" stroke="#08b4d0"/>
<path d="M1443.5 218.5H1448.8" stroke="#04b6ce"/>
<path d="M1448.3 218.5H1453.5" stroke="#02b7cc"/>
<path d="M1453.0 218.5H1458.2" stroke="#08b4d0"/>
<path d="M1457.7 218.5H1463.0" stroke="#10b2d5"/>
<path d="M1462.5 218.5H1467.7" stroke="#18addb"/>
<path d="M1467.2 218.5H1472.4" stroke="#1da8e0"/>
<path d="M1471.9 218.5H1477.2" stroke="#259ce7"/>
<path d="M1476.7 218.5H1481.9" stroke="#2d8ef1"/>
<path d="M1481.4 218.5H1486.6" stroke="#2d8af5"/>
<path d="M1486.1 218.5H1491.4" stroke="#2e85f8"/>
<path d="M1490.9 218.5H1496.1" stroke="#2f81fa"/>
<path d="M1495.6 218.5H1500.9" stroke="#307ffb"/>
<path d="M1500.4 218.5H1505.6" stroke="#3678fe"/>
<path d="M1505.1 218.5H1510.3" stroke="#3d70ff"/>
<path d="M1509.8 218.5H1515.1" stroke="#4269fe"/>
<path d="M1514.6 218.5H1519.8" stroke="#4464fd"/>
<path d="M1519.3 218.5H1524.5" stroke="#4660fc"/>
<path d="M1524.0 218.5H1529.3" stroke="#475bfa"/>
<path d="M1528.8 218.5H1534.0" stroke="#4660fc"/>
<path d="M1533.5 218.5H1538.7" stroke="#4464fd"/>
<path d="M1538.2 218.5H1543.5" stroke="#4269fe"/>
<path d="M1543.0 218.5H1548.2" stroke="#347afd"/>
<path d="M1547.7 218.5H1552.9" stroke="#2d8af5"/>
<path d="M1552.4 218.5H1557.7" stroke="#2c90f0"/>
<path d="M1557.2 218.5H1562.4" stroke="#2896ec"/>
<path d="M1561.9 218.5H1567.1" stroke="#259ce7"/>
<path d="M1566.6 218.5H1571.9" stroke="#23a1e4"/>
<path d="M1571.4 218.5H1576.6" stroke="#1ea7e1"/>
<path d="M1576.1 218.5H1581.3" stroke="#1da8e0"/>
<path d="M1580.8 218.5H1590.8" stroke="#1caadf"/>
<path d="M1590.3 218.5H1605.0" stroke="#1aacdd"/>
<path d="M1604.5 218.5H1609.8" stroke="#1caadf"/>
<path d="M1609.3 218.5H1614.5" stroke="#1ea7e1"/>
<path d="M1614.0 218.5H1619.2" stroke="#21a3e3"/>
<path d="M1618.7 218.5H1624.0" stroke="#259de6"/>
<path d="M1623.5 218.5H1628.7" stroke="#2798ea"/>
<path d="M1628.2 218.5H1633.4" stroke="#2994ed"/>
<path d="M1632.9 218.5H1638.2" stroke="#2896ec"/>
<path d="M1637.7 218.5H1642.9" stroke="#2798ea"/>
<path d="M1642.4 218.5H1657.1" stroke="#269ae9"/>
<path d="M1003.2 246.9H1008.4" stroke="#259ce7"/>
<path d="M1007.9 246.9H1013.2" stroke="#2798ea"/>
<path d="M1012.7 246.9H1017.9" stroke="#2896ec"/>
<path d="M1017.4 246.9H1022.6" stroke="#2b92ee"/>
<path d="M1022.1 246.9H1027.4" stroke="#2d8cf3"/>
<path d="M1026.9 246.9H1032.1" stroke="#2e85f8"/>
<path d="M1031.6 246.9H1036.8" stroke="#2f81fa"/>
<path d="M1036.3 246.9H1041.6" stroke="#347afd"/>
<path d="M1041.1 246.9H1046.3" stroke="#2f81fa"/>
<path d="M1045.8 246.9H1051.0" stroke="#2e85f8"/>
<path d="M1050.5 246.9H1055.8" stroke="#2d8cf3"/>
<path d="M1055.3 246.9H1060.5" stroke="#259ce7"/>
<path d="M1060.0 246.9H1065.3" stroke="#18addb"/>
<path d="M1064.8 246.9H1070.0" stroke="#04bbc1"/>
<path d="M1069.5 246.9H1074.7" stroke="#25c2ae"/>
<path d="M1074.2 246.9H1079.5" stroke="#36c898"/>
<path d="M1079.0 246.9H1084.2" stroke="#48cb86"/>
<path d="M1083.7 246.9H1088.9" stroke="#5ccc76"/>
<path d="M1088.4 246.9H1112.6" stroke="#6bcd69"/>
<path d="M1112.1 246.9H1117.3" stroke="#66cd6d"/>
<path d="M1116.8 246.9H1122.1" stroke="#61cd72"/>
<path d="M1121.6 246.9H1126.8" stroke="#5ccc76"/>
<path d="M1126.3 246.9H1131.5" stroke="#52cc7e"/>
<path d="M1131.0 246.9H1136.3" stroke="#3cc991"/>
<path d="M1135.8 246.9H1141.0" stroke="#2dc4a5"/>
<path d="M1140.5 246.9H1145.7" stroke="#07bcbf"/>
<path d="M1145.2 246.9H1150.5" stroke="#10b2d5"/>
<path d="M1150.0 246.9H1155.2" stroke="#23a1e4"/>
<path d="M1154.7 246.9H1159.9" stroke="#269ae9"/>
<path d="M1159.4 246.9H1164.7" stroke="#2994ed"/>
<path d="M1164.2 246.9H1178.9" stroke="#2d8ef1"/>
<path d="M1178.4 246.9H1183.6" stroke="#2c90f0"/>
<path d="M1183.1 246.9H1188.4" stroke="#2b92ee"/>
<path d="M1187.9 246.9H1193.1" stroke="#2994ed"/>
<path d="M1192.6 246.9H1197.8" stroke="#2798ea"/>
<path d="M1197.3 246.9H1202.6" stroke="#259ce7"/>
<path d="M1202.1 246.9H1207.3" stroke="#249fe5"/>
<path d="M1206.8 246.9H1212.0" stroke="#259ce7"/>
<path d="M1211.5 246.9H1216.8" stroke="#2798ea"/>
<path d="M1216.3 246.9H1221.5" stroke="#2b92ee"/>
<path d="M1221.0 246.9H1226.2" stroke="#2d8ef1"/>
<path d="M1225.7 246.9H1231.0" stroke="#2d8af5"/>
<path d="M1230.5 246.9H1235.7" stroke="#2d87f6"/>
<path d="M1235.2 246.9H1240.4" stroke="#2e83f9"/>
<path d="M1239.9 246.9H1245.2" stroke="#2f81fa"/>
<path d="M1244.7 246.9H1249.9" stroke="#307ffb"/>
<path d="M1249.4 246.9H1259.4" stroke="#347afd"/>
<path d="M1258.9 246.9H1278.3" stroke="#3678fe"/>
<path d="M1277.8 246.9H1283.1" stroke="#3975fe"/>
<path d="M1282.6 246.9H1287.8" stroke="#3678fe"/>
<path d="M1287.3 246.9H1292.5" stroke="#317cfc"/>
<path d="M1292.0 246.9H1297.3" stroke="#307ffb"/>
<path d="M1296.8 246.9H1302.0" stroke="#2f81fa"/>
<path d="M1301.5 246.9H1306.7" stroke="#2e83f9"/>
<path d="M1306.2 246.9H1311.5" stroke="#2e85f8"/>
<path d="M1311.0 246.9H1316.2" stroke="#2d8af5"/>
<path d="M1315.7 246.9H1320.9" stroke="#2d8cf3"/>
<path d="M1320.4 246.9H1325.7" stroke="#2c90f0"/>
<path d="M1325.2 246.9H1330.4" stroke="#2994ed"/>
<path d="M1329.9 246.9H1382.5" stroke="#2896ec"/>
<path d="M1382.0 246.9H1415.6" stroke="#2994ed"/>
<path d="M1415.1 246.9H1420.4" stroke="#2896ec"/>
<path d="M1419.9 246.9H1429.8" stroke="#2798ea"/>
<path d="M1429.3 246.9H1434.6" stroke="#269ae9"/>
<path d="M1434.1 246.9H1444.0" stroke="#259ce7"/>
<path d="M1443.5 246.9H1472.4" stroke="#259de6"/>
<path d="M1471.9 246.9H1477.2" stroke="#2798ea"/>
<path d="M1476.7 246.9H1481.9" stroke="#2b92ee"/>
<path d="M1481.4 246.9H1486.6" stroke="#2d8cf3"/>
<path d="M1486.1 246.9H1491.4" stroke="#347afd"/>
<path d="M1490.9 246.9H1496.1" stroke="#4367fd"/>
<path d="M1495.6 246.9H1500.9" stroke="#4853f4"/>
<path d="M1500.4 246.9H1505.6" stroke="#4743e7"/>
<path d="M1505.1 246.9H1510.3" stroke="#4538d8"/>
<path d="M1509.8 246.9H1515.1" stroke="#4230c4"/>
<path d="M1514.6 246.9H1519.8" stroke="#412dbb"/>
<path d="M1519.3 246.9H1524.5" stroke="#402bb6"/>
<path d="M1524.0 246.9H1529.3" stroke="#3f29b2"/>
<path d="M1528.8 246.9H1534.0" stroke="#402bb6"/>
<path d="M1533.5 246.9H1538.7" stroke="#4230c4"/>
<path d="M1538.2 246.9H1543.5" stroke="#4536d5"/>
<path d="M1543.0 246.9H1548.2" stroke="#484cef"/>
<path d="M1547.7 246.9H1552.9" stroke="#4660fc"/>
<path d="M1552.4 246.9H1557.7" stroke="#3b73ff"/>
<path d="M1557.2 246.9H1562.4" stroke="#2e83f9"/>
<path d="M1561.9 246.9H1567.1" stroke="#2d8af5"/>
<path d="M1566.6 246.9H1571.9" stroke="#2c90f0"/>
<path d="M1571.4 246.9H1581.3" stroke="#2896ec"/>
<path d="M1580.8 246.9H1605.0" stroke="#2798ea"/>
<path d="M1604.5 246.9H1657.1" stroke="#269ae9"/>
<path d="M1003.2 275.3H1008.4" stroke="#18addb"/>
<path d="M1007.9 275.3H1013.2" stroke="#16afd9"/>
<path d="M1012.7 275.3H1022.6" stroke="#13b0d7"/>
<path d="M1022.1 275.3H1027.4" stroke="#10b2d5"/>
<path d="M1026.9 275.3H1032.1" stroke="#0cb3d3"/>
<path d="M1031.6 275.3H1036.8" stroke="#00b9c6"/>
<path d="M1036.3 275.3H1041.6" stroke="#0dbdbc"/>
<path d="M1041.1 275.3H1046.3" stroke="#25c2ae"/>
<path d="M1045.8 275.3H1051.0" stroke="#39c895"/>
<path d="M1050.5 275.3H1055.8" stroke="#66cd6d"/>
<path d="M1055.3 275.3H1060.5" stroke="#9fc942"/>
<path d="M1060.0 275.3H1065.3" stroke="#c8c129"/>
<path d="M1064.8 275.3H1070.0" stroke="#eaba30"/>
<path d="M1069.5 275.3H1074.7" stroke="#fdbc3d"/>
<path d="M1074.2 275.3H1079.5" stroke="#fec13a"/>
<path d="M1079.0 275.3H1084.2" stroke="#fec338"/>
<path d="M1083.7 275.3H1093.7" stroke="#fec537"/>
<path d="M1093.2 275.3H1098.4" stroke="#feca33"/>
<path d="M1097.9 275.3H1103.1" stroke="#fcd12f"/>
<path d="M1102.6 275.3H1107.9" stroke="#f8d92b"/>
<path d="M1107.4 275.3H1112.6" stroke="#f5e327"/>
<path d="M1112.1 275.3H1126.8" stroke="#f5e825"/>
<path d="M1126.3 275.3H1131.5" stroke="#fccf30"/>
<path d="M1131.0 275.3H1136.3" stroke="#fec13a"/>
<path d="M1135.8 275.3H1141.0" stroke="#bfc32d"/>
<path d="M1140.5 275.3H1145.7" stroke="#61cd72"/>
<path d="M1145.2 275.3H1150.5" stroke="#25c2ae"/>
<path d="M1150.0 275.3H1155.2" stroke="#13b0d7"/>
<path d="M1154.7 275.3H1159.9" stroke="#259ce7"/>
<path d="M1159.4 275.3H1164.7" stroke="#2d8ef1"/>
<path d="M1164.2 275.3H1169.4" stroke="#2798ea"/>
<path d="M1168.9 275.3H1178.9" stroke="#259de6"/>
<path d="M1178.4 275.3H1193.1" stroke="#249fe5"/>
<path d="M1192.6 275.3H1197.8" stroke="#259de6"/>
<path d="M1197.3 275.3H1202.6" stroke="#259ce7"/>
<path d="M1202.1 275.3H1212.0" stroke="#269ae9"/>
<path d="M1211.5 275.3H1221.5" stroke="#2798ea"/>
<path d="M1221.0 275.3H1226.2" stroke="#2896ec"/>
<path d="M1225.7 275.3H1231.0" stroke="#2b92ee"/>
<path d="M1230.5 275.3H1235.7" stroke="#2d8ef1"/>
<path d="M1235.2 275.3H1240.4" stroke="#2d8af5"/>
<path d="M1239.9 275.3H1245.2" stroke="#2e85f8"/>
<path d="M1244.7 275.3H1249.9" stroke="#2d8af5"/>
<path d="M1249.4 275.3H1254.6" stroke="#2d8ef1"/>
<path d="M1254.1 275.3H1259.4" stroke="#2b92ee"/>
<path d="M1258.9 275.3H1264.1" stroke="#2896ec"/>
<path d="M1263.6 275.3H1273.6" stroke="#2798ea"/>
<path d="M1273.1 275.3H1283.1" stroke="#269ae9"/>
<path d="M1282.6 275.3H1287.8" stroke="#259ce7"/>
<path d="M1287.3 275.3H1292.5" stroke="#259de6"/>
<path d="M1292.0 275.3H1302.0" stroke="#249fe5"/>
<path d="M1301.5 275.3H1306.7" stroke="#23a1e4"/>
<path d="M1306.2 275.3H1311.5" stroke="#21a3e3"/>
<path d="M1311.0 275.3H1316.2" stroke="#20a5e2"/>
<path d="M1315.7 275.3H1320.9" stroke="#1da8e0"/>
<path d="M1320.4 275.3H1325.7" stroke="#04b6ce"/>
<path d="M1325.2 275.3H1330.4" stroke="#0dbdbc"/>
<path d="M1329.9 275.3H1335.1" stroke="#25c2ae"/>
<path d="M1334.6 275.3H1339.9" stroke="#2dc4a5"/>
<path d="M1339.4 275.3H1344.6" stroke="#34c79c"/>
<path d="M1344.1 275.3H1349.3" stroke="#3cc991"/>
<path d="M1348.8 275.3H1354.1" stroke="#3fca8e"/>
<path d="M1353.6 275.3H1358.8" stroke="#34c79c"/>
<path d="M1358.3 275.3H1363.5" stroke="#2dc4a5"/>
<path d="M1363.0 275.3H1368.3" stroke="#25c2ae"/>
<path d="M1367.8 275.3H1373.0" stroke="#17bfb6"/>
<path d="M1372.5 275.3H1377.7" stroke="#04bbc1"/>
<path d="M1377.2 275.3H1387.2" stroke="#00b9c6"/>
<path d="M1386.7 275.3H1401.4" stroke="#01b8c9"/>
<path d="M1400.9 275.3H1406.2" stroke="#02b7cc"/>
<path d="M1405.7 275.3H1410.9" stroke="#01b8c9"/>
<path d="M1410.4 275.3H1415.6" stroke="#00b9c6"/>
<path d="M1415.1 275.3H1420.4" stroke="#01bac4"/>
<path d="M1419.9 275.3H1425.1" stroke="#07bcbf"/>
<path d="M1424.6 275.3H1429.8" stroke="#0dbdbc"/>
<path d="M1429.3 275.3H1434.6" stroke="#12beb9"/>
<path d="M1434.1 275.3H1439.3" stroke="#17bfb6"/>
<path d="M1438.8 275.3H1448.8" stroke="#1cc0b4"/>
<path d="M1448.3 275.3H1453.5" stroke="#17bfb6"/>
<path d="M1453.0 275.3H1463.0" stroke="#12beb9"/>
<path d="M1462.5 275.3H1467.7" stroke="#04bbc1"/>
<path d="M1467.2 275.3H1472.4" stroke="#01b8c9"/>
<path d="M1471.9 275.3H1477.2" stroke="#08b4d0"/>
<path d="M1476.7 275.3H1481.9" stroke="#18addb"/>
<path d="M1481.4 275.3H1486.6" stroke="#21a3e3"/>
<path d="M1486.1 275.3H1491.4" stroke="#2798ea"/>
<path d="M1490.9 275.3H1496.1" stroke="#2d87f6"/>
<path d="M1495.6 275.3H1500.9" stroke="#3975fe"/>
<path d="M1500.4 275.3H1505.6" stroke="#4269fe"/>
<path d="M1505.1 275.3H1510.3" stroke="#4660fc"/>
<path d="M1509.8 275.3H1515.1" stroke="#4757f7"/>
<path d="M1514.6 275.3H1519.8" stroke="#484cef"/>
<path d="M1519.3 275.3H1524.5" stroke="#4741e5"/>
<path d="M1524.0 275.3H1529.3" stroke="#4538d8"/>
<path d="M1528.8 275.3H1538.7" stroke="#4331c8"/>
<path d="M1538.2 275.3H1543.5" stroke="#4433cc"/>
<path d="M1543.0 275.3H1548.2" stroke="#4745e9"/>
<path d="M1547.7 275.3H1552.9" stroke="#416bfe"/>
<path d="M1552.4 275.3H1557.7" stroke="#307ffb"/>
<path d="M1557.2 275.3H1562.4" stroke="#2d8ef1"/>
<path d="M1561.9 275.3H1567.1" stroke="#259de6"/>
<path d="M1566.6 275.3H1571.9" stroke="#249fe5"/>
<path d="M1571.4 275.3H1581.3" stroke="#23a1e4"/>
<path d="M1580.8 275.3H1586.1" stroke="#21a3e3"/>
<path d="M1585.6 275.3H1590.8" stroke="#20a5e2"/>
<path d="M1590.3 275.3H1600.3" stroke="#1ea7e1"/>
<path d="M1599.8 275.3H1609.8" stroke="#20a5e2"/>
<path d="M1609.3 275.3H1619.2" stroke="#21a3e3"/>
<path d="M1618.7 275.3H1628.7" stroke="#23a1e4"/>
<path d="M1628.2 275.3H1638.2" stroke="#249fe5"/>
<path d="M1637.7 275.3H1642.9" stroke="#259de6"/>
<path d="M1642.4 275.3H1652.4" stroke="#259ce7"/>
<path d="M1651.9 275.3H1657.1" stroke="#269ae9"/>
<path d="M1003.2 303.6H1008.4" stroke="#1ea7e1"/>
<path d="M1007.9 303.6H1013.2" stroke="#1da8e0"/>
<path d="M1012.7 303.6H1017.9" stroke="#1caadf"/>
<path d="M1017.4 303.6H1027.4" stroke="#1aacdd"/>
<path d="M1026.9 303.6H1032.1" stroke="#16afd9"/>
<path d="M1031.6 303.6H1036.8" stroke="#04bbc1"/>
<path d="M1036.3 303.6H1041.6" stroke="#2bc3a8"/>
<path d="M1041.1 303.6H1046.3" stroke="#43cb8a"/>
<path d="M1045.8 303.6H1051.0" stroke="#77cc60"/>
<path d="M1050.5 303.6H1055.8" stroke="#94ca4a"/>
<path d="M1055.3 303.6H1074.7" stroke="#aac73a"/>
<path d="M1074.2 303.6H1079.5" stroke="#8ecb4f"/>
<path d="M1079.0 303.6H1084.2" stroke="#66cd6d"/>
<path d="M1083.7 303.6H1088.9" stroke="#3fca8e"/>
<path d="M1088.4 303.6H1093.7" stroke="#30c5a2"/>
<path d="M1093.2 303.6H1098.4" stroke="#43cb8a"/>
<path d="M1097.9 303.6H1103.1" stroke="#83cc57"/>
<path d="M1102.6 303.6H1107.9" stroke="#bfc32d"/>
<path d="M1107.4 303.6H1112.6" stroke="#eaba30"/>
<path d="M1112.1 303.6H1117.3" stroke="#fec13a"/>
<path d="M1116.8 303.6H1131.5" stroke="#fec338"/>
<path d="M1131.0 303.6H1136.3" stroke="#f1ba37"/>
<path d="M1135.8 303.6H1141.0" stroke="#9fc942"/>
<path d="M1140.5 303.6H1145.7" stroke="#34c79c"/>
<path d="M1145.2 303.6H1150.5" stroke="#04bbc1"/>
<path d="M1150.0 303.6H1155.2" stroke="#1aacdd"/>
<path d="M1154.7 303.6H1159.9" stroke="#259ce7"/>
<path d="M1159.4 303.6H1164.7" stroke="#2994ed"/>
<path d="M1164.2 303.6H1169.4" stroke="#2d8ef1"/>
<path d="M1168.9 303.6H1174.2" stroke="#2d8af5"/>
<path d="M1173.7 303.6H1178.9" stroke="#2d87f6"/>
<path d="M1178.4 303.6H1183.6" stroke="#2e85f8"/>
<path d="M1183.1 303.6H1188.4" stroke="#2e83f9"/>
<path d="M1187.9 303.6H1193.1" stroke="#317cfc"/>
<path d="M1192.6 303.6H1197.8" stroke="#3975fe"/>
<path d="M1197.3 303.6H1202.6" stroke="#3d70ff"/>
<path d="M1202.1 303.6H1207.3" stroke="#347afd"/>
<path d="M1206.8 303.6H1212.0" stroke="#2e83f9"/>
<path d="M1211.5 303.6H1216.8" stroke="#2e85f8"/>
<path d="M1216.3 303.6H1221.5" stroke="#2d87f6"/>
<path d="M1221.0 303.6H1231.0" stroke="#2d8af5"/>
<path d="M1230.5 303.6H1264.1" stroke="#2d8cf3"/>
<path d="M1263.6 303.6H1268.8" stroke="#2d8ef1"/>
<path d="M1268.3 303.6H1273.6" stroke="#2c90f0"/>
<path d="M1273.1 303.6H1283.1" stroke="#2b92ee"/>
<path d="M1282.6 303.6H1287.8" stroke="#2d8ef1"/>
<path d="M1287.3 303.6H1292.5" stroke="#2d87f6"/>
<path d="M1292.0 303.6H1297.3" stroke="#2e83f9"/>
<path d="M1296.8 303.6H1302.0" stroke="#2e85f8"/>
<path d="M1301.5 303.6H1306.7" stroke="#2d87f6"/>
<path d="M1306.2 303.6H1311.5" stroke="#2d8cf3"/>
<path d="M1311.0 303.6H1316.2" stroke="#2b92ee"/>
<path d="M1315.7 303.6H1320.9" stroke="#269ae9"/>
<path d="M1320.4 303.6H1325.7" stroke="#249fe5"/>
<path d="M1325.2 303.6H1330.4" stroke="#20a5e2"/>
<path d="M1329.9 303.6H1335.1" stroke="#1aacdd"/>
<path d="M1334.6 303.6H1339.9" stroke="#0cb3d3"/>
<path d="M1339.4 303.6H1344.6" stroke="#01b8c9"/>
<path d="M1344.1 303.6H1349.3" stroke="#04bbc1"/>
<path d="M1348.8 303.6H1354.1" stroke="#0dbdbc"/>
<path d="M1353.6 303.6H1358.8" stroke="#01bac4"/>
<path d="M1358.3 303.6H1363.5" stroke="#01b8c9"/>
<path d="M1363.0 303.6H1368.3" stroke="#08b4d0"/>
<path d="M1367.8 303.6H1373.0" stroke="#13b0d7"/>
<path d="M1372.5 303.6H1377.7" stroke="#1da8e0"/>
<path d="M1377.2 303.6H1382.5" stroke="#249fe5"/>
<path d="M1382.0 303.6H1387.2" stroke="#2798ea"/>
<path d="M1386.7 303.6H1392.0" stroke="#2c90f0"/>
<path d="M1391.5 303.6H1396.7" stroke="#2d8cf3"/>
<path d="M1396.2 303.6H1406.2" stroke="#2e85f8"/>
<path d="M1405.7 303.6H1410.9" stroke="#2994ed"/>
<path d="M1410.4 303.6H1415.6" stroke="#21a3e3"/>
<path d="M1415.1 303.6H1420.4" stroke="#0dbdbc"/>
<path d="M1419.9 303.6H1425.1" stroke="#34c79c"/>
<path d="M1424.6 303.6H1429.8" stroke="#36c898"/>
<path d="M1429.3 303.6H1434.6" stroke="#39c895"/>
<path d="M1434.1 303.6H1439.3" stroke="#3cc991"/>
<path d="M1438.8 303.6H1448.8" stroke="#3fca8e"/>
<path d="M1448.3 303.6H1453.5" stroke="#39c895"/>
<path d="M1453.0 303.6H1458.2" stroke="#36c898"/>
<path d="M1457.7 303.6H1463.0" stroke="#34c79c"/>
<path d="M1462.5 303.6H1467.7" stroke="#0dbdbc"/>
<path d="M1467.2 303.6H1472.4" stroke="#1caadf"/>
<path d="M1471.9 303.6H1477.2" stroke="#2896ec"/>
<path d="M1476.7 303.6H1481.9" stroke="#2e83f9"/>
<path d="M1481.4 303.6H1486.6" stroke="#347afd"/>
<path d="M1486.1 303.6H1491.4" stroke="#3b73ff"/>
<path d="M1490.9 303.6H1496.1" stroke="#3f6eff"/>
<path d="M1495.6 303.6H1500.9" stroke="#4367fd"/>
<path d="M1500.4 303.6H1505.6" stroke="#4562fc"/>
<path d="M1505.1 303.6H1510.3" stroke="#475bfa"/>
<path d="M1509.8 303.6H1515.1" stroke="#4757f7"/>
<path d="M1514.6 303.6H1519.8" stroke="#4853f4"/>
<path d="M1519.3 303.6H1524.5" stroke="#484ef1"/>
<path d="M1524.0 303.6H1529.3" stroke="#484cef"/>
<path d="M1528.8 303.6H1534.0" stroke="#484aee"/>
<path d="M1533.5 303.6H1538.7" stroke="#4850f3"/>
<path d="M1538.2 303.6H1543.5" stroke="#4759f9"/>
<path d="M1543.0 303.6H1548.2" stroke="#4464fd"/>
<path d="M1547.7 303.6H1552.9" stroke="#3975fe"/>
<path d="M1552.4 303.6H1557.7" stroke="#2f81fa"/>
<path d="M1557.2 303.6H1562.4" stroke="#2d87f6"/>
<path d="M1561.9 303.6H1567.1" stroke="#2d8cf3"/>
<path d="M1566.6 303.6H1571.9" stroke="#2b92ee"/>
<path d="M1571.4 303.6H1576.6" stroke="#2896ec"/>
<path d="M1576.1 303.6H1581.3" stroke="#269ae9"/>
<path d="M1580.8 303.6H1586.1" stroke="#249fe5"/>
<path d="M1585.6 303.6H1590.8" stroke="#21a3e3"/>
<path d="M1590.3 303.6H1595.5" stroke="#1ea7e1"/>
<path d="M1595.0 303.6H1600.3" stroke="#1caadf"/>
<path d="M1599.8 303.6H1628.7" stroke="#18addb"/>
<path d="M1628.2 303.6H1633.4" stroke="#1aacdd"/>
<path d="M1632.9 303.6H1638.2" stroke="#21a3e3"/>
<path d="M1637.7 303.6H1642.9" stroke="#259ce7"/>
<path d="M1642.4 303.6H1647.6" stroke="#2896ec"/>
<path d="M1647.1 303.6H1652.4" stroke="#2b92ee"/>
<path d="M1651.9 303.6H1657.1" stroke="#2d8ef1"/>
<path d="M1003.2 332.0H1008.4" stroke="#2b92ee"/>
<path d="M1007.9 332.0H1013.2" stroke="#2d8cf3"/>
<path d="M1012.7 332.0H1017.9" stroke="#2e83f9"/>
<path d="M1017.4 332.0H1022.6" stroke="#2e85f8"/>
<path d="M1022.1 332.0H1027.4" stroke="#2d87f6"/>
<path d="M1026.9 332.0H1032.1" stroke="#2d8ef1"/>
<path d="M1031.6 332.0H1036.8" stroke="#13b0d7"/>
<path d="M1036.3 332.0H1041.6" stroke="#21c1b1"/>
<path d="M1041.1 332.0H1046.3" stroke="#5ccc76"/>
<path d="M1045.8 332.0H1051.0" stroke="#99c946"/>
<path d="M1050.5 332.0H1055.8" stroke="#b4c533"/>
<path d="M1055.3 332.0H1060.5" stroke="#bac430"/>
<path d="M1060.0 332.0H1065.3" stroke="#b4c533"/>
<path d="M1064.8 332.0H1070.0" stroke="#94ca4a"/>
<path d="M1069.5 332.0H1074.7" stroke="#52cc7e"/>
<path d="M1074.2 332.0H1079.5" stroke="#2dc4a5"/>
<path d="M1079.0 332.0H1084.2" stroke="#04bbc1"/>
<path d="M1083.7 332.0H1088.9" stroke="#23a1e4"/>
<path d="M1088.4 332.0H1093.7" stroke="#3975fe"/>
<path d="M1093.2 332.0H1098.4" stroke="#2d8cf3"/>
<path d="M1097.9 332.0H1103.1" stroke="#01bac4"/>
<path d="M1102.6 332.0H1107.9" stroke="#3fca8e"/>
<path d="M1107.4 332.0H1112.6" stroke="#5ccc76"/>
<path d="M1112.1 332.0H1117.3" stroke="#7dcc5c"/>
<path d="M1116.8 332.0H1122.1" stroke="#88cb53"/>
<path d="M1121.6 332.0H1131.5" stroke="#83cc57"/>
<path d="M1131.0 332.0H1136.3" stroke="#71cd64"/>
<path d="M1135.8 332.0H1141.0" stroke="#52cc7e"/>
<path d="M1140.5 332.0H1145.7" stroke="#36c898"/>
<path d="M1145.2 332.0H1150.5" stroke="#21c1b1"/>
<path d="M1150.0 332.0H1155.2" stroke="#04bbc1"/>
<path d="M1154.7 332.0H1159.9" stroke="#04b6ce"/>
<path d="M1159.4 332.0H1164.7" stroke="#10b2d5"/>
<path d="M1164.2 332.0H1169.4" stroke="#16afd9"/>
<path d="M1168.9 332.0H1174.2" stroke="#1aacdd"/>
<path d="M1173.7 332.0H1178.9" stroke="#1da8e0"/>
<path d="M1178.4 332.0H1183.6" stroke="#1ea7e1"/>
<path d="M1183.1 332.0H1188.4" stroke="#20a5e2"/>
<path d="M1187.9 332.0H1197.8" stroke="#21a3e3"/>
<path d="M1197.3 332.0H1226.2" stroke="#23a1e4"/>
<path d="M1225.7 332.0H1259.4" stroke="#21a3e3"/>
<path d="M1258.9 332.0H1278.3" stroke="#23a1e4"/>
<path d="M1277.8 332.0H1306.7" stroke="#249fe5"/>
<path d="M1306.2 332.0H1311.5" stroke="#23a1e4"/>
<path d="M1311.0 332.0H1316.2" stroke="#20a5e2"/>
<path d="M1315.7 332.0H1320.9" stroke="#1caadf"/>
<path d="M1320.4 332.0H1325.7" stroke="#10b2d5"/>
<path d="M1325.2 332.0H1330.4" stroke="#07bcbf"/>
<path d="M1329.9 332.0H1335.1" stroke="#21c1b1"/>
<path d="M1334.6 332.0H1339.9" stroke="#1cc0b4"/>
<path d="M1339.4 332.0H1344.6" stroke="#12beb9"/>
<path d="M1344.1 332.0H1349.3" stroke="#0dbdbc"/>
<path d="M1348.8 332.0H1354.1" stroke="#04bbc1"/>
<path d="M1353.6 332.0H1358.8" stroke="#01bac4"/>
<path d="M1358.3 332.0H1363.5" stroke="#01b8c9"/>
<path d="M1363.0 332.0H1368.3" stroke="#04b6ce"/>
<path d="M1367.8 332.0H1373.0" stroke="#10b2d5"/>
<path d="M1372.5 332.0H1377.7" stroke="#16afd9"/>
<path d="M1377.2 332.0H1382.5" stroke="#1da8e0"/>
<path d="M1382.0 332.0H1387.2" stroke="#269ae9"/>
<path d="M1386.7 332.0H1392.0" stroke="#2d8cf3"/>
<path d="M1391.5 332.0H1401.4" stroke="#2f81fa"/>
<path d="M1400.9 332.0H1406.2" stroke="#2d87f6"/>
<path d="M1405.7 332.0H1410.9" stroke="#2896ec"/>
<path d="M1410.4 332.0H1415.6" stroke="#1ea7e1"/>
<path d="M1415.1 332.0H1420.4" stroke="#02b7cc"/>
<path d="M1419.9 332.0H1425.1" stroke="#1cc0b4"/>
<path d="M1424.6 332.0H1429.8" stroke="#32c69f"/>
<path d="M1429.3 332.0H1434.6" stroke="#48cb86"/>
<path d="M1434.1 332.0H1439.3" stroke="#6bcd69"/>
<path d="M1438.8 332.0H1444.0" stroke="#71cd64"/>
<path d="M1443.5 332.0H1448.8" stroke="#77cc60"/>
<path d="M1448.3 332.0H1453.5" stroke="#7dcc5c"/>
<path d="M1453.0 332.0H1458.2" stroke="#66cd6d"/>
<path d="M1457.7 332.0H1463.0" stroke="#57cc7a"/>
<path d="M1462.5 332.0H1467.7" stroke="#43cb8a"/>
<path d="M1467.2 332.0H1472.4" stroke="#04b6ce"/>
<path d="M1471.9 332.0H1477.2" stroke="#259ce7"/>
<path d="M1476.7 332.0H1481.9" stroke="#2e85f8"/>
<path d="M1481.4 332.0H1486.6" stroke="#2f81fa"/>
<path d="M1486.1 332.0H1491.4" stroke="#307ffb"/>
<path d="M1490.9 332.0H1496.1" stroke="#317cfc"/>
<path d="M1495.6 332.0H1505.6" stroke="#347afd"/>
<path d="M1505.1 332.0H1515.1" stroke="#317cfc"/>
<path d="M1514.6 332.0H1529.3" stroke="#307ffb"/>
<path d="M1528.8 332.0H1538.7" stroke="#2f81fa"/>
<path d="M1538.2 332.0H1543.5" stroke="#2e85f8"/>
<path d="M1543.0 332.0H1548.2" stroke="#2d8cf3"/>
<path d="M1547.7 332.0H1552.9" stroke="#2c90f0"/>
<path d="M1552.4 332.0H1557.7" stroke="#2994ed"/>
<path d="M1557.2 332.0H1562.4" stroke="#2798ea"/>
<path d="M1561.9 332.0H1567.1" stroke="#259de6"/>
<path d="M1566.6 332.0H1571.9" stroke="#249fe5"/>
<path d="M1571.4 332.0H1576.6" stroke="#21a3e3"/>
<path d="M1576.1 332.0H1581.3" stroke="#20a5e2"/>
<path d="M1580.8 332.0H1586.1" stroke="#1da8e0"/>
<path d="M1585.6 332.0H1590.8" stroke="#1aacdd"/>
<path d="M1590.3 332.0H1595.5" stroke="#16afd9"/>
<path d="M1595.0 332.0H1600.3" stroke="#0cb3d3"/>
<path d="M1599.8 332.0H1605.0" stroke="#02b7cc"/>
<path d="M1604.5 332.0H1609.8" stroke="#01bac4"/>
<path d="M1609.3 332.0H1619.2" stroke="#07bcbf"/>
<path d="M1618.7 332.0H1624.0" stroke="#00b9c6"/>
<path d="M1623.5 332.0H1628.7" stroke="#04b6ce"/>
<path d="M1628.2 332.0H1633.4" stroke="#13b0d7"/>
<path d="M1632.9 332.0H1638.2" stroke="#1caadf"/>
<path d="M1637.7 332.0H1642.9" stroke="#21a3e3"/>
<path d="M1642.4 332.0H1647.6" stroke="#259ce7"/>
<path d="M1647.1 332.0H1652.4" stroke="#2896ec"/>
<path d="M1651.9 332.0H1657.1" stroke="#2c90f0"/>
<path d="M1003.2 360.3H1008.4" stroke="#2b92ee"/>
<path d="M1007.9 360.3H1013.2" stroke="#2d87f6"/>
<path d="M1012.7 360.3H1022.6" stroke="#317cfc"/>
<path d="M1022.1 360.3H1027.4" stroke="#307ffb"/>
<path d="M1026.9 360.3H1032.1" stroke="#2e83f9"/>
<path d="M1031.6 360.3H1036.8" stroke="#2896ec"/>
<path d="M1036.3 360.3H1041.6" stroke="#1da8e0"/>
<path d="M1041.1 360.3H1046.3" stroke="#13b0d7"/>
<path d="M1045.8 360.3H1051.0" stroke="#02b7cc"/>
<path d="M1050.5 360.3H1055.8" stroke="#07bcbf"/>
<path d="M1055.3 360.3H1060.5" stroke="#04bbc1"/>
<path d="M1060.0 360.3H1065.3" stroke="#00b9c6"/>
<path d="M1064.8 360.3H1070.0" stroke="#04b6ce"/>
<path d="M1069.5 360.3H1074.7" stroke="#18addb"/>
<path d="M1074.2 360.3H1079.5" stroke="#1ea7e1"/>
<path d="M1079.0 360.3H1084.2" stroke="#21a3e3"/>
<path d="M1083.7 360.3H1088.9" stroke="#23a1e4"/>
<path d="M1088.4 360.3H1093.7" stroke="#249fe5"/>
<path d="M1093.2 360.3H1122.1" stroke="#259de6"/>
<path d="M1121.6 360.3H1126.8" stroke="#269ae9"/>
<path d="M1126.3 360.3H1131.5" stroke="#2c90f0"/>
<path d="M1131.0 360.3H1150.5" stroke="#2d8cf3"/>
<path d="M1150.0 360.3H1159.9" stroke="#2d8ef1"/>
<path d="M1159.4 360.3H1164.7" stroke="#2c90f0"/>
<path d="M1164.2 360.3H1174.2" stroke="#2b92ee"/>
<path d="M1173.7 360.3H1178.9" stroke="#2c90f0"/>
<path d="M1178.4 360.3H1183.6" stroke="#2d8ef1"/>
<path d="M1183.1 360.3H1188.4" stroke="#2d8cf3"/>
<path d="M1187.9 360.3H1193.1" stroke="#2d8af5"/>
<path d="M1192.6 360.3H1197.8" stroke="#2d87f6"/>
<path d="M1197.3 360.3H1202.6" stroke="#2e85f8"/>
<path d="M1202.1 360.3H1216.8" stroke="#2e83f9"/>
<path d="M1216.3 360.3H1226.2" stroke="#2e85f8"/>
<path d="M1225.7 360.3H1231.0" stroke="#2d87f6"/>
<path d="M1230.5 360.3H1240.4" stroke="#2d8af5"/>
<path d="M1239.9 360.3H1245.2" stroke="#2d8cf3"/>
<path d="M1244.7 360.3H1249.9" stroke="#2d8af5"/>
<path d="M1249.4 360.3H1254.6" stroke="#2e85f8"/>
<path d="M1254.1 360.3H1259.4" stroke="#2f81fa"/>
<path d="M1258.9 360.3H1264.1" stroke="#307ffb"/>
<path d="M1263.6 360.3H1273.6" stroke="#317cfc"/>
<path d="M1273.1 360.3H1283.1" stroke="#347afd"/>
<path d="M1282.6 360.3H1287.8" stroke="#307ffb"/>
<path d="M1287.3 360.3H1292.5" stroke="#2e83f9"/>
<path d="M1292.0 360.3H1297.3" stroke="#2d87f6"/>
<path d="M1296.8 360.3H1302.0" stroke="#2d8cf3"/>
<path d="M1301.5 360.3H1306.7" stroke="#2d8ef1"/>
<path d="M1306.2 360.3H1311.5" stroke="#2c90f0"/>
<path d="M1311.0 360.3H1316.2" stroke="#2b92ee"/>
<path d="M1315.7 360.3H1320.9" stroke="#2994ed"/>
<path d="M1320.4 360.3H1325.7" stroke="#2896ec"/>
<path d="M1325.2 360.3H1335.1" stroke="#2798ea"/>
<path d="M1334.6 360.3H1339.9" stroke="#2896ec"/>
<path d="M1339.4 360.3H1344.6" stroke="#2b92ee"/>
<path d="M1344.1 360.3H1349.3" stroke="#2d8ef1"/>
<path d="M1348.8 360.3H1354.1" stroke="#2d8cf3"/>
<path d="M1353.6 360.3H1358.8" stroke="#2d87f6"/>
<path d="M1358.3 360.3H1363.5" stroke="#2e85f8"/>
<path d="M1363.0 360.3H1373.0" stroke="#2d87f6"/>
<path d="M1372.5 360.3H1382.5" stroke="#2d8af5"/>
<path d="M1382.0 360.3H1387.2" stroke="#2d8cf3"/>
<path d="M1386.7 360.3H1392.0" stroke="#2d8ef1"/>
<path d="M1391.5 360.3H1396.7" stroke="#2b92ee"/>
<path d="M1396.2 360.3H1401.4" stroke="#2896ec"/>
<path d="M1400.9 360.3H1406.2" stroke="#269ae9"/>
<path d="M1405.7 360.3H1410.9" stroke="#259de6"/>
<path d="M1410.4 360.3H1415.6" stroke="#23a1e4"/>
<path d="M1415.1 360.3H1420.4" stroke="#20a5e2"/>
<path d="M1419.9 360.3H1425.1" stroke="#1ea7e1"/>
<path d="M1424.6 360.3H1429.8" stroke="#1da8e0"/>
<path d="M1429.3 360.3H1434.6" stroke="#1caadf"/>
<path d="M1434.1 360.3H1439.3" stroke="#1aacdd"/>
<path d="M1438.8 360.3H1472.4" stroke="#18addb"/>
<path d="M1471.9 360.3H1477.2" stroke="#20a5e2"/>
<path d="M1476.7 360.3H1481.9" stroke="#2798ea"/>
<path d="M1481.4 360.3H1486.6" stroke="#2d8cf3"/>
<path d="M1486.1 360.3H1491.4" stroke="#317cfc"/>
<path d="M1490.9 360.3H1496.1" stroke="#416bfe"/>
<path d="M1495.6 360.3H1500.9" stroke="#4660fc"/>
<path d="M1500.4 360.3H1505.6" stroke="#4757f7"/>
<path d="M1505.1 360.3H1510.3" stroke="#484ef1"/>
<path d="M1509.8 360.3H1515.1" stroke="#4850f3"/>
<path d="M1514.6 360.3H1519.8" stroke="#4853f4"/>
<path d="M1519.3 360.3H1524.5" stroke="#4757f7"/>
<path d="M1524.0 360.3H1529.3" stroke="#4660fc"/>
<path d="M1528.8 360.3H1534.0" stroke="#416bfe"/>
<path d="M1533.5 360.3H1538.7" stroke="#3975fe"/>
<path d="M1538.2 360.3H1543.5" stroke="#317cfc"/>
<path d="M1543.0 360.3H1548.2" stroke="#2e85f8"/>
<path d="M1547.7 360.3H1552.9" stroke="#2d8af5"/>
<path d="M1552.4 360.3H1557.7" stroke="#2d8ef1"/>
<path d="M1557.2 360.3H1562.4" stroke="#2b92ee"/>
<path d="M1561.9 360.3H1567.1" stroke="#2896ec"/>
<path d="M1566.6 360.3H1571.9" stroke="#269ae9"/>
<path d="M1571.4 360.3H1576.6" stroke="#259de6"/>
<path d="M1576.1 360.3H1581.3" stroke="#249fe5"/>
<path d="M1580.8 360.3H1586.1" stroke="#23a1e4"/>
<path d="M1585.6 360.3H1590.8" stroke="#21a3e3"/>
<path d="M1590.3 360.3H1595.5" stroke="#20a5e2"/>
<path d="M1595.0 360.3H1600.3" stroke="#1da8e0"/>
<path d="M1599.8 360.3H1605.0" stroke="#1caadf"/>
<path d="M1604.5 360.3H1609.8" stroke="#1aacdd"/>
<path d="M1609.3 360.3H1638.2" stroke="#18addb"/>
<path d="M1637.7 360.3H1642.9" stroke="#1aacdd"/>
<path d="M1642.4 360.3H1647.6" stroke="#1da8e0"/>
<path d="M1647.1 360.3H1652.4" stroke="#21a3e3"/>
<path d="M1651.9 360.3H1657.1" stroke="#249fe5"/>
<path d="M1003.2 388.7H1008.4" stroke="#347afd"/>
<path d="M1007.9 388.7H1017.9" stroke="#3678fe"/>
<path d="M1017.4 388.7H1022.6" stroke="#2e83f9"/>
<path d="M1022.1 388.7H1027.4" stroke="#2c90f0"/>
<path d="M1026.9 388.7H1032.1" stroke="#18addb"/>
<path d="M1031.6 388.7H1036.8" stroke="#17bfb6"/>
<path d="M1036.3 388.7H1041.6" stroke="#48cb86"/>
<path d="M1041.1 388.7H1046.3" stroke="#8ecb4f"/>
<path d="M1045.8 388.7H1051.0" stroke="#9fc942"/>
<path d="M1050.5 388.7H1055.8" stroke="#afc636"/>
<path d="M1055.3 388.7H1060.5" stroke="#aac73a"/>
<path d="M1060.0 388.7H1065.3" stroke="#a4c83e"/>
<path d="M1064.8 388.7H1070.0" stroke="#94ca4a"/>
<path d="M1069.5 388.7H1074.7" stroke="#88cb53"/>
<path d="M1074.2 388.7H1079.5" stroke="#7dcc5c"/>
<path d="M1079.0 388.7H1084.2" stroke="#6bcd69"/>
<path d="M1083.7 388.7H1088.9" stroke="#61cd72"/>
<path d="M1088.4 388.7H1093.7" stroke="#52cc7e"/>
<path d="M1093.2 388.7H1098.4" stroke="#43cb8a"/>
<path d="M1097.9 388.7H1103.1" stroke="#36c898"/>
<path d="M1102.6 388.7H1107.9" stroke="#30c5a2"/>
<path d="M1107.4 388.7H1112.6" stroke="#12beb9"/>
<path d="M1112.1 388.7H1117.3" stroke="#04b6ce"/>
<path d="M1116.8 388.7H1122.1" stroke="#1ea7e1"/>
<path d="M1121.6 388.7H1126.8" stroke="#2798ea"/>
<path d="M1126.3 388.7H1131.5" stroke="#2d8cf3"/>
<path d="M1131.0 388.7H1136.3" stroke="#2e85f8"/>
<path d="M1135.8 388.7H1145.7" stroke="#2e83f9"/>
<path d="M1145.2 388.7H1150.5" stroke="#2896ec"/>
<path d="M1150.0 388.7H1155.2" stroke="#1da8e0"/>
<path d="M1154.7 388.7H1159.9" stroke="#10b2d5"/>
<path d="M1159.4 388.7H1164.7" stroke="#02b7cc"/>
<path d="M1164.2 388.7H1169.4" stroke="#01b8c9"/>
<path d="M1168.9 388.7H1174.2" stroke="#04b6ce"/>
<path d="M1173.7 388.7H1178.9" stroke="#08b4d0"/>
<path d="M1178.4 388.7H1183.6" stroke="#16afd9"/>
<path d="M1183.1 388.7H1188.4" stroke="#1caadf"/>
<path d="M1187.9 388.7H1193.1" stroke="#23a1e4"/>
<path d="M1192.6 388.7H1197.8" stroke="#2798ea"/>
<path d="M1197.3 388.7H1202.6" stroke="#2d8ef1"/>
<path d="M1202.1 388.7H1216.8" stroke="#2d8cf3"/>
<path d="M1216.3 388.7H1221.5" stroke="#259ce7"/>
<path d="M1221.0 388.7H1226.2" stroke="#16afd9"/>
<path d="M1225.7 388.7H1231.0" stroke="#01bac4"/>
<path d="M1230.5 388.7H1235.7" stroke="#21c1b1"/>
<path d="M1235.2 388.7H1245.2" stroke="#25c2ae"/>
<path d="M1244.7 388.7H1249.9" stroke="#21c1b1"/>
<path d="M1249.4 388.7H1254.6" stroke="#1cc0b4"/>
<path d="M1254.1 388.7H1259.4" stroke="#07bcbf"/>
<path d="M1258.9 388.7H1264.1" stroke="#01b8c9"/>
<path d="M1263.6 388.7H1268.8" stroke="#08b4d0"/>
<path d="M1268.3 388.7H1273.6" stroke="#13b0d7"/>
<path d="M1273.1 388.7H1278.3" stroke="#1aacdd"/>
<path d="M1277.8 388.7H1283.1" stroke="#1ea7e1"/>
<path d="M1282.6 388.7H1287.8" stroke="#1da8e0"/>
<path d="M1287.3 388.7H1292.5" stroke="#1aacdd"/>
<path d="M1292.0 388.7H1297.3" stroke="#18addb"/>
<path d="M1296.8 388.7H1302.0" stroke="#02b7cc"/>
<path d="M1301.5 388.7H1306.7" stroke="#0dbdbc"/>
<path d="M1306.2 388.7H1311.5" stroke="#28c2ab"/>
<path d="M1311.0 388.7H1316.2" stroke="#34c79c"/>
<path d="M1315.7 388.7H1320.9" stroke="#43cb8a"/>
<path d="M1320.4 388.7H1325.7" stroke="#3fca8e"/>
<path d="M1325.2 388.7H1330.4" stroke="#3cc991"/>
<path d="M1329.9 388.7H1335.1" stroke="#34c79c"/>
<path d="M1334.6 388.7H1339.9" stroke="#21c1b1"/>
<path d="M1339.4 388.7H1344.6" stroke="#01bac4"/>
<path d="M1344.1 388.7H1349.3" stroke="#1ea7e1"/>
<path d="M1348.8 388.7H1354.1" stroke="#2d8ef1"/>
<path d="M1353.6 388.7H1358.8" stroke="#2e85f8"/>
<path d="M1358.3 388.7H1363.5" stroke="#2896ec"/>
<path d="M1363.0 388.7H1368.3" stroke="#1da8e0"/>
<path d="M1367.8 388.7H1373.0" stroke="#1aacdd"/>
<path d="M1372.5 388.7H1377.7" stroke="#13b0d7"/>
<path d="M1377.2 388.7H1382.5" stroke="#08b4d0"/>
<path d="M1382.0 388.7H1387.2" stroke="#01b8c9"/>
<path d="M1386.7 388.7H1392.0" stroke="#00b9c6"/>
<path d="M1391.5 388.7H1396.7" stroke="#01bac4"/>
<path d="M1396.2 388.7H1401.4" stroke="#04bbc1"/>
<path d="M1400.9 388.7H1406.2" stroke="#07bcbf"/>
<path d="M1405.7 388.7H1410.9" stroke="#04bbc1"/>
<path d="M1410.4 388.7H1415.6" stroke="#00b9c6"/>
<path d="M1415.1 388.7H1420.4" stroke="#02b7cc"/>
<path d="M1419.9 388.7H1429.8" stroke="#08b4d0"/>
<path d="M1429.3 388.7H1434.6" stroke="#04b6ce"/>
<path d="M1434.1 388.7H1439.3" stroke="#02b7cc"/>
<path d="M1438.8 388.7H1444.0" stroke="#01b8c9"/>
<path d="M1443.5 388.7H1448.8" stroke="#0dbdbc"/>
<path d="M1448.3 388.7H1453.5" stroke="#28c2ab"/>
<path d="M1453.0 388.7H1458.2" stroke="#36c898"/>
<path d="M1457.7 388.7H1463.0" stroke="#43cb8a"/>
<path d="M1462.5 388.7H1467.7" stroke="#57cc7a"/>
<path d="M1467.2 388.7H1472.4" stroke="#66cd6d"/>
<path d="M1471.9 388.7H1477.2" stroke="#48cb86"/>
<path d="M1476.7 388.7H1481.9" stroke="#34c79c"/>
<path d="M1481.4 388.7H1486.6" stroke="#28c2ab"/>
<path d="M1486.1 388.7H1491.4" stroke="#17bfb6"/>
<path d="M1490.9 388.7H1496.1" stroke="#04bbc1"/>
<path d="M1495.6 388.7H1500.9" stroke="#01bac4"/>
<path d="M1500.4 388.7H1505.6" stroke="#00b9c6"/>
<path d="M1505.1 388.7H1510.3" stroke="#02b7cc"/>
<path d="M1509.8 388.7H1519.8" stroke="#01b8c9"/>
<path d="M1519.3 388.7H1529.3" stroke="#00b9c6"/>
<path d="M1528.8 388.7H1538.7" stroke="#01bac4"/>
<path d="M1538.2 388.7H1543.5" stroke="#0dbdbc"/>
<path d="M1543.0 388.7H1548.2" stroke="#17bfb6"/>
<path d="M1547.7 388.7H1552.9" stroke="#21c1b1"/>
<path d="M1552.4 388.7H1557.7" stroke="#28c2ab"/>
<path d="M1557.2 388.7H1562.4" stroke="#25c2ae"/>
<path d="M1561.9 388.7H1571.9" stroke="#21c1b1"/>
<path d="M1571.4 388.7H1576.6" stroke="#1cc0b4"/>
<path d="M1576.1 388.7H1581.3" stroke="#21c1b1"/>
<path d="M1580.8 388.7H1586.1" stroke="#25c2ae"/>
<path d="M1585.6 388.7H1590.8" stroke="#28c2ab"/>
<path d="M1590.3 388.7H1595.5" stroke="#2bc3a8"/>
<path d="M1595.0 388.7H1600.3" stroke="#2dc4a5"/>
<path d="M1599.8 388.7H1605.0" stroke="#30c5a2"/>
<path d="M1604.5 388.7H1609.8" stroke="#2bc3a8"/>
<path d="M1609.3 388.7H1614.5" stroke="#28c2ab"/>
<path d="M1614.0 388.7H1619.2" stroke="#21c1b1"/>
<path d="M1618.7 388.7H1624.0" stroke="#17bfb6"/>
<path d="M1623.5 388.7H1628.7" stroke="#04bbc1"/>
<path d="M1628.2 388.7H1633.4" stroke="#08b4d0"/>
<path d="M1632.9 388.7H1638.2" stroke="#18addb"/>
<path d="M1637.7 388.7H1642.9" stroke="#1ea7e1"/>
<path d="M1642.4 388.7H1647.6" stroke="#21a3e3"/>
<path d="M1647.1 388.7H1652.4" stroke="#23a1e4"/>
<path d="M1651.9 388.7H1657.1" stroke="#259de6"/>
<path d="M1003.2 417.1H1008.4" stroke="#2798ea"/>
<path d="M1007.9 417.1H1013.2" stroke="#259de6"/>
<path d="M1012.7 417.1H1017.9" stroke="#21a3e3"/>
<path d="M1017.4 417.1H1022.6" stroke="#1ea7e1"/>
<path d="M1022.1 417.1H1027.4" stroke="#04b6ce"/>
<path d="M1026.9 417.1H1032.1" stroke="#12beb9"/>
<path d="M1031.6 417.1H1036.8" stroke="#2dc4a5"/>
<path d="M1036.3 417.1H1041.6" stroke="#48cb86"/>
<path d="M1041.1 417.1H1046.3" stroke="#77cc60"/>
<path d="M1045.8 417.1H1051.0" stroke="#aac73a"/>
<path d="M1050.5 417.1H1055.8" stroke="#b4c533"/>
<path d="M1055.3 417.1H1060.5" stroke="#bac430"/>
<path d="M1060.0 417.1H1065.3" stroke="#9fc942"/>
<path d="M1064.8 417.1H1070.0" stroke="#71cd64"/>
<path d="M1069.5 417.1H1074.7" stroke="#43cb8a"/>
<path d="M1074.2 417.1H1079.5" stroke="#36c898"/>
<path d="M1079.0 417.1H1084.2" stroke="#30c5a2"/>
<path d="M1083.7 417.1H1088.9" stroke="#2bc3a8"/>
<path d="M1088.4 417.1H1098.4" stroke="#28c2ab"/>
<path d="M1097.9 417.1H1103.1" stroke="#25c2ae"/>
<path d="M1102.6 417.1H1112.6" stroke="#21c1b1"/>
<path d="M1112.1 417.1H1117.3" stroke="#12beb9"/>
<path d="M1116.8 417.1H1122.1" stroke="#00b9c6"/>
<path d="M1121.6 417.1H1126.8" stroke="#0cb3d3"/>
<path d="M1126.3 417.1H1131.5" stroke="#269ae9"/>
<path d="M1131.0 417.1H1136.3" stroke="#2e85f8"/>
<path d="M1135.8 417.1H1141.0" stroke="#3d70ff"/>
<path d="M1140.5 417.1H1145.7" stroke="#347afd"/>
<path d="M1145.2 417.1H1150.5" stroke="#2d8cf3"/>
<path d="M1150.0 417.1H1155.2" stroke="#1ea7e1"/>
<path d="M1154.7 417.1H1159.9" stroke="#13b0d7"/>
<path d="M1159.4 417.1H1164.7" stroke="#0cb3d3"/>
<path d="M1164.2 417.1H1169.4" stroke="#04b6ce"/>
<path d="M1168.9 417.1H1174.2" stroke="#02b7cc"/>
<path d="M1173.7 417.1H1178.9" stroke="#04b6ce"/>
<path d="M1178.4 417.1H1183.6" stroke="#0cb3d3"/>
<path d="M1183.1 417.1H1188.4" stroke="#16afd9"/>
<path d="M1187.9 417.1H1193.1" stroke="#1ea7e1"/>
<path d="M1192.6 417.1H1197.8" stroke="#259ce7"/>
<path d="M1197.3 417.1H1202.6" stroke="#2e83f9"/>
<path d="M1202.1 417.1H1212.0" stroke="#3975fe"/>
<path d="M1211.5 417.1H1216.8" stroke="#2d8ef1"/>
<path d="M1216.3 417.1H1221.5" stroke="#21a3e3"/>
<path d="M1221.0 417.1H1226.2" stroke="#0cb3d3"/>
<path d="M1225.7 417.1H1231.0" stroke="#0dbdbc"/>
<path d="M1230.5 417.1H1235.7" stroke="#17bfb6"/>
<path d="M1235.2 417.1H1240.4" stroke="#21c1b1"/>
<path d="M1239.9 417.1H1245.2" stroke="#28c2ab"/>
<path d="M1244.7 417.1H1249.9" stroke="#25c2ae"/>
<path d="M1249.4 417.1H1254.6" stroke="#1cc0b4"/>
<path d="M1254.1 417.1H1259.4" stroke="#17bfb6"/>
<path d="M1258.9 417.1H1264.1" stroke="#12beb9"/>
<path d="M1263.6 417.1H1268.8" stroke="#00b9c6"/>
<path d="M1268.3 417.1H1292.5" stroke="#0cb3d3"/>
<path d="M1292.0 417.1H1297.3" stroke="#01b8c9"/>
<path d="M1296.8 417.1H1302.0" stroke="#07bcbf"/>
<path d="M1301.5 417.1H1306.7" stroke="#1cc0b4"/>
<path d="M1306.2 417.1H1311.5" stroke="#28c2ab"/>
<path d="M1311.0 417.1H1316.2" stroke="#34c79c"/>
<path d="M1315.7 417.1H1320.9" stroke="#43cb8a"/>
<path d="M1320.4 417.1H1325.7" stroke="#52cc7e"/>
<path d="M1325.2 417.1H1330.4" stroke="#3fca8e"/>
<path d="M1329.9 417.1H1335.1" stroke="#34c79c"/>
<path d="M1334.6 417.1H1339.9" stroke="#21c1b1"/>
<path d="M1339.4 417.1H1344.6" stroke="#01bac4"/>
<path d="M1344.1 417.1H1349.3" stroke="#10b2d5"/>
<path d="M1348.8 417.1H1354.1" stroke="#1ea7e1"/>
<path d="M1353.6 417.1H1358.8" stroke="#21a3e3"/>
<path d="M1358.3 417.1H1363.5" stroke="#1ea7e1"/>
<path d="M1363.0 417.1H1368.3" stroke="#1caadf"/>
<path d="M1367.8 417.1H1373.0" stroke="#18addb"/>
<path d="M1372.5 417.1H1377.7" stroke="#16afd9"/>
<path d="M1377.2 417.1H1382.5" stroke="#13b0d7"/>
<path d="M1382.0 417.1H1387.2" stroke="#10b2d5"/>
<path d="M1386.7 417.1H1392.0" stroke="#0cb3d3"/>
<path d="M1391.5 417.1H1396.7" stroke="#08b4d0"/>
<path d="M1396.2 417.1H1401.4" stroke="#04b6ce"/>
<path d="M1400.9 417.1H1406.2" stroke="#02b7cc"/>
<path d="M1405.7 417.1H1410.9" stroke="#08b4d0"/>
<path d="M1410.4 417.1H1415.6" stroke="#13b0d7"/>
<path d="M1415.1 417.1H1420.4" stroke="#1caadf"/>
<path d="M1419.9 417.1H1425.1" stroke="#21a3e3"/>
<path d="M1424.6 417.1H1429.8" stroke="#249fe5"/>
<path d="M1429.3 417.1H1434.6" stroke="#259ce7"/>
<path d="M1434.1 417.1H1439.3" stroke="#269ae9"/>
<path d="M1438.8 417.1H1444.0" stroke="#2798ea"/>
<path d="M1443.5 417.1H1448.8" stroke="#249fe5"/>
<path d="M1448.3 417.1H1453.5" stroke="#1aacdd"/>
<path d="M1453.0 417.1H1458.2" stroke="#04b6ce"/>
<path d="M1457.7 417.1H1463.0" stroke="#0dbdbc"/>
<path d="M1462.5 417.1H1467.7" stroke="#2dc4a5"/>
<path d="M1467.2 417.1H1472.4" stroke="#43cb8a"/>
<path d="M1471.9 417.1H1477.2" stroke="#57cc7a"/>
<path d="M1476.7 417.1H1481.9" stroke="#66cd6d"/>
<path d="M1481.4 417.1H1486.6" stroke="#57cc7a"/>
<path d="M1486.1 417.1H1491.4" stroke="#43cb8a"/>
<path d="M1490.9 417.1H1496.1" stroke="#36c898"/>
<path d="M1495.6 417.1H1500.9" stroke="#28c2ab"/>
<path d="M1500.4 417.1H1505.6" stroke="#0dbdbc"/>
<path d="M1505.1 417.1H1510.3" stroke="#01b8c9"/>
<path d="M1509.8 417.1H1515.1" stroke="#0cb3d3"/>
<path d="M1514.6 417.1H1519.8" stroke="#18addb"/>
<path d="M1519.3 417.1H1529.3" stroke="#1aacdd"/>
<path d="M1528.8 417.1H1534.0" stroke="#1caadf"/>
<path d="M1533.5 417.1H1543.5" stroke="#1da8e0"/>
<path d="M1543.0 417.1H1548.2" stroke="#1ea7e1"/>
<path d="M1547.7 417.1H1552.9" stroke="#1caadf"/>
<path d="M1552.4 417.1H1557.7" stroke="#18addb"/>
<path d="M1557.2 417.1H1562.4" stroke="#13b0d7"/>
<path d="M1561.9 417.1H1567.1" stroke="#0cb3d3"/>
<path d="M1566.6 417.1H1571.9" stroke="#01bac4"/>
<path d="M1571.4 417.1H1576.6" stroke="#1cc0b4"/>
<path d="M1576.1 417.1H1581.3" stroke="#28c2ab"/>
<path d="M1580.8 417.1H1586.1" stroke="#2bc3a8"/>
<path d="M1585.6 417.1H1595.5" stroke="#2dc4a5"/>
<path d="M1595.0 417.1H1600.3" stroke="#21c1b1"/>
<path d="M1599.8 417.1H1605.0" stroke="#12beb9"/>
<path d="M1604.5 417.1H1609.8" stroke="#01bac4"/>
<path d="M1609.3 417.1H1614.5" stroke="#01b8c9"/>
<path d="M1614.0 417.1H1619.2" stroke="#04b6ce"/>
<path d="M1618.7 417.1H1624.0" stroke="#0cb3d3"/>
<path d="M1623.5 417.1H1628.7" stroke="#16afd9"/>
<path d="M1628.2 417.1H1633.4" stroke="#1caadf"/>
<path d="M1632.9 417.1H1638.2" stroke="#21a3e3"/>
<path d="M1637.7 417.1H1642.9" stroke="#249fe5"/>
<path d="M1642.4 417.1H1647.6" stroke="#259de6"/>
<path d="M1647.1 417.1H1652.4" stroke="#259ce7"/>
<path d="M1651.9 417.1H1657.1" stroke="#269ae9"/>
<path d="M1003.2 445.4H1008.4" stroke="#2798ea"/>
<path d="M1007.9 445.4H1013.2" stroke="#259ce7"/>
<path d="M1012.7 445.4H1017.9" stroke="#249fe5"/>
<path d="M1017.4 445.4H1022.6" stroke="#13b0d7"/>
<path d="M1022.1 445.4H1027.4" stroke="#07bcbf"/>
<path d="M1026.9 445.4H1032.1" stroke="#28c2ab"/>
<path d="M1031.6 445.4H1036.8" stroke="#3fca8e"/>
<path d="M1036.3 445.4H1041.6" stroke="#6bcd69"/>
<path d="M1041.1 445.4H1046.3" stroke="#99c946"/>
<path d="M1045.8 445.4H1051.0" stroke="#b4c533"/>
<path d="M1050.5 445.4H1060.5" stroke="#bfc32d"/>
<path d="M1060.0 445.4H1065.3" stroke="#99c946"/>
<path d="M1064.8 445.4H1070.0" stroke="#5ccc76"/>
<path d="M1069.5 445.4H1074.7" stroke="#32c69f"/>
<path d="M1074.2 445.4H1079.5" stroke="#17bfb6"/>
<path d="M1079.0 445.4H1084.2" stroke="#02b7cc"/>
<path d="M1083.7 445.4H1098.4" stroke="#18addb"/>
<path d="M1097.9 445.4H1103.1" stroke="#0cb3d3"/>
<path d="M1102.6 445.4H1107.9" stroke="#04bbc1"/>
<path d="M1107.4 445.4H1112.6" stroke="#1cc0b4"/>
<path d="M1112.1 445.4H1117.3" stroke="#25c2ae"/>
<path d="M1116.8 445.4H1122.1" stroke="#21c1b1"/>
<path d="M1121.6 445.4H1126.8" stroke="#07bcbf"/>
<path d="M1126.3 445.4H1131.5" stroke="#01b8c9"/>
<path d="M1131.0 445.4H1136.3" stroke="#08b4d0"/>
<path d="M1135.8 445.4H1141.0" stroke="#13b0d7"/>
<path d="M1140.5 445.4H1145.7" stroke="#18addb"/>
<path d="M1145.2 445.4H1150.5" stroke="#1aacdd"/>
<path d="M1150.0 445.4H1159.9" stroke="#1caadf"/>
<path d="M1159.4 445.4H1164.7" stroke="#1da8e0"/>
<path d="M1164.2 445.4H1197.8" stroke="#1ea7e1"/>
<path d="M1197.3 445.4H1202.6" stroke="#1da8e0"/>
<path d="M1202.1 445.4H1207.3" stroke="#1caadf"/>
<path d="M1206.8 445.4H1212.0" stroke="#1aacdd"/>
<path d="M1211.5 445.4H1216.8" stroke="#18addb"/>
<path d="M1216.3 445.4H1221.5" stroke="#02b7cc"/>
<path d="M1221.0 445.4H1226.2" stroke="#12beb9"/>
<path d="M1225.7 445.4H1231.0" stroke="#28c2ab"/>
<path d="M1230.5 445.4H1235.7" stroke="#34c79c"/>
<path d="M1235.2 445.4H1245.2" stroke="#36c898"/>
<path d="M1244.7 445.4H1264.1" stroke="#34c79c"/>
<path d="M1263.6 445.4H1278.3" stroke="#32c69f"/>
<path d="M1277.8 445.4H1292.5" stroke="#30c5a2"/>
<path d="M1292.0 445.4H1297.3" stroke="#34c79c"/>
<path d="M1296.8 445.4H1302.0" stroke="#3cc991"/>
<path d="M1301.5 445.4H1306.7" stroke="#48cb86"/>
<path d="M1306.2 445.4H1311.5" stroke="#57cc7a"/>
<path d="M1311.0 445.4H1316.2" stroke="#5ccc76"/>
<path d="M1315.7 445.4H1320.9" stroke="#66cd6d"/>
<path d="M1320.4 445.4H1325.7" stroke="#61cd72"/>
<path d="M1325.2 445.4H1330.4" stroke="#48cb86"/>
<path d="M1329.9 445.4H1335.1" stroke="#36c898"/>
<path d="M1334.6 445.4H1339.9" stroke="#30c5a2"/>
<path d="M1339.4 445.4H1344.6" stroke="#25c2ae"/>
<path d="M1344.1 445.4H1349.3" stroke="#17bfb6"/>
<path d="M1348.8 445.4H1354.1" stroke="#0dbdbc"/>
<path d="M1353.6 445.4H1363.5" stroke="#07bcbf"/>
<path d="M1363.0 445.4H1368.3" stroke="#04bbc1"/>
<path d="M1367.8 445.4H1373.0" stroke="#01bac4"/>
<path d="M1372.5 445.4H1382.5" stroke="#00b9c6"/>
<path d="M1382.0 445.4H1387.2" stroke="#01b8c9"/>
<path d="M1386.7 445.4H1392.0" stroke="#04b6ce"/>
<path d="M1391.5 445.4H1396.7" stroke="#10b2d5"/>
<path d="M1396.2 445.4H1401.4" stroke="#18addb"/>
<path d="M1400.9 445.4H1406.2" stroke="#1da8e0"/>
<path d="M1405.7 445.4H1410.9" stroke="#20a5e2"/>
<path d="M1410.4 445.4H1415.6" stroke="#23a1e4"/>
<path d="M1415.1 445.4H1420.4" stroke="#259ce7"/>
<path d="M1419.9 445.4H1425.1" stroke="#2798ea"/>
<path d="M1424.6 445.4H1429.8" stroke="#2b92ee"/>
<path d="M1429.3 445.4H1434.6" stroke="#2d87f6"/>
<path d="M1434.1 445.4H1439.3" stroke="#2f81fa"/>
<path d="M1438.8 445.4H1444.0" stroke="#347afd"/>
<path d="M1443.5 445.4H1448.8" stroke="#317cfc"/>
<path d="M1448.3 445.4H1453.5" stroke="#2c90f0"/>
<path d="M1453.0 445.4H1458.2" stroke="#1caadf"/>
<path d="M1457.7 445.4H1463.0" stroke="#0dbdbc"/>
<path d="M1462.5 445.4H1467.7" stroke="#2dc4a5"/>
<path d="M1467.2 445.4H1472.4" stroke="#48cb86"/>
<path d="M1471.9 445.4H1477.2" stroke="#77cc60"/>
<path d="M1476.7 445.4H1481.9" stroke="#94ca4a"/>
<path d="M1481.4 445.4H1486.6" stroke="#99c946"/>
<path d="M1486.1 445.4H1491.4" stroke="#7dcc5c"/>
<path d="M1490.9 445.4H1496.1" stroke="#43cb8a"/>
<path d="M1495.6 445.4H1500.9" stroke="#17bfb6"/>
<path d="M1500.4 445.4H1505.6" stroke="#08b4d0"/>
<path d="M1505.1 445.4H1510.3" stroke="#21a3e3"/>
<path d="M1509.8 445.4H1515.1" stroke="#259de6"/>
<path d="M1514.6 445.4H1519.8" stroke="#259ce7"/>
<path d="M1519.3 445.4H1524.5" stroke="#2798ea"/>
<path d="M1524.0 445.4H1529.3" stroke="#2896ec"/>
<path d="M1528.8 445.4H1534.0" stroke="#2994ed"/>
<path d="M1533.5 445.4H1538.7" stroke="#2b92ee"/>
<path d="M1538.2 445.4H1543.5" stroke="#2d8ef1"/>
<path d="M1543.0 445.4H1548.2" stroke="#2d8cf3"/>
<path d="M1547.7 445.4H1552.9" stroke="#2d8af5"/>
<path d="M1552.4 445.4H1557.7" stroke="#2d87f6"/>
<path d="M1557.2 445.4H1562.4" stroke="#2e85f8"/>
<path d="M1561.9 445.4H1567.1" stroke="#2798ea"/>
<path d="M1566.6 445.4H1571.9" stroke="#1aacdd"/>
<path d="M1571.4 445.4H1576.6" stroke="#01bac4"/>
<path d="M1576.1 445.4H1595.5" stroke="#28c2ab"/>
<path d="M1595.0 445.4H1600.3" stroke="#17bfb6"/>
<path d="M1599.8 445.4H1605.0" stroke="#04b6ce"/>
<path d="M1604.5 445.4H1609.8" stroke="#16afd9"/>
<path d="M1609.3 445.4H1614.5" stroke="#1caadf"/>
<path d="M1614.0 445.4H1619.2" stroke="#20a5e2"/>
<path d="M1618.7 445.4H1624.0" stroke="#249fe5"/>
<path d="M1623.5 445.4H1628.7" stroke="#259de6"/>
<path d="M1628.2 445.4H1633.4" stroke="#269ae9"/>
<path d="M1632.9 445.4H1638.2" stroke="#2798ea"/>
<path d="M1637.7 445.4H1642.9" stroke="#2896ec"/>
<path d="M1642.4 445.4H1652.4" stroke="#2798ea"/>
<path d="M1651.9 445.4H1657.1" stroke="#269ae9"/>
<path d="M1003.2 473.8H1008.4" stroke="#2896ec"/>
<path d="M1007.9 473.8H1017.9" stroke="#2798ea"/>
<path d="M1017.4 473.8H1022.6" stroke="#269ae9"/>
<path d="M1022.1 473.8H1027.4" stroke="#21a3e3"/>
<path d="M1026.9 473.8H1032.1" stroke="#1caadf"/>
<path d="M1031.6 473.8H1036.8" stroke="#10b2d5"/>
<path d="M1036.3 473.8H1041.6" stroke="#01b8c9"/>
<path d="M1041.1 473.8H1046.3" stroke="#0dbdbc"/>
<path d="M1045.8 473.8H1060.5" stroke="#1cc0b4"/>
<path d="M1060.0 473.8H1065.3" stroke="#12beb9"/>
<path d="M1064.8 473.8H1070.0" stroke="#00b9c6"/>
<path d="M1069.5 473.8H1074.7" stroke="#0cb3d3"/>
<path d="M1074.2 473.8H1079.5" stroke="#21a3e3"/>
<path d="M1079.0 473.8H1084.2" stroke="#2b92ee"/>
<path d="M1083.7 473.8H1088.9" stroke="#2d87f6"/>
<path d="M1088.4 473.8H1093.7" stroke="#307ffb"/>
<path d="M1093.2 473.8H1098.4" stroke="#2d87f6"/>
<path d="M1097.9 473.8H1103.1" stroke="#2c90f0"/>
<path d="M1102.6 473.8H1107.9" stroke="#259de6"/>
<path d="M1107.4 473.8H1112.6" stroke="#1aacdd"/>
<path d="M1112.1 473.8H1117.3" stroke="#08b4d0"/>
<path d="M1116.8 473.8H1122.1" stroke="#02b7cc"/>
<path d="M1121.6 473.8H1126.8" stroke="#00b9c6"/>
<path d="M1126.3 473.8H1131.5" stroke="#0cb3d3"/>
<path d="M1131.0 473.8H1136.3" stroke="#1caadf"/>
<path d="M1135.8 473.8H1141.0" stroke="#259de6"/>
<path d="M1140.5 473.8H1145.7" stroke="#2c90f0"/>
<path d="M1145.2 473.8H1150.5" stroke="#2e83f9"/>
<path d="M1150.0 473.8H1155.2" stroke="#347afd"/>
<path d="M1154.7 473.8H1159.9" stroke="#3b73ff"/>
<path d="M1159.4 473.8H1174.2" stroke="#3f6eff"/>
<path d="M1173.7 473.8H1178.9" stroke="#3975fe"/>
<path d="M1178.4 473.8H1183.6" stroke="#307ffb"/>
<path d="M1183.1 473.8H1188.4" stroke="#2d87f6"/>
<path d="M1187.9 473.8H1193.1" stroke="#2d8ef1"/>
<path d="M1192.6 473.8H1197.8" stroke="#2994ed"/>
<path d="M1197.3 473.8H1202.6" stroke="#269ae9"/>
<path d="M1202.1 473.8H1207.3" stroke="#259de6"/>
<path d="M1206.8 473.8H1212.0" stroke="#23a1e4"/>
<path d="M1211.5 473.8H1216.8" stroke="#20a5e2"/>
<path d="M1216.3 473.8H1221.5" stroke="#1caadf"/>
<path d="M1221.0 473.8H1226.2" stroke="#16afd9"/>
<path d="M1225.7 473.8H1231.0" stroke="#0cb3d3"/>
<path d="M1230.5 473.8H1306.7" stroke="#02b7cc"/>
<path d="M1306.2 473.8H1311.5" stroke="#04b6ce"/>
<path d="M1311.0 473.8H1320.9" stroke="#08b4d0"/>
<path d="M1320.4 473.8H1325.7" stroke="#0cb3d3"/>
<path d="M1325.2 473.8H1330.4" stroke="#10b2d5"/>
<path d="M1329.9 473.8H1335.1" stroke="#13b0d7"/>
<path d="M1334.6 473.8H1339.9" stroke="#16afd9"/>
<path d="M1339.4 473.8H1344.6" stroke="#1aacdd"/>
<path d="M1344.1 473.8H1349.3" stroke="#1da8e0"/>
<path d="M1348.8 473.8H1354.1" stroke="#20a5e2"/>
<path d="M1353.6 473.8H1358.8" stroke="#23a1e4"/>
<path d="M1358.3 473.8H1363.5" stroke="#249fe5"/>
<path d="M1363.0 473.8H1368.3" stroke="#259de6"/>
<path d="M1367.8 473.8H1373.0" stroke="#259ce7"/>
<path d="M1372.5 473.8H1377.7" stroke="#2798ea"/>
<path d="M1377.2 473.8H1382.5" stroke="#2896ec"/>
<path d="M1382.0 473.8H1387.2" stroke="#2994ed"/>
<path d="M1386.7 473.8H1392.0" stroke="#2b92ee"/>
<path d="M1391.5 473.8H1396.7" stroke="#2d8ef1"/>
<path d="M1396.2 473.8H1401.4" stroke="#2d8af5"/>
<path d="M1400.9 473.8H1406.2" stroke="#2d87f6"/>
<path d="M1405.7 473.8H1410.9" stroke="#2e83f9"/>
<path d="M1410.4 473.8H1415.6" stroke="#307ffb"/>
<path d="M1415.1 473.8H1434.6" stroke="#317cfc"/>
<path d="M1434.1 473.8H1444.0" stroke="#347afd"/>
<path d="M1443.5 473.8H1448.8" stroke="#317cfc"/>
<path d="M1448.3 473.8H1453.5" stroke="#2f81fa"/>
<path d="M1453.0 473.8H1458.2" stroke="#2e85f8"/>
<path d="M1457.7 473.8H1463.0" stroke="#2d8cf3"/>
<path d="M1462.5 473.8H1467.7" stroke="#259ce7"/>
<path d="M1467.2 473.8H1472.4" stroke="#16afd9"/>
<path d="M1471.9 473.8H1477.2" stroke="#07bcbf"/>
<path d="M1476.7 473.8H1481.9" stroke="#25c2ae"/>
<path d="M1481.4 473.8H1486.6" stroke="#04bbc1"/>
<path d="M1486.1 473.8H1491.4" stroke="#10b2d5"/>
<path d="M1490.9 473.8H1496.1" stroke="#21a3e3"/>
<path d="M1495.6 473.8H1500.9" stroke="#2d8af5"/>
<path d="M1500.4 473.8H1505.6" stroke="#416bfe"/>
<path d="M1505.1 473.8H1510.3" stroke="#4757f7"/>
<path d="M1509.8 473.8H1515.1" stroke="#4743e7"/>
<path d="M1514.6 473.8H1519.8" stroke="#4741e5"/>
<path d="M1519.3 473.8H1524.5" stroke="#473fe2"/>
<path d="M1524.0 473.8H1529.3" stroke="#4741e5"/>
<path d="M1528.8 473.8H1534.0" stroke="#4850f3"/>
<path d="M1533.5 473.8H1538.7" stroke="#4660fc"/>
<path d="M1538.2 473.8H1543.5" stroke="#3d70ff"/>
<path d="M1543.0 473.8H1548.2" stroke="#307ffb"/>
<path d="M1547.7 473.8H1552.9" stroke="#2e85f8"/>
<path d="M1552.4 473.8H1557.7" stroke="#2d8ef1"/>
<path d="M1557.2 473.8H1562.4" stroke="#2896ec"/>
<path d="M1561.9 473.8H1567.1" stroke="#259de6"/>
<path d="M1566.6 473.8H1571.9" stroke="#23a1e4"/>
<path d="M1571.4 473.8H1576.6" stroke="#20a5e2"/>
<path d="M1576.1 473.8H1581.3" stroke="#1da8e0"/>
<path d="M1580.8 473.8H1586.1" stroke="#18addb"/>
<path d="M1585.6 473.8H1590.8" stroke="#13b0d7"/>
<path d="M1590.3 473.8H1595.5" stroke="#10b2d5"/>
<path d="M1595.0 473.8H1600.3" stroke="#16afd9"/>
<path d="M1599.8 473.8H1605.0" stroke="#1aacdd"/>
<path d="M1604.5 473.8H1609.8" stroke="#1caadf"/>
<path d="M1609.3 473.8H1614.5" stroke="#20a5e2"/>
<path d="M1614.0 473.8H1619.2" stroke="#23a1e4"/>
<path d="M1618.7 473.8H1624.0" stroke="#259ce7"/>
<path d="M1623.5 473.8H1628.7" stroke="#2896ec"/>
<path d="M1628.2 473.8H1638.2" stroke="#2994ed"/>
<path d="M1637.7 473.8H1647.6" stroke="#2896ec"/>
<path d="M1647.1 473.8H1652.4" stroke="#2798ea"/>
<path d="M1651.9 473.8H1657.1" stroke="#269ae9"/>
<path d="M1003.2 502.1H1008.4" stroke="#2d8ef1"/>
<path d="M1007.9 502.1H1013.2" stroke="#2c90f0"/>
<path d="M1012.7 502.1H1017.9" stroke="#2994ed"/>
<path d="M1017.4 502.1H1022.6" stroke="#2896ec"/>
<path d="M1022.1 502.1H1027.4" stroke="#16afd9"/>
<path d="M1026.9 502.1H1032.1" stroke="#0dbdbc"/>
<path d="M1031.6 502.1H1036.8" stroke="#30c5a2"/>
<path d="M1036.3 502.1H1041.6" stroke="#52cc7e"/>
<path d="M1041.1 502.1H1046.3" stroke="#88cb53"/>
<path d="M1045.8 502.1H1051.0" stroke="#9fc942"/>
<path d="M1050.5 502.1H1055.8" stroke="#afc636"/>
<path d="M1055.3 502.1H1060.5" stroke="#aac73a"/>
<path d="M1060.0 502.1H1065.3" stroke="#a4c83e"/>
<path d="M1064.8 502.1H1070.0" stroke="#7dcc5c"/>
<path d="M1069.5 502.1H1074.7" stroke="#57cc7a"/>
<path d="M1074.2 502.1H1079.5" stroke="#39c895"/>
<path d="M1079.0 502.1H1084.2" stroke="#2dc4a5"/>
<path d="M1083.7 502.1H1088.9" stroke="#25c2ae"/>
<path d="M1088.4 502.1H1093.7" stroke="#1cc0b4"/>
<path d="M1093.2 502.1H1098.4" stroke="#12beb9"/>
<path d="M1097.9 502.1H1103.1" stroke="#0dbdbc"/>
<path d="M1102.6 502.1H1107.9" stroke="#07bcbf"/>
<path d="M1107.4 502.1H1112.6" stroke="#04bbc1"/>
<path d="M1112.1 502.1H1117.3" stroke="#01bac4"/>
<path d="M1116.8 502.1H1122.1" stroke="#00b9c6"/>
<path d="M1121.6 502.1H1126.8" stroke="#01b8c9"/>
<path d="M1126.3 502.1H1131.5" stroke="#02b7cc"/>
<path d="M1131.0 502.1H1136.3" stroke="#04b6ce"/>
<path d="M1135.8 502.1H1141.0" stroke="#0cb3d3"/>
<path d="M1140.5 502.1H1145.7" stroke="#10b2d5"/>
<path d="M1145.2 502.1H1150.5" stroke="#16afd9"/>
<path d="M1150.0 502.1H1155.2" stroke="#1aacdd"/>
<path d="M1154.7 502.1H1159.9" stroke="#1da8e0"/>
<path d="M1159.4 502.1H1164.7" stroke="#21a3e3"/>
<path d="M1164.2 502.1H1169.4" stroke="#259ce7"/>
<path d="M1168.9 502.1H1174.2" stroke="#2994ed"/>
<path d="M1173.7 502.1H1178.9" stroke="#2d8ef1"/>
<path d="M1178.4 502.1H1183.6" stroke="#2d87f6"/>
<path d="M1183.1 502.1H1188.4" stroke="#2d8cf3"/>
<path d="M1187.9 502.1H1193.1" stroke="#269ae9"/>
<path d="M1192.6 502.1H1197.8" stroke="#16afd9"/>
<path d="M1197.3 502.1H1202.6" stroke="#07bcbf"/>
<path d="M1202.1 502.1H1207.3" stroke="#25c2ae"/>
<path d="M1206.8 502.1H1212.0" stroke="#30c5a2"/>
<path d="M1211.5 502.1H1216.8" stroke="#39c895"/>
<path d="M1216.3 502.1H1221.5" stroke="#3fca8e"/>
<path d="M1221.0 502.1H1226.2" stroke="#48cb86"/>
<path d="M1225.7 502.1H1231.0" stroke="#52cc7e"/>
<path d="M1230.5 502.1H1235.7" stroke="#4dcc82"/>
<path d="M1235.2 502.1H1240.4" stroke="#3cc991"/>
<path d="M1239.9 502.1H1245.2" stroke="#34c79c"/>
<path d="M1244.7 502.1H1249.9" stroke="#21c1b1"/>
<path d="M1249.4 502.1H1254.6" stroke="#01bac4"/>
<path d="M1254.1 502.1H1259.4" stroke="#1aacdd"/>
<path d="M1258.9 502.1H1264.1" stroke="#2896ec"/>
<path d="M1263.6 502.1H1268.8" stroke="#2c90f0"/>
<path d="M1268.3 502.1H1273.6" stroke="#2d8cf3"/>
<path d="M1273.1 502.1H1278.3" stroke="#21a3e3"/>
<path d="M1277.8 502.1H1283.1" stroke="#00b9c6"/>
<path d="M1282.6 502.1H1287.8" stroke="#2bc3a8"/>
<path d="M1287.3 502.1H1292.5" stroke="#4dcc82"/>
<path d="M1292.0 502.1H1297.3" stroke="#6bcd69"/>
<path d="M1296.8 502.1H1306.7" stroke="#88cb53"/>
<path d="M1306.2 502.1H1320.9" stroke="#8ecb4f"/>
<path d="M1320.4 502.1H1325.7" stroke="#77cc60"/>
<path d="M1325.2 502.1H1330.4" stroke="#5ccc76"/>
<path d="M1329.9 502.1H1335.1" stroke="#36c898"/>
<path d="M1334.6 502.1H1339.9" stroke="#00b9c6"/>
<path d="M1339.4 502.1H1344.6" stroke="#0cb3d3"/>
<path d="M1344.1 502.1H1349.3" stroke="#1aacdd"/>
<path d="M1348.8 502.1H1354.1" stroke="#1da8e0"/>
<path d="M1353.6 502.1H1358.8" stroke="#1aacdd"/>
<path d="M1358.3 502.1H1363.5" stroke="#16afd9"/>
<path d="M1363.0 502.1H1368.3" stroke="#10b2d5"/>
<path d="M1367.8 502.1H1373.0" stroke="#13b0d7"/>
<path d="M1372.5 502.1H1377.7" stroke="#1aacdd"/>
<path d="M1377.2 502.1H1382.5" stroke="#1ea7e1"/>
<path d="M1382.0 502.1H1387.2" stroke="#249fe5"/>
<path d="M1386.7 502.1H1392.0" stroke="#259ce7"/>
<path d="M1391.5 502.1H1396.7" stroke="#2798ea"/>
<path d="M1396.2 502.1H1401.4" stroke="#2994ed"/>
<path d="M1400.9 502.1H1406.2" stroke="#2c90f0"/>
<path d="M1405.7 502.1H1410.9" stroke="#2d8cf3"/>
<path d="M1410.4 502.1H1415.6" stroke="#2d87f6"/>
<path d="M1415.1 502.1H1420.4" stroke="#2e85f8"/>
<path d="M1419.9 502.1H1439.3" stroke="#2e83f9"/>
<path d="M1438.8 502.1H1444.0" stroke="#2f81fa"/>
<path d="M1443.5 502.1H1448.8" stroke="#2d87f6"/>
<path d="M1448.3 502.1H1453.5" stroke="#2c90f0"/>
<path d="M1453.0 502.1H1458.2" stroke="#2798ea"/>
<path d="M1457.7 502.1H1463.0" stroke="#1caadf"/>
<path d="M1462.5 502.1H1467.7" stroke="#04bbc1"/>
<path d="M1467.2 502.1H1472.4" stroke="#28c2ab"/>
<path d="M1471.9 502.1H1477.2" stroke="#39c895"/>
<path d="M1476.7 502.1H1481.9" stroke="#4dcc82"/>
<path d="M1481.4 502.1H1486.6" stroke="#34c79c"/>
<path d="M1486.1 502.1H1491.4" stroke="#1cc0b4"/>
<path d="M1490.9 502.1H1496.1" stroke="#10b2d5"/>
<path d="M1495.6 502.1H1500.9" stroke="#2994ed"/>
<path d="M1500.4 502.1H1505.6" stroke="#3b73ff"/>
<path d="M1505.1 502.1H1510.3" stroke="#4855f6"/>
<path d="M1509.8 502.1H1515.1" stroke="#463cdf"/>
<path d="M1514.6 502.1H1519.8" stroke="#4538d8"/>
<path d="M1519.3 502.1H1524.5" stroke="#4433cc"/>
<path d="M1524.0 502.1H1529.3" stroke="#4847ec"/>
<path d="M1528.8 502.1H1534.0" stroke="#4367fd"/>
<path d="M1533.5 502.1H1538.7" stroke="#2e85f8"/>
<path d="M1538.2 502.1H1543.5" stroke="#2b92ee"/>
<path d="M1543.0 502.1H1548.2" stroke="#259de6"/>
<path d="M1547.7 502.1H1552.9" stroke="#1da8e0"/>
<path d="M1552.4 502.1H1557.7" stroke="#0cb3d3"/>
<path d="M1557.2 502.1H1562.4" stroke="#01b8c9"/>
<path d="M1561.9 502.1H1567.1" stroke="#04bbc1"/>
<path d="M1566.6 502.1H1571.9" stroke="#12beb9"/>
<path d="M1571.4 502.1H1590.8" stroke="#1cc0b4"/>
<path d="M1590.3 502.1H1595.5" stroke="#17bfb6"/>
<path d="M1595.0 502.1H1600.3" stroke="#00b9c6"/>
<path d="M1599.8 502.1H1605.0" stroke="#10b2d5"/>
<path d="M1604.5 502.1H1609.8" stroke="#18addb"/>
<path d="M1609.3 502.1H1614.5" stroke="#1da8e0"/>
<path d="M1614.0 502.1H1619.2" stroke="#21a3e3"/>
<path d="M1618.7 502.1H1628.7" stroke="#249fe5"/>
<path d="M1628.2 502.1H1633.4" stroke="#259de6"/>
<path d="M1632.9 502.1H1638.2" stroke="#259ce7"/>
<path d="M1637.7 502.1H1647.6" stroke="#269ae9"/>
<path d="M1647.1 502.1H1652.4" stroke="#2798ea"/>
<path d="M1651.9 502.1H1657.1" stroke="#2896ec"/>
<path d="M1003.2 530.5H1008.4" stroke="#1da8e0"/>
<path d="M1007.9 530.5H1013.2" stroke="#1caadf"/>
<path d="M1012.7 530.5H1017.9" stroke="#1aacdd"/>
<path d="M1017.4 530.5H1022.6" stroke="#18addb"/>
<path d="M1022.1 530.5H1027.4" stroke="#10b2d5"/>
<path d="M1026.9 530.5H1032.1" stroke="#04b6ce"/>
<path d="M1031.6 530.5H1036.8" stroke="#00b9c6"/>
<path d="M1036.3 530.5H1041.6" stroke="#21c1b1"/>
<path d="M1041.1 530.5H1046.3" stroke="#3fca8e"/>
<path d="M1045.8 530.5H1051.0" stroke="#71cd64"/>
<path d="M1050.5 530.5H1055.8" stroke="#9fc942"/>
<path d="M1055.3 530.5H1060.5" stroke="#afc636"/>
<path d="M1060.0 530.5H1065.3" stroke="#bfc32d"/>
<path d="M1064.8 530.5H1070.0" stroke="#bac430"/>
<path d="M1069.5 530.5H1074.7" stroke="#b4c533"/>
<path d="M1074.2 530.5H1079.5" stroke="#afc636"/>
<path d="M1079.0 530.5H1084.2" stroke="#9fc942"/>
<path d="M1083.7 530.5H1088.9" stroke="#94ca4a"/>
<path d="M1088.4 530.5H1093.7" stroke="#7dcc5c"/>
<path d="M1093.2 530.5H1098.4" stroke="#61cd72"/>
<path d="M1097.9 530.5H1103.1" stroke="#3fca8e"/>
<path d="M1102.6 530.5H1107.9" stroke="#28c2ab"/>
<path d="M1107.4 530.5H1112.6" stroke="#04bbc1"/>
<path d="M1112.1 530.5H1117.3" stroke="#16afd9"/>
<path d="M1116.8 530.5H1122.1" stroke="#2896ec"/>
<path d="M1121.6 530.5H1131.5" stroke="#347afd"/>
<path d="M1131.0 530.5H1136.3" stroke="#307ffb"/>
<path d="M1135.8 530.5H1141.0" stroke="#2d8cf3"/>
<path d="M1140.5 530.5H1145.7" stroke="#2994ed"/>
<path d="M1145.2 530.5H1150.5" stroke="#2896ec"/>
<path d="M1150.0 530.5H1155.2" stroke="#269ae9"/>
<path d="M1154.7 530.5H1164.7" stroke="#259ce7"/>
<path d="M1164.2 530.5H1169.4" stroke="#269ae9"/>
<path d="M1168.9 530.5H1174.2" stroke="#2896ec"/>
<path d="M1173.7 530.5H1178.9" stroke="#2c90f0"/>
<path d="M1178.4 530.5H1183.6" stroke="#2d8af5"/>
<path d="M1183.1 530.5H1188.4" stroke="#2d8cf3"/>
<path d="M1187.9 530.5H1193.1" stroke="#269ae9"/>
<path d="M1192.6 530.5H1197.8" stroke="#0cb3d3"/>
<path d="M1197.3 530.5H1202.6" stroke="#21c1b1"/>
<path d="M1202.1 530.5H1207.3" stroke="#30c5a2"/>
<path d="M1206.8 530.5H1212.0" stroke="#3cc991"/>
<path d="M1211.5 530.5H1216.8" stroke="#4dcc82"/>
<path d="M1216.3 530.5H1221.5" stroke="#57cc7a"/>
<path d="M1221.0 530.5H1226.2" stroke="#5ccc76"/>
<path d="M1225.7 530.5H1231.0" stroke="#61cd72"/>
<path d="M1230.5 530.5H1235.7" stroke="#66cd6d"/>
<path d="M1235.2 530.5H1240.4" stroke="#57cc7a"/>
<path d="M1239.9 530.5H1245.2" stroke="#3fca8e"/>
<path d="M1244.7 530.5H1249.9" stroke="#32c69f"/>
<path d="M1249.4 530.5H1254.6" stroke="#07bcbf"/>
<path d="M1254.1 530.5H1259.4" stroke="#1aacdd"/>
<path d="M1258.9 530.5H1264.1" stroke="#23a1e4"/>
<path d="M1263.6 530.5H1268.8" stroke="#2896ec"/>
<path d="M1268.3 530.5H1273.6" stroke="#259ce7"/>
<path d="M1273.1 530.5H1278.3" stroke="#20a5e2"/>
<path d="M1277.8 530.5H1283.1" stroke="#00b9c6"/>
<path d="M1282.6 530.5H1287.8" stroke="#2dc4a5"/>
<path d="M1287.3 530.5H1292.5" stroke="#43cb8a"/>
<path d="M1292.0 530.5H1297.3" stroke="#6bcd69"/>
<path d="M1296.8 530.5H1302.0" stroke="#94ca4a"/>
<path d="M1301.5 530.5H1306.7" stroke="#99c946"/>
<path d="M1306.2 530.5H1311.5" stroke="#9fc942"/>
<path d="M1311.0 530.5H1316.2" stroke="#a4c83e"/>
<path d="M1315.7 530.5H1320.9" stroke="#83cc57"/>
<path d="M1320.4 530.5H1325.7" stroke="#5ccc76"/>
<path d="M1325.2 530.5H1330.4" stroke="#39c895"/>
<path d="M1329.9 530.5H1335.1" stroke="#28c2ab"/>
<path d="M1334.6 530.5H1339.9" stroke="#07bcbf"/>
<path d="M1339.4 530.5H1344.6" stroke="#10b2d5"/>
<path d="M1344.1 530.5H1349.3" stroke="#23a1e4"/>
<path d="M1348.8 530.5H1354.1" stroke="#2896ec"/>
<path d="M1353.6 530.5H1358.8" stroke="#2b92ee"/>
<path d="M1358.3 530.5H1363.5" stroke="#2c90f0"/>
<path d="M1363.0 530.5H1373.0" stroke="#2d8ef1"/>
<path d="M1372.5 530.5H1377.7" stroke="#2c90f0"/>
<path d="M1377.2 530.5H1382.5" stroke="#2b92ee"/>
<path d="M1382.0 530.5H1392.0" stroke="#2994ed"/>
<path d="M1391.5 530.5H1396.7" stroke="#2b92ee"/>
<path d="M1396.2 530.5H1401.4" stroke="#2c90f0"/>
<path d="M1400.9 530.5H1406.2" stroke="#2d8ef1"/>
<path d="M1405.7 530.5H1410.9" stroke="#2d8cf3"/>
<path d="M1410.4 530.5H1425.1" stroke="#2d8af5"/>
<path d="M1424.6 530.5H1434.6" stroke="#2d87f6"/>
<path d="M1434.1 530.5H1444.0" stroke="#2e85f8"/>
<path d="M1443.5 530.5H1448.8" stroke="#2d8cf3"/>
<path d="M1448.3 530.5H1453.5" stroke="#2994ed"/>
<path d="M1453.0 530.5H1458.2" stroke="#259ce7"/>
<path d="M1457.7 530.5H1463.0" stroke="#20a5e2"/>
<path d="M1462.5 530.5H1467.7" stroke="#16afd9"/>
<path d="M1467.2 530.5H1472.4" stroke="#04b6ce"/>
<path d="M1471.9 530.5H1486.6" stroke="#00b9c6"/>
<path d="M1486.1 530.5H1491.4" stroke="#16afd9"/>
<path d="M1490.9 530.5H1496.1" stroke="#23a1e4"/>
<path d="M1495.6 530.5H1500.9" stroke="#2e85f8"/>
<path d="M1500.4 530.5H1505.6" stroke="#4660fc"/>
<path d="M1505.1 530.5H1510.3" stroke="#4743e7"/>
<path d="M1509.8 530.5H1519.8" stroke="#4230c4"/>
<path d="M1519.3 530.5H1524.5" stroke="#422ebf"/>
<path d="M1524.0 530.5H1529.3" stroke="#4741e5"/>
<path d="M1528.8 530.5H1534.0" stroke="#4660fc"/>
<path d="M1533.5 530.5H1538.7" stroke="#2f81fa"/>
<path d="M1538.2 530.5H1543.5" stroke="#2c90f0"/>
<path d="M1543.0 530.5H1548.2" stroke="#259de6"/>
<path d="M1547.7 530.5H1552.9" stroke="#1aacdd"/>
<path d="M1552.4 530.5H1557.7" stroke="#08b4d0"/>
<path d="M1557.2 530.5H1562.4" stroke="#01bac4"/>
<path d="M1561.9 530.5H1567.1" stroke="#17bfb6"/>
<path d="M1566.6 530.5H1586.1" stroke="#1cc0b4"/>
<path d="M1585.6 530.5H1590.8" stroke="#0dbdbc"/>
<path d="M1590.3 530.5H1595.5" stroke="#00b9c6"/>
<path d="M1595.0 530.5H1600.3" stroke="#04b6ce"/>
<path d="M1599.8 530.5H1605.0" stroke="#0cb3d3"/>
<path d="M1604.5 530.5H1609.8" stroke="#13b0d7"/>
<path d="M1609.3 530.5H1614.5" stroke="#18addb"/>
<path d="M1614.0 530.5H1619.2" stroke="#1caadf"/>
<path d="M1618.7 530.5H1624.0" stroke="#1ea7e1"/>
<path d="M1623.5 530.5H1628.7" stroke="#20a5e2"/>
<path d="M1628.2 530.5H1633.4" stroke="#21a3e3"/>
<path d="M1632.9 530.5H1638.2" stroke="#23a1e4"/>
<path d="M1637.7 530.5H1642.9" stroke="#249fe5"/>
<path d="M1642.4 530.5H1647.6" stroke="#259de6"/>
<path d="M1647.1 530.5H1652.4" stroke="#259ce7"/>
<path d="M1651.9 530.5H1657.1" stroke="#269ae9"/>
<path d="M1003.2 558.9H1008.4" stroke="#1caadf"/>
<path d="M1007.9 558.9H1013.2" stroke="#20a5e2"/>
<path d="M1012.7 558.9H1017.9" stroke="#259de6"/>
<path d="M1017.4 558.9H1022.6" stroke="#2b92ee"/>
<path d="M1022.1 558.9H1036.8" stroke="#2e83f9"/>
<path d="M1036.3 558.9H1041.6" stroke="#2d8af5"/>
<path d="M1041.1 558.9H1046.3" stroke="#18addb"/>
<path d="M1045.8 558.9H1051.0" stroke="#21c1b1"/>
<path d="M1050.5 558.9H1055.8" stroke="#5ccc76"/>
<path d="M1055.3 558.9H1060.5" stroke="#a4c83e"/>
<path d="M1060.0 558.9H1065.3" stroke="#c8c129"/>
<path d="M1064.8 558.9H1070.0" stroke="#debc29"/>
<path d="M1069.5 558.9H1074.7" stroke="#e3bc2b"/>
<path d="M1074.2 558.9H1079.5" stroke="#eaba30"/>
<path d="M1079.0 558.9H1084.2" stroke="#e3bc2b"/>
<path d="M1083.7 558.9H1088.9" stroke="#d2bf27"/>
<path d="M1088.4 558.9H1093.7" stroke="#bfc32d"/>
<path d="M1093.2 558.9H1098.4" stroke="#afc636"/>
<path d="M1097.9 558.9H1103.1" stroke="#7dcc5c"/>
<path d="M1102.6 558.9H1107.9" stroke="#34c79c"/>
<path d="M1107.4 558.9H1112.6" stroke="#0dbdbc"/>
<path d="M1112.1 558.9H1117.3" stroke="#18addb"/>
<path d="M1116.8 558.9H1122.1" stroke="#20a5e2"/>
<path d="M1121.6 558.9H1126.8" stroke="#259de6"/>
<path d="M1126.3 558.9H1131.5" stroke="#2798ea"/>
<path d="M1131.0 558.9H1136.3" stroke="#259de6"/>
<path d="M1135.8 558.9H1141.0" stroke="#21a3e3"/>
<path d="M1140.5 558.9H1145.7" stroke="#1caadf"/>
<path d="M1145.2 558.9H1150.5" stroke="#16afd9"/>
<path d="M1150.0 558.9H1155.2" stroke="#0cb3d3"/>
<path d="M1154.7 558.9H1159.9" stroke="#02b7cc"/>
<path d="M1159.4 558.9H1164.7" stroke="#01b8c9"/>
<path d="M1164.2 558.9H1169.4" stroke="#04b6ce"/>
<path d="M1168.9 558.9H1174.2" stroke="#0cb3d3"/>
<path d="M1173.7 558.9H1178.9" stroke="#10b2d5"/>
<path d="M1178.4 558.9H1183.6" stroke="#13b0d7"/>
<path d="M1183.1 558.9H1188.4" stroke="#18addb"/>
<path d="M1187.9 558.9H1193.1" stroke="#04b6ce"/>
<path d="M1192.6 558.9H1197.8" stroke="#12beb9"/>
<path d="M1197.3 558.9H1202.6" stroke="#28c2ab"/>
<path d="M1202.1 558.9H1207.3" stroke="#2bc3a8"/>
<path d="M1206.8 558.9H1212.0" stroke="#2dc4a5"/>
<path d="M1211.5 558.9H1221.5" stroke="#30c5a2"/>
<path d="M1221.0 558.9H1226.2" stroke="#32c69f"/>
<path d="M1225.7 558.9H1254.6" stroke="#34c79c"/>
<path d="M1254.1 558.9H1259.4" stroke="#30c5a2"/>
<path d="M1258.9 558.9H1264.1" stroke="#2bc3a8"/>
<path d="M1263.6 558.9H1268.8" stroke="#25c2ae"/>
<path d="M1268.3 558.9H1273.6" stroke="#1cc0b4"/>
<path d="M1273.1 558.9H1278.3" stroke="#21c1b1"/>
<path d="M1277.8 558.9H1283.1" stroke="#25c2ae"/>
<path d="M1282.6 558.9H1287.8" stroke="#2bc3a8"/>
<path d="M1287.3 558.9H1292.5" stroke="#32c69f"/>
<path d="M1292.0 558.9H1297.3" stroke="#3fca8e"/>
<path d="M1296.8 558.9H1302.0" stroke="#57cc7a"/>
<path d="M1301.5 558.9H1306.7" stroke="#61cd72"/>
<path d="M1306.2 558.9H1311.5" stroke="#71cd64"/>
<path d="M1311.0 558.9H1316.2" stroke="#7dcc5c"/>
<path d="M1315.7 558.9H1320.9" stroke="#61cd72"/>
<path d="M1320.4 558.9H1325.7" stroke="#3fca8e"/>
<path d="M1325.2 558.9H1330.4" stroke="#32c69f"/>
<path d="M1329.9 558.9H1335.1" stroke="#1cc0b4"/>
<path d="M1334.6 558.9H1339.9" stroke="#10b2d5"/>
<path d="M1339.4 558.9H1344.6" stroke="#2798ea"/>
<path d="M1344.1 558.9H1349.3" stroke="#2d8af5"/>
<path d="M1348.8 558.9H1354.1" stroke="#317cfc"/>
<path d="M1353.6 558.9H1358.8" stroke="#3d70ff"/>
<path d="M1358.3 558.9H1363.5" stroke="#317cfc"/>
<path d="M1363.0 558.9H1368.3" stroke="#2e85f8"/>
<path d="M1367.8 558.9H1373.0" stroke="#2c90f0"/>
<path d="M1372.5 558.9H1377.7" stroke="#2798ea"/>
<path d="M1377.2 558.9H1382.5" stroke="#23a1e4"/>
<path d="M1382.0 558.9H1387.2" stroke="#1da8e0"/>
<path d="M1386.7 558.9H1392.0" stroke="#18addb"/>
<path d="M1391.5 558.9H1396.7" stroke="#16afd9"/>
<path d="M1396.2 558.9H1406.2" stroke="#13b0d7"/>
<path d="M1405.7 558.9H1415.6" stroke="#10b2d5"/>
<path d="M1415.1 558.9H1420.4" stroke="#13b0d7"/>
<path d="M1419.9 558.9H1425.1" stroke="#1caadf"/>
<path d="M1424.6 558.9H1429.8" stroke="#20a5e2"/>
<path d="M1429.3 558.9H1434.6" stroke="#249fe5"/>
<path d="M1434.1 558.9H1439.3" stroke="#2c90f0"/>
<path d="M1438.8 558.9H1444.0" stroke="#317cfc"/>
<path d="M1443.5 558.9H1448.8" stroke="#3678fe"/>
<path d="M1448.3 558.9H1453.5" stroke="#2d87f6"/>
<path d="M1453.0 558.9H1458.2" stroke="#23a1e4"/>
<path d="M1457.7 558.9H1463.0" stroke="#10b2d5"/>
<path d="M1462.5 558.9H1467.7" stroke="#00b9c6"/>
<path d="M1467.2 558.9H1472.4" stroke="#0dbdbc"/>
<path d="M1471.9 558.9H1477.2" stroke="#17bfb6"/>
<path d="M1476.7 558.9H1481.9" stroke="#12beb9"/>
<path d="M1481.4 558.9H1486.6" stroke="#07bcbf"/>
<path d="M1486.1 558.9H1491.4" stroke="#04b6ce"/>
<path d="M1490.9 558.9H1496.1" stroke="#1aacdd"/>
<path d="M1495.6 558.9H1500.9" stroke="#2b92ee"/>
<path d="M1500.4 558.9H1505.6" stroke="#3b73ff"/>
<path d="M1505.1 558.9H1510.3" stroke="#4759f9"/>
<path d="M1509.8 558.9H1529.3" stroke="#484aee"/>
<path d="M1528.8 558.9H1534.0" stroke="#4759f9"/>
<path d="M1533.5 558.9H1538.7" stroke="#4367fd"/>
<path d="M1538.2 558.9H1543.5" stroke="#347afd"/>
<path d="M1543.0 558.9H1548.2" stroke="#2d8cf3"/>
<path d="M1547.7 558.9H1552.9" stroke="#269ae9"/>
<path d="M1552.4 558.9H1557.7" stroke="#1ea7e1"/>
<path d="M1557.2 558.9H1562.4" stroke="#10b2d5"/>
<path d="M1561.9 558.9H1567.1" stroke="#02b7cc"/>
<path d="M1566.6 558.9H1571.9" stroke="#04bbc1"/>
<path d="M1571.4 558.9H1576.6" stroke="#12beb9"/>
<path d="M1576.1 558.9H1581.3" stroke="#17bfb6"/>
<path d="M1580.8 558.9H1586.1" stroke="#07bcbf"/>
<path d="M1585.6 558.9H1590.8" stroke="#00b9c6"/>
<path d="M1590.3 558.9H1595.5" stroke="#08b4d0"/>
<path d="M1595.0 558.9H1600.3" stroke="#18addb"/>
<path d="M1599.8 558.9H1605.0" stroke="#1ea7e1"/>
<path d="M1604.5 558.9H1609.8" stroke="#20a5e2"/>
<path d="M1609.3 558.9H1614.5" stroke="#23a1e4"/>
<path d="M1614.0 558.9H1619.2" stroke="#249fe5"/>
<path d="M1618.7 558.9H1624.0" stroke="#259de6"/>
<path d="M1623.5 558.9H1628.7" stroke="#259ce7"/>
<path d="M1628.2 558.9H1633.4" stroke="#269ae9"/>
<path d="M1632.9 558.9H1652.4" stroke="#2798ea"/>
<path d="M1651.9 558.9H1657.1" stroke="#2896ec"/>
<path d="M1003.2 587.2H1008.4" stroke="#16afd9"/>
<path d="M1007.9 587.2H1013.2" stroke="#1aacdd"/>
<path d="M1012.7 587.2H1017.9" stroke="#1caadf"/>
<path d="M1017.4 587.2H1022.6" stroke="#1ea7e1"/>
<path d="M1022.1 587.2H1032.1" stroke="#1da8e0"/>
<path d="M1031.6 587.2H1036.8" stroke="#1caadf"/>
<path d="M1036.3 587.2H1041.6" stroke="#02b7cc"/>
<path d="M1041.1 587.2H1046.3" stroke="#17bfb6"/>
<path d="M1045.8 587.2H1051.0" stroke="#3fca8e"/>
<path d="M1050.5 587.2H1055.8" stroke="#8ecb4f"/>
<path d="M1055.3 587.2H1060.5" stroke="#bac430"/>
<path d="M1060.0 587.2H1065.3" stroke="#e3bc2b"/>
<path d="M1064.8 587.2H1070.0" stroke="#f8ba3d"/>
<path d="M1069.5 587.2H1084.2" stroke="#fec338"/>
<path d="M1083.7 587.2H1088.9" stroke="#febe3c"/>
<path d="M1088.4 587.2H1093.7" stroke="#f1ba37"/>
<path d="M1093.2 587.2H1098.4" stroke="#dabd28"/>
<path d="M1097.9 587.2H1103.1" stroke="#bfc32d"/>
<path d="M1102.6 587.2H1107.9" stroke="#a4c83e"/>
<path d="M1107.4 587.2H1112.6" stroke="#77cc60"/>
<path d="M1112.1 587.2H1117.3" stroke="#52cc7e"/>
<path d="M1116.8 587.2H1122.1" stroke="#4dcc82"/>
<path d="M1121.6 587.2H1131.5" stroke="#48cb86"/>
<path d="M1131.0 587.2H1136.3" stroke="#57cc7a"/>
<path d="M1135.8 587.2H1141.0" stroke="#6bcd69"/>
<path d="M1140.5 587.2H1145.7" stroke="#7dcc5c"/>
<path d="M1145.2 587.2H1150.5" stroke="#8ecb4f"/>
<path d="M1150.0 587.2H1155.2" stroke="#99c946"/>
<path d="M1154.7 587.2H1159.9" stroke="#9fc942"/>
<path d="M1159.4 587.2H1164.7" stroke="#99c946"/>
<path d="M1164.2 587.2H1169.4" stroke="#94ca4a"/>
<path d="M1168.9 587.2H1174.2" stroke="#88cb53"/>
<path d="M1173.7 587.2H1178.9" stroke="#71cd64"/>
<path d="M1178.4 587.2H1183.6" stroke="#57cc7a"/>
<path d="M1183.1 587.2H1188.4" stroke="#48cb86"/>
<path d="M1187.9 587.2H1193.1" stroke="#3cc991"/>
<path d="M1192.6 587.2H1197.8" stroke="#34c79c"/>
<path d="M1197.3 587.2H1202.6" stroke="#2dc4a5"/>
<path d="M1202.1 587.2H1207.3" stroke="#21c1b1"/>
<path d="M1206.8 587.2H1212.0" stroke="#12beb9"/>
<path d="M1211.5 587.2H1216.8" stroke="#04bbc1"/>
<path d="M1216.3 587.2H1221.5" stroke="#01b8c9"/>
<path d="M1221.0 587.2H1226.2" stroke="#08b4d0"/>
<path d="M1225.7 587.2H1231.0" stroke="#02b7cc"/>
<path d="M1230.5 587.2H1235.7" stroke="#04bbc1"/>
<path d="M1235.2 587.2H1240.4" stroke="#17bfb6"/>
<path d="M1239.9 587.2H1245.2" stroke="#25c2ae"/>
<path d="M1244.7 587.2H1249.9" stroke="#2dc4a5"/>
<path d="M1249.4 587.2H1254.6" stroke="#34c79c"/>
<path d="M1254.1 587.2H1259.4" stroke="#3fca8e"/>
<path d="M1258.9 587.2H1264.1" stroke="#48cb86"/>
<path d="M1263.6 587.2H1268.8" stroke="#52cc7e"/>
<path d="M1268.3 587.2H1273.6" stroke="#57cc7a"/>
<path d="M1273.1 587.2H1278.3" stroke="#61cd72"/>
<path d="M1277.8 587.2H1283.1" stroke="#66cd6d"/>
<path d="M1282.6 587.2H1287.8" stroke="#71cd64"/>
<path d="M1287.3 587.2H1292.5" stroke="#77cc60"/>
<path d="M1292.0 587.2H1297.3" stroke="#7dcc5c"/>
<path d="M1296.8 587.2H1302.0" stroke="#71cd64"/>
<path d="M1301.5 587.2H1306.7" stroke="#61cd72"/>
<path d="M1306.2 587.2H1311.5" stroke="#52cc7e"/>
<path d="M1311.0 587.2H1316.2" stroke="#36c898"/>
<path d="M1315.7 587.2H1320.9" stroke="#2bc3a8"/>
<path d="M1320.4 587.2H1325.7" stroke="#17bfb6"/>
<path d="M1325.2 587.2H1330.4" stroke="#01bac4"/>
<path d="M1329.9 587.2H1335.1" stroke="#08b4d0"/>
<path d="M1334.6 587.2H1339.9" stroke="#18addb"/>
<path d="M1339.4 587.2H1344.6" stroke="#20a5e2"/>
<path d="M1344.1 587.2H1349.3" stroke="#259ce7"/>
<path d="M1348.8 587.2H1368.3" stroke="#2896ec"/>
<path d="M1367.8 587.2H1373.0" stroke="#2798ea"/>
<path d="M1372.5 587.2H1377.7" stroke="#259de6"/>
<path d="M1377.2 587.2H1382.5" stroke="#20a5e2"/>
<path d="M1382.0 587.2H1387.2" stroke="#1caadf"/>
<path d="M1386.7 587.2H1392.0" stroke="#13b0d7"/>
<path d="M1391.5 587.2H1396.7" stroke="#04b6ce"/>
<path d="M1396.2 587.2H1401.4" stroke="#00b9c6"/>
<path d="M1400.9 587.2H1406.2" stroke="#07bcbf"/>
<path d="M1405.7 587.2H1410.9" stroke="#17bfb6"/>
<path d="M1410.4 587.2H1415.6" stroke="#12beb9"/>
<path d="M1415.1 587.2H1420.4" stroke="#07bcbf"/>
<path d="M1419.9 587.2H1425.1" stroke="#01bac4"/>
<path d="M1424.6 587.2H1429.8" stroke="#02b7cc"/>
<path d="M1429.3 587.2H1434.6" stroke="#0cb3d3"/>
<path d="M1434.1 587.2H1439.3" stroke="#16afd9"/>
<path d="M1438.8 587.2H1444.0" stroke="#1da8e0"/>
<path d="M1443.5 587.2H1448.8" stroke="#1caadf"/>
<path d="M1448.3 587.2H1453.5" stroke="#18addb"/>
<path d="M1453.0 587.2H1458.2" stroke="#10b2d5"/>
<path d="M1457.7 587.2H1463.0" stroke="#01bac4"/>
<path d="M1462.5 587.2H1467.7" stroke="#28c2ab"/>
<path d="M1467.2 587.2H1472.4" stroke="#39c895"/>
<path d="M1471.9 587.2H1477.2" stroke="#4dcc82"/>
<path d="M1476.7 587.2H1481.9" stroke="#3fca8e"/>
<path d="M1481.4 587.2H1486.6" stroke="#2dc4a5"/>
<path d="M1486.1 587.2H1491.4" stroke="#12beb9"/>
<path d="M1490.9 587.2H1496.1" stroke="#0cb3d3"/>
<path d="M1495.6 587.2H1500.9" stroke="#20a5e2"/>
<path d="M1500.4 587.2H1505.6" stroke="#2896ec"/>
<path d="M1505.1 587.2H1510.3" stroke="#2d8cf3"/>
<path d="M1509.8 587.2H1515.1" stroke="#2d8af5"/>
<path d="M1514.6 587.2H1519.8" stroke="#2e85f8"/>
<path d="M1519.3 587.2H1524.5" stroke="#2e83f9"/>
<path d="M1524.0 587.2H1529.3" stroke="#2f81fa"/>
<path d="M1528.8 587.2H1543.5" stroke="#2e83f9"/>
<path d="M1543.0 587.2H1548.2" stroke="#2e85f8"/>
<path d="M1547.7 587.2H1552.9" stroke="#2d8ef1"/>
<path d="M1552.4 587.2H1557.7" stroke="#2896ec"/>
<path d="M1557.2 587.2H1562.4" stroke="#249fe5"/>
<path d="M1561.9 587.2H1567.1" stroke="#1ea7e1"/>
<path d="M1566.6 587.2H1571.9" stroke="#18addb"/>
<path d="M1571.4 587.2H1576.6" stroke="#10b2d5"/>
<path d="M1576.1 587.2H1581.3" stroke="#04b6ce"/>
<path d="M1580.8 587.2H1586.1" stroke="#00b9c6"/>
<path d="M1585.6 587.2H1590.8" stroke="#04b6ce"/>
<path d="M1590.3 587.2H1595.5" stroke="#0cb3d3"/>
<path d="M1595.0 587.2H1600.3" stroke="#13b0d7"/>
<path d="M1599.8 587.2H1605.0" stroke="#1caadf"/>
<path d="M1604.5 587.2H1609.8" stroke="#249fe5"/>
<path d="M1609.3 587.2H1614.5" stroke="#2b92ee"/>
<path d="M1614.0 587.2H1619.2" stroke="#2d87f6"/>
<path d="M1618.7 587.2H1624.0" stroke="#307ffb"/>
<path d="M1623.5 587.2H1628.7" stroke="#317cfc"/>
<path d="M1628.2 587.2H1633.4" stroke="#2e83f9"/>
<path d="M1632.9 587.2H1638.2" stroke="#2d87f6"/>
<path d="M1637.7 587.2H1642.9" stroke="#2d8ef1"/>
<path d="M1642.4 587.2H1647.6" stroke="#2c90f0"/>
<path d="M1647.1 587.2H1652.4" stroke="#2b92ee"/>
<path d="M1651.9 587.2H1657.1" stroke="#2994ed"/>
</g>
</g>
<rect x="1003.20" y="34.60" width="653.40" height="566.70" fill="none" stroke="#262626" stroke-width="1.10"/>
<g stroke="#262626" stroke-width="1.10"><line x1="1003.20" y1="76.14" x2="1010.00" y2="76.14"/><line x1="1656.60" y1="76.14" x2="1649.80" y2="76.14"/><line x1="1003.20" y1="132.86" x2="1010.00" y2="132.86"/><line x1="1656.60" y1="132.86" x2="1649.80" y2="132.86"/><line x1="1003.20" y1="189.58" x2="1010.00" y2="189.58"/><line x1="1656.60" y1="189.58" x2="1649.80" y2="189.58"/><line x1="1003.20" y1="246.30" x2="1010.00" y2="246.30"/><line x1="1656.60" y1="246.30" x2="1649.80" y2="246.30"/><line x1="1003.20" y1="303.02" x2="1010.00" y2="303.02"/><line x1="1656.60" y1="303.02" x2="1649.80" y2="303.02"/><line x1="1003.20" y1="359.74" x2="1010.00" y2="359.74"/><line x1="1656.60" y1="359.74" x2="1649.80" y2="359.74"/><line x1="1003.20" y1="416.46" x2="1010.00" y2="416.46"/><line x1="1656.60" y1="416.46" x2="1649.80" y2="416.46"/><line x1="1003.20" y1="473.18" x2="1010.00" y2="473.18"/><line x1="1656.60" y1="473.18" x2="1649.80" y2="473.18"/><line x1="1003.20" y1="529.90" x2="1010.00" y2="529.90"/><line x1="1656.60" y1="529.90" x2="1649.80" y2="529.90"/><line x1="1003.20" y1="586.62" x2="1010.00" y2="586.62"/><line x1="1656.60" y1="586.62" x2="1649.80" y2="586.62"/><line x1="1091.50" y1="34.60" x2="1091.50" y2="41.40"/><line x1="1091.50" y1="601.30" x2="1091.50" y2="594.50"/><line x1="1186.22" y1="34.60" x2="1186.22" y2="41.40"/><line x1="1186.22" y1="601.30" x2="1186.22" y2="594.50"/><line x1="1280.94" y1="34.60" x2="1280.94" y2="41.40"/><line x1="1280.94" y1="601.30" x2="1280.94" y2="594.50"/><line x1="1375.66" y1="34.60" x2="1375.66" y2="41.40"/><line x1="1375.66" y1="601.30" x2="1375.66" y2="594.50"/><line x1="1470.38" y1="34.60" x2="1470.38" y2="41.40"/><line x1="1470.38" y1="601.30" x2="1470.38" y2="594.50"/><line x1="1565.10" y1="34.60" x2="1565.10" y2="41.40"/><line x1="1565.10" y1="601.30" x2="1565.10" y2="594.50"/></g>
<g font-family="Liberation Sans, Arial, sans-serif" font-size="22.80" fill="#1c1c1c"><text transform="translate(993.60 85.64) scale(1 1.04)" text-anchor="end">2</text><text transform="translate(993.60 142.36) scale(1 1.04)" text-anchor="end">4</text><text transform="translate(993.60 199.08) scale(1 1.04)" text-anchor="end">6</text><text transform="translate(993.60 255.80) scale(1 1.04)" text-anchor="end">8</text><text transform="translate(993.60 312.52) scale(1 1.04)" text-anchor="end">10</text><text transform="translate(993.60 369.24) scale(1 1.04)" text-anchor="end">12</text><text transform="translate(993.60 425.96) scale(1 1.04)" text-anchor="end">14</text><text transform="translate(993.60 482.68) scale(1 1.04)" text-anchor="end">16</text><text transform="translate(993.60 539.40) scale(1 1.04)" text-anchor="end">18</text><text transform="translate(993.60 596.12) scale(1 1.04)" text-anchor="end">20</text><text transform="translate(1091.50 634.30) scale(1 1.04)" text-anchor="middle">60</text><text transform="translate(1186.22 634.30) scale(1 1.04)" text-anchor="middle">80</text><text transform="translate(1280.94 634.30) scale(1 1.04)" text-anchor="middle">100</text><text transform="translate(1375.66 634.30) scale(1 1.04)" text-anchor="middle">120</text><text transform="translate(1470.38 634.30) scale(1 1.04)" text-anchor="middle">140</text><text transform="translate(1565.10 634.30) scale(1 1.04)" text-anchor="middle">160</text><text transform="translate(1718.80 79.20) scale(1 1.04)" font-size="20.40">0.04</text><text transform="translate(1718.80 164.45) scale(1 1.04)" font-size="20.40">0.03</text><text transform="translate(1718.80 249.70) scale(1 1.04)" font-size="20.40">0.02</text><text transform="translate(1718.80 334.95) scale(1 1.04)" font-size="20.40">0.01</text><text transform="translate(1718.80 420.20) scale(1 1.04)" font-size="20.40">0</text><text transform="translate(1718.80 505.45) scale(1 1.04)" font-size="20.40">-0.01</text><text transform="translate(1718.80 590.70) scale(1 1.04)" font-size="20.40">-0.02</text></g>
<defs><linearGradient id="rcb" x1="0" y1="0" x2="0" y2="1"><stop offset="0.0000" stop-color="#f9fb15"/><stop offset="0.0312" stop-color="#f6ef20"/><stop offset="0.0625" stop-color="#f5e327"/><stop offset="0.0938" stop-color="#f9d62d"/><stop offset="0.1250" stop-color="#feca33"/><stop offset="0.1562" stop-color="#febe3c"/><stop offset="0.1875" stop-color="#f1ba37"/><stop offset="0.2188" stop-color="#debc29"/><stop offset="0.2500" stop-color="#c8c129"/><stop offset="0.2812" stop-color="#afc636"/><stop offset="0.3125" stop-color="#94ca4a"/><stop offset="0.3438" stop-color="#77cc60"/><stop offset="0.3750" stop-color="#5ccc76"/><stop offset="0.4062" stop-color="#43cb8a"/><stop offset="0.4375" stop-color="#34c79c"/><stop offset="0.4688" stop-color="#28c2ab"/><stop offset="0.5000" stop-color="#12beb9"/><stop offset="0.5312" stop-color="#00b9c6"/><stop offset="0.5625" stop-color="#0cb3d3"/><stop offset="0.5938" stop-color="#1aacdd"/><stop offset="0.6250" stop-color="#21a3e3"/><stop offset="0.6562" stop-color="#269ae9"/><stop offset="0.6875" stop-color="#2c90f0"/><stop offset="0.7188" stop-color="#2e85f8"/><stop offset="0.7500" stop-color="#347afd"/><stop offset="0.7812" stop-color="#3f6eff"/><stop offset="0.8125" stop-color="#4562fc"/><stop offset="0.8438" stop-color="#4757f7"/><stop offset="0.8750" stop-color="#484cef"/><stop offset="0.9062" stop-color="#4741e5"/><stop offset="0.9375" stop-color="#4536d5"/><stop offset="0.9688" stop-color="#422ebf"/><stop offset="1.0000" stop-color="#3e26a8"/></linearGradient></defs><rect x="1675.40" y="34.60" width="34.90" height="565.70" fill="url(#rcb)" stroke="#262626" stroke-width="1.10"/>
<g stroke="#262626" stroke-width="1.10"><line x1="1710.30" y1="70.90" x2="1704.30" y2="70.90"/><line x1="1710.30" y1="156.15" x2="1704.30" y2="156.15"/><line x1="1710.30" y1="241.40" x2="1704.30" y2="241.40"/><line x1="1710.30" y1="326.65" x2="1704.30" y2="326.65"/><line x1="1710.30" y1="411.90" x2="1704.30" y2="411.90"/><line x1="1710.30" y1="497.15" x2="1704.30" y2="497.15"/><line x1="1710.30" y1="582.40" x2="1704.30" y2="582.40"/></g>
<text x="1330.60" y="26.60" text-anchor="middle" font-family="Liberation Sans, Arial, sans-serif" font-weight="bold" font-size="24.90" fill="#000">Subtraction</text>
<text y="675.10" font-family="Liberation Serif, Times New Roman, serif" font-size="42.00" fill="#222"><tspan x="1174.60" textLength="98.80" lengthAdjust="spacingAndGlyphs">Heart</tspan> <tspan x="1288.50" textLength="84.00" lengthAdjust="spacingAndGlyphs">Rate</tspan> <tspan x="1386.00" textLength="101.00" lengthAdjust="spacingAndGlyphs">[bpm]</tspan> </text>
<text transform="translate(948.60 0) rotate(-90)" font-family="Liberation Serif, Times New Roman, serif" font-size="42.00" fill="#222"><tspan x="-431.80" y="0" textLength="85.00" lengthAdjust="spacingAndGlyphs">Time</tspan> <tspan x="-334.60" y="0" textLength="84.40" lengthAdjust="spacingAndGlyphs">Step</tspan> <tspan x="-237.00" y="0" textLength="29.00" lengthAdjust="spacingAndGlyphs" font-style="italic">T</tspan> </text>
<text x="1196.00" y="752.80" textLength="66.00" lengthAdjust="spacingAndGlyphs" font-family="Liberation Serif, Times New Roman, serif" font-size="54.00" fill="#111">(b)</text>
</svg>
</body></html>
